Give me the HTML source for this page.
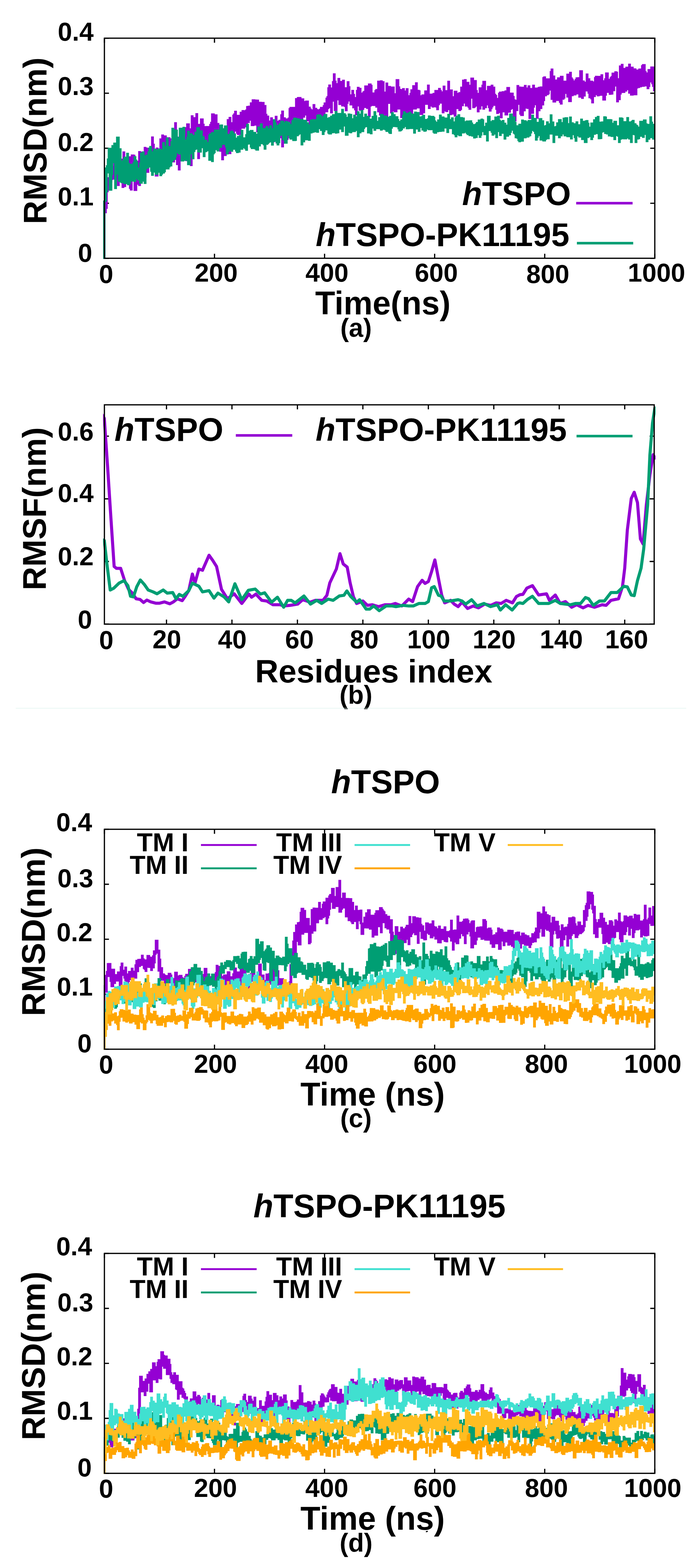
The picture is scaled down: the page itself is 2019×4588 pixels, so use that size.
<!DOCTYPE html><html><head><meta charset="utf-8"><title>RMSD / RMSF plots</title><style>html,body{margin:0;padding:0;background:#fff;}svg{display:block;}text{font-family:"Liberation Sans",Arial,Helvetica,sans-serif;font-weight:bold;fill:#000;}</style></head><body>
<svg width="2019" height="4588" viewBox="0 0 2019 4588">
<rect width="2019" height="4588" fill="#fff"/>
<defs><clipPath id="ca"><rect x="301.5" y="107.7" width="1618.5" height="652.0"/></clipPath>
<clipPath id="cb"><rect x="301.5" y="1180.5" width="1616.7" height="649.8"/></clipPath>
<clipPath id="cc"><rect x="301.5" y="2422.5" width="1618.5" height="651.5"/></clipPath>
<clipPath id="cd"><rect x="301.5" y="3663.5" width="1618.5" height="651.5"/></clipPath></defs>
<path d="M305.5 755.7V742.4M305.5 111.7V125.0M627.6 755.7V742.4M627.6 111.7V125.0M949.7 755.7V742.4M949.7 111.7V125.0M1271.8 755.7V742.4M1271.8 111.7V125.0M1593.9 755.7V742.4M1593.9 111.7V125.0M1916.0 755.7V742.4M1916.0 111.7V125.0M305.5 755.7H318.8M1916.0 755.7H1902.7M305.5 594.7H318.8M1916.0 594.7H1902.7M305.5 433.7H318.8M1916.0 433.7H1902.7M305.5 272.7H318.8M1916.0 272.7H1902.7M305.5 111.7H318.8M1916.0 111.7H1902.7" stroke="#000" stroke-width="3.6" fill="none"/>
<g clip-path="url(#ca)">
<path d="M306.0 757.7V610.8" stroke="#9400d3" stroke-width="5"/>
<path d="M307.1 544.9V544.9H309.8V530.2H312.5V518.4H315.2V518.4H317.9V510.5H320.6V510.5H323.3V501.4H326.0V499.4H328.7V485.4H331.4V476.1H334.1V475.2H336.8V475.2H339.5V475.2H342.2V471.3H344.9V465.4H347.6V465.4H350.3V465.4H353.0V464.3H355.7V464.3H358.4V443.0H361.1V443.0H363.8V443.0H366.5V463.6H369.2V466.9H371.9V457.2H374.6V457.2H377.3V457.2H380.0V457.2H382.7V452.0H385.4V452.0H388.1V452.0H390.8V452.0H393.5V453.0H396.2V470.3H398.9V470.3H401.6V470.3H404.3V442.1H407.0V442.1H409.7V442.1H412.4V443.8H415.1V443.3H417.8V443.3H420.5V429.8H423.2V429.8H425.9V429.8H428.6V432.0H431.3V432.0H434.0V432.0H436.7V429.5H439.4V429.5H442.1V399.3H444.8V399.3H447.5V399.3H450.2V420.5H452.9V436.6H455.6V431.8H458.3V431.8H461.0V431.8H463.7V434.5H466.4V405.1H469.1V405.1H471.8V393.5H474.5V393.5H477.2V393.5H479.9V396.2H482.6V396.2H485.3V396.2H488.0V401.5H490.7V401.5H493.4V401.5H496.1V401.5H498.8V404.8H501.5V419.1H504.2V391.2H506.9V391.2H509.6V357.6H512.3V357.6H515.0V357.6H517.7V398.2H520.4V400.1H523.1V395.9H525.8V388.6H528.5V388.6H531.2V388.6H533.9V389.5H536.6V371.9H539.3V371.9H542.0V371.9H544.7V361.0H547.4V361.0H550.1V361.0H552.8V361.0H555.5V375.4H558.2V337.3H560.9V337.3H563.6V337.3H566.3V342.8H569.0V342.8H571.7V331.0H574.4V331.0H577.1V331.0H579.8V362.4H582.5V362.4H585.2V346.4H587.9V346.4H590.6V346.4H593.3V346.4H596.0V362.0H598.7V368.9H601.4V368.7H604.1V368.7H606.8V368.7H609.5V368.7H612.2V362.7H614.9V356.5H617.6V331.8H620.3V331.8H623.0V331.8H625.7V331.8H628.4V334.6H631.1V334.6H633.8V334.6H636.5V359.8H639.2V359.8H641.9V365.7H644.6V386.8H647.3V387.4H650.0V387.4H652.7V389.1H655.4V371.8H658.1V371.8H660.8V371.8H663.5V348.6H666.2V348.6H668.9V342.1H671.6V342.1H674.3V342.1H677.0V357.5H679.7V335.4H682.4V331.7H685.1V324.1H687.8V324.1H690.5V324.1H693.2V336.1H695.9V336.1H698.6V336.1H701.3V327.1H704.0V327.1H706.7V321.9H709.4V321.9H712.1V321.9H714.8V322.4H717.5V320.2H720.2V310.3H722.9V310.0H725.6V309.3H728.3V309.3H731.0V299.6H733.7V299.6H736.4V290.4H739.1V290.4H741.8V290.4H744.5V290.4H747.2V291.3H749.9V291.3H752.6V291.6H755.3V291.6H758.0V297.7H760.7V297.7H763.4V297.7H766.1V298.3H768.8V298.3H771.5V298.3H774.2V307.3H776.9V307.3H779.6V333.1H782.3V338.3H785.0V338.3H787.7V352.8H790.4V343.3H793.1V343.3H795.8V343.3H798.5V349.0H801.2V361.9H803.9V338.8H806.6V338.8H809.3V338.8H812.0V353.4H814.7V350.6H817.4V350.6H820.1V334.3H822.8V323.4H825.5V323.4H828.2V323.4H830.9V343.3H833.6V343.3H836.3V346.6H839.0V346.6H841.7V344.0H844.4V316.2H847.1V312.7H849.8V312.7H852.5V312.7H855.2V312.7H857.9V312.7H860.6V312.7H863.3V287.1H866.0V287.1H868.7V284.0H871.4V283.8H874.1V283.8H876.8V283.8H879.5V283.8H882.2V287.7H884.9V287.7H887.6V287.7H890.3V295.4H893.0V294.3H895.7V294.3H898.4V294.3H901.1V294.3H903.8V311.9H906.5V311.9H909.2V317.2H911.9V320.0H914.6V304.6H917.3V304.6H920.0V304.6H922.7V315.6H925.4V315.6H928.1V319.1H930.8V319.9H933.5V318.1H936.2V312.8H938.9V312.8H941.6V312.8H944.3V307.5H947.0V299.7H949.7V299.7H952.4V285.7H955.1V281.3H957.8V255.3H960.5V247.2H963.2V247.2H965.9V247.2H968.6V255.9H971.3V237.3H974.0V214.5H976.7V214.5H979.4V214.5H982.1V236.1H984.8V243.2H987.5V228.0H990.2V228.0H992.9V228.0H995.6V236.8H998.3V236.8H1001.0V233.2H1003.7V233.2H1006.4V233.2H1009.1V255.2H1011.8V255.2H1014.5V237.6H1017.2V237.6H1019.9V237.6H1022.6V252.3H1025.3V276.0H1028.0V263.0H1030.7V263.0H1033.4V263.0H1036.1V274.7H1038.8V283.9H1041.5V262.9H1044.2V253.9H1046.9V253.9H1049.6V253.9H1052.3V257.1H1055.0V257.1H1057.7V270.9H1060.4V267.5H1063.1V265.8H1065.8V250.0H1068.5V250.0H1071.2V250.0H1073.9V250.0H1076.6V244.2H1079.3V244.2H1082.0V244.2H1084.7V244.2H1087.4V248.3H1090.1V270.6H1092.8V270.6H1095.5V263.4H1098.2V260.6H1100.9V260.6H1103.6V236.0H1106.3V236.0H1109.0V236.0H1111.7V235.1H1114.4V235.1H1117.1V235.1H1119.8V237.5H1122.5V237.5H1125.2V268.0H1127.9V241.4H1130.6V241.4H1133.3V241.4H1136.0V251.5H1138.7V251.5H1141.4V251.5H1144.1V253.2H1146.8V253.2H1149.5V253.2H1152.2V253.2H1154.9V272.7H1157.6V231.5H1160.3V231.5H1163.0V231.5H1165.7V231.5H1168.4V252.8H1171.1V260.1H1173.8V260.8H1176.5V257.8H1179.2V257.8H1181.9V257.8H1184.6V264.8H1187.3V258.0H1190.0V258.0H1192.7V258.0H1195.4V278.6H1198.1V271.7H1200.8V261.3H1203.5V261.3H1206.2V249.3H1208.9V249.3H1211.6V249.3H1214.3V240.7H1217.0V240.7H1219.7V240.7H1222.4V262.7H1225.1V262.7H1227.8V264.2H1230.5V278.7H1233.2V276.3H1235.9V276.3H1238.6V276.3H1241.3V264.5H1244.0V264.5H1246.7V264.5H1249.4V247.6H1252.1V247.6H1254.8V247.6H1257.5V274.1H1260.2V274.1H1262.9V274.1H1265.6V271.7H1268.3V271.7H1271.0V263.2H1273.7V263.2H1276.4V263.2H1279.1V263.2H1281.8V257.3H1284.5V257.3H1287.2V257.3H1289.9V262.9H1292.6V267.2H1295.3V250.5H1298.0V250.5H1300.7V250.5H1303.4V263.7H1306.1V263.7H1308.8V236.2H1311.5V236.2H1314.2V236.2H1316.9V261.8H1319.6V261.8H1322.3V261.8H1325.0V281.4H1327.7V265.4H1330.4V265.4H1333.1V265.4H1335.8V265.4H1338.5V271.8H1341.2V269.5H1343.9V269.5H1346.6V253.6H1349.3V253.6H1352.0V232.9H1354.7V232.9H1357.4V231.6H1360.1V231.6H1362.8V231.6H1365.5V239.5H1368.2V239.5H1370.9V239.5H1373.6V248.1H1376.3V227.1H1379.0V227.1H1381.7V227.1H1384.4V227.1H1387.1V234.3H1389.8V234.3H1392.5V234.3H1395.2V263.6H1397.9V271.7H1400.6V255.5H1403.3V255.5H1406.0V255.5H1408.7V247.8H1411.4V236.4H1414.1V236.4H1416.8V236.4H1419.5V236.4H1422.2V263.8H1424.9V251.2H1427.6V251.2H1430.3V251.2H1433.0V251.2H1435.7V247.7H1438.4V247.7H1441.1V247.7H1443.8V253.4H1446.5V253.4H1449.2V274.5H1451.9V277.8H1454.6V286.4H1457.3V271.3H1460.0V268.1H1462.7V268.1H1465.4V268.1H1468.1V266.7H1470.8V266.7H1473.5V266.7H1476.2V264.5H1478.9V264.5H1481.6V254.5H1484.3V254.5H1487.0V254.5H1489.7V254.5H1492.4V270.9H1495.1V270.9H1497.8V270.9H1500.5V270.9H1503.2V280.8H1505.9V290.4H1508.6V291.7H1511.3V248.8H1514.0V248.8H1516.7V248.8H1519.4V253.2H1522.1V253.2H1524.8V253.7H1527.5V253.7H1530.2V253.7H1532.9V248.4H1535.6V248.4H1538.3V248.4H1541.0V255.9H1543.7V249.7H1546.4V249.7H1549.1V249.7H1551.8V257.5H1554.5V257.5H1557.2V247.8H1559.9V247.8H1562.6V247.8H1565.3V256.2H1568.0V256.2H1570.7V256.2H1573.4V254.0H1576.1V254.0H1578.8V253.1H1581.5V253.1H1584.2V253.1H1586.9V225.4H1589.6V223.5H1592.3V223.5H1595.0V223.5H1597.7V229.3H1600.4V229.3H1603.1V229.3H1605.8V229.3H1608.5V208.0H1611.2V200.6H1613.9V200.6H1616.6V200.6H1619.3V221.0H1622.0V221.0H1624.7V232.7H1627.4V232.5H1630.1V226.3H1632.8V226.3H1635.5V226.3H1638.2V221.7H1640.9V221.7H1643.6V221.7H1646.3V221.7H1649.0V236.0H1651.7V236.0H1654.4V236.0H1657.1V215.4H1659.8V215.4H1662.5V215.4H1665.2V210.1H1667.9V210.1H1670.6V210.1H1673.3V226.6H1676.0V230.5H1678.7V235.2H1681.4V231.1H1684.1V226.2H1686.8V226.2H1689.5V225.7H1692.2V225.7H1694.9V205.4H1697.6V205.4H1700.3V205.4H1703.0V205.4H1705.7V235.5H1708.4V235.5H1711.1V239.1H1713.8V215.1H1716.5V215.1H1719.2V215.1H1721.9V229.1H1724.6V229.1H1727.3V236.0H1730.0V236.0H1732.7V236.0H1735.4V238.3H1738.1V225.5H1740.8V221.7H1743.5V221.7H1746.2V221.7H1748.9V222.1H1751.6V222.1H1754.3V222.1H1757.0V217.3H1759.7V217.3H1762.4V217.3H1765.1V234.7H1767.8V229.1H1770.5V211.9H1773.2V211.9H1775.9V211.9H1778.6V211.9H1781.3V230.6H1784.0V225.4H1786.7V222.5H1789.4V212.5H1792.1V212.5H1794.8V212.5H1797.5V208.6H1800.2V208.6H1802.9V208.6H1805.6V209.8H1808.3V228.8H1811.0V191.6H1813.7V191.6H1816.4V186.8H1819.1V186.8H1821.8V186.8H1824.5V198.8H1827.2V198.8H1829.9V194.9H1832.6V194.9H1835.3V194.9H1838.0V186.2H1840.7V186.2H1843.4V186.2H1846.1V195.1H1848.8V195.1H1851.5V195.1H1854.2V200.0H1856.9V200.0H1859.6V200.0H1862.3V203.4H1865.0V203.4H1867.7V200.5H1870.4V200.5H1873.1V200.5H1875.8V190.4H1878.5V187.5H1881.2V187.5H1883.9V187.5H1886.6V187.5H1889.3V207.7H1892.0V212.1H1894.7V201.9H1897.4V201.9H1900.1V201.9H1902.8V194.6H1905.5V194.6H1908.2V194.6H1910.9V194.6H1913.6V195.2H1916.3V267.2H1913.6V267.2H1910.9V254.3H1908.2V246.4H1905.5V241.3H1902.8V254.6H1900.1V261.1H1897.4V261.1H1894.7V261.1H1892.0V252.8H1889.3V252.8H1886.6V253.9H1883.9V253.9H1881.2V253.9H1878.5V255.5H1875.8V255.5H1873.1V257.4H1870.4V257.4H1867.7V259.0H1865.0V278.7H1862.3V278.7H1859.6V278.7H1856.9V278.7H1854.2V279.8H1851.5V279.8H1848.8V279.8H1846.1V279.8H1843.4V274.1H1840.7V274.1H1838.0V263.7H1835.3V267.9H1832.6V267.9H1829.9V271.9H1827.2V271.9H1824.5V271.9H1821.8V271.9H1819.1V276.7H1816.4V292.9H1813.7V292.9H1811.0V299.4H1808.3V299.4H1805.6V299.4H1802.9V253.2H1800.2V266.8H1797.5V266.8H1794.8V276.7H1792.1V276.7H1789.4V277.5H1786.7V277.5H1784.0V277.5H1781.3V271.8H1778.6V271.8H1775.9V280.1H1773.2V294.2H1770.5V294.2H1767.8V294.2H1765.1V294.2H1762.4V280.2H1759.7V280.2H1757.0V280.6H1754.3V281.9H1751.6V281.9H1748.9V281.9H1746.2V278.4H1743.5V284.1H1740.8V284.1H1738.1V302.6H1735.4V302.6H1732.7V302.6H1730.0V290.8H1727.3V287.5H1724.6V287.5H1721.9V274.3H1719.2V267.8H1716.5V267.5H1713.8V282.6H1711.1V282.6H1708.4V289.4H1705.7V289.4H1703.0V289.4H1700.3V285.8H1697.6V285.8H1694.9V285.8H1692.2V276.2H1689.5V276.2H1686.8V279.2H1684.1V279.2H1681.4V279.2H1678.7V281.6H1676.0V281.6H1673.3V298.7H1670.6V298.7H1667.9V298.7H1665.2V298.7H1662.5V285.5H1659.8V285.5H1657.1V274.8H1654.4V288.5H1651.7V291.8H1649.0V291.8H1646.3V306.1H1643.6V306.1H1640.9V306.1H1638.2V300.9H1635.5V295.6H1632.8V295.6H1630.1V295.6H1627.4V300.1H1624.7V300.1H1622.0V300.1H1619.3V300.1H1616.6V292.2H1613.9V292.2H1611.2V265.1H1608.5V275.8H1605.8V278.4H1603.1V278.4H1600.4V281.8H1597.7V281.8H1595.0V295.7H1592.3V308.5H1589.6V308.5H1586.9V318.9H1584.2V318.9H1581.5V325.4H1578.8V325.4H1576.1V347.4H1573.4V347.4H1570.7V347.4H1568.0V307.9H1565.3V315.0H1562.6V333.0H1559.9V333.0H1557.2V333.0H1554.5V348.3H1551.8V348.3H1549.1V348.3H1546.4V318.8H1543.7V318.8H1541.0V317.7H1538.3V325.7H1535.6V325.7H1532.9V339.6H1530.2V339.6H1527.5V339.6H1524.8V339.6H1522.1V335.4H1519.4V306.7H1516.7V325.0H1514.0V325.0H1511.3V355.3H1508.6V355.3H1505.9V355.3H1503.2V342.3H1500.5V319.2H1497.8V321.5H1495.1V329.7H1492.4V329.7H1489.7V329.7H1487.0V337.7H1484.3V337.7H1481.6V337.7H1478.9V337.7H1476.2V328.7H1473.5V328.7H1470.8V346.3H1468.1V346.3H1465.4V346.3H1462.7V330.7H1460.0V333.6H1457.3V333.6H1454.6V333.6H1451.9V321.5H1449.2V309.8H1446.5V309.8H1443.8V314.2H1441.1V319.5H1438.4V326.4H1435.7V326.4H1433.0V326.4H1430.3V316.2H1427.6V308.4H1424.9V316.6H1422.2V316.6H1419.5V320.9H1416.8V320.9H1414.1V320.9H1411.4V311.0H1408.7V320.4H1406.0V320.4H1403.3V328.8H1400.6V328.8H1397.9V328.8H1395.2V311.8H1392.5V314.7H1389.8V316.6H1387.1V316.6H1384.4V316.6H1381.7V288.8H1379.0V321.3H1376.3V321.3H1373.6V321.3H1370.9V315.6H1368.2V311.7H1365.5V311.7H1362.8V311.7H1360.1V303.1H1357.4V310.7H1354.7V310.7H1352.0V321.8H1349.3V324.9H1346.6V324.9H1343.9V324.9H1341.2V319.2H1338.5V319.2H1335.8V341.5H1333.1V341.5H1330.4V341.5H1327.7V335.6H1325.0V335.6H1322.3V337.1H1319.6V337.1H1316.9V337.1H1314.2V322.2H1311.5V327.9H1308.8V327.9H1306.1V327.9H1303.4V326.0H1300.7V331.5H1298.0V331.5H1295.3V331.5H1292.6V303.3H1289.9V303.3H1287.2V307.7H1284.5V322.6H1281.8V322.6H1279.1V322.6H1276.4V314.8H1273.7V313.7H1271.0V314.8H1268.3V314.8H1265.6V314.8H1262.9V311.7H1260.2V319.0H1257.5V319.0H1254.8V319.0H1252.1V306.8H1249.4V306.8H1246.7V306.8H1244.0V331.4H1241.3V331.4H1238.6V336.5H1235.9V336.5H1233.2V336.5H1230.5V336.5H1227.8V317.2H1225.1V317.3H1222.4V317.3H1219.7V320.6H1217.0V320.6H1214.3V320.6H1211.6V320.6H1208.9V335.1H1206.2V335.1H1203.5V338.2H1200.8V339.8H1198.1V339.8H1195.4V339.8H1192.7V344.3H1190.0V344.3H1187.3V344.3H1184.6V339.5H1181.9V339.5H1179.2V345.5H1176.5V345.5H1173.8V345.5H1171.1V320.5H1168.4V320.5H1165.7V320.5H1163.0V328.6H1160.3V328.6H1157.6V328.6H1154.9V328.6H1152.2V326.2H1149.5V331.8H1146.8V331.8H1144.1V331.8H1141.4V304.0H1138.7V304.0H1136.0V342.2H1133.3V342.2H1130.6V342.2H1127.9V351.2H1125.2V351.2H1122.5V351.2H1119.8V351.2H1117.1V338.1H1114.4V338.1H1111.7V338.1H1109.0V328.8H1106.3V328.8H1103.6V315.1H1100.9V315.1H1098.2V310.3H1095.5V310.3H1092.8V310.0H1090.1V310.0H1087.4V311.9H1084.7V342.7H1082.0V342.7H1079.3V342.7H1076.6V318.7H1073.9V318.7H1071.2V316.1H1068.5V316.1H1065.8V321.4H1063.1V328.8H1060.4V328.8H1057.7V328.8H1055.0V323.9H1052.3V323.9H1049.6V311.5H1046.9V337.6H1044.2V337.6H1041.5V337.6H1038.8V322.7H1036.1V316.9H1033.4V316.9H1030.7V308.4H1028.0V308.4H1025.3V308.4H1022.6V296.9H1019.9V303.7H1017.2V325.6H1014.5V325.6H1011.8V325.6H1009.1V313.0H1006.4V311.5H1003.7V311.5H1001.0V311.5H998.3V307.3H995.6V307.3H992.9V307.3H990.2V293.7H987.5V324.8H984.8V324.8H982.1V324.8H979.4V324.8H976.7V297.6H974.0V331.8H971.3V331.8H968.6V331.8H965.9V316.7H963.2V319.2H960.5V328.5H957.8V328.5H955.1V328.5H952.4V334.3H949.7V347.5H947.0V347.5H944.3V351.0H941.6V354.1H938.9V354.1H936.2V354.1H933.5V354.1H930.8V343.6H928.1V357.7H925.4V357.7H922.7V357.7H920.0V370.1H917.3V370.1H914.6V370.1H911.9V365.0H909.2V365.0H906.5V365.0H903.8V355.2H901.1V355.2H898.4V355.2H895.7V338.1H893.0V344.2H890.3V344.2H887.6V355.0H884.9V355.0H882.2V355.0H879.5V350.1H876.8V349.2H874.1V358.4H871.4V382.1H868.7V382.1H866.0V382.1H863.3V371.8H860.6V381.4H857.9V381.4H855.2V381.4H852.5V381.1H849.8V399.3H847.1V399.3H844.4V409.4H841.7V409.4H839.0V412.7H836.3V412.7H833.6V412.7H830.9V431.2H828.2V431.2H825.5V431.2H822.8V404.6H820.1V394.8H817.4V408.0H814.7V419.7H812.0V419.7H809.3V419.7H806.6V412.2H803.9V416.6H801.2V416.6H798.5V416.6H795.8V415.8H793.1V415.5H790.4V415.5H787.7V415.5H785.0V415.2H782.3V415.2H779.6V392.3H776.9V376.7H774.2V384.6H771.5V384.6H768.8V384.6H766.1V363.7H763.4V363.7H760.7V387.0H758.0V387.0H755.3V387.0H752.6V387.0H749.9V367.6H747.2V367.6H744.5V368.9H741.8V368.9H739.1V368.9H736.4V368.9H733.7V353.3H731.0V360.1H728.3V360.1H725.6V372.4H722.9V372.4H720.2V372.4H717.5V376.6H714.8V376.6H712.1V376.6H709.4V376.6H706.7V380.5H704.0V395.0H701.3V395.0H698.6V395.0H695.9V395.0H693.2V391.2H690.5V384.9H687.8V392.2H685.1V417.9H682.4V417.9H679.7V437.3H677.0V451.1H674.3V451.1H671.6V451.1H668.9V451.1H666.2V440.2H663.5V456.4H660.8V456.4H658.1V456.4H655.4V468.9H652.7V468.9H650.0V468.9H647.3V444.0H644.6V444.0H641.9V424.7H639.2V420.6H636.5V420.6H633.8V426.9H631.1V426.9H628.4V426.9H625.7V433.4H623.0V433.4H620.3V433.4H617.6V425.4H614.9V437.9H612.2V437.9H609.5V437.9H606.8V430.6H604.1V430.6H601.4V420.2H598.7V429.9H596.0V429.9H593.3V429.9H590.6V416.3H587.9V433.8H585.2V465.6H582.5V465.6H579.8V465.6H577.1V437.4H574.4V427.6H571.7V427.6H569.0V433.6H566.3V433.6H563.6V486.0H560.9V486.0H558.2V486.0H555.5V455.3H552.8V471.5H550.1V471.5H547.4V471.5H544.7V471.5H542.0V451.9H539.3V465.6H536.6V469.7H533.9V469.7H531.2V469.7H528.5V498.8H525.8V498.8H523.1V498.8H520.4V483.0H517.7V483.0H515.0V468.1H512.3V475.2H509.6V475.2H506.9V475.2H504.2V475.2H501.5V468.5H498.8V468.5H496.1V470.6H493.4V470.6H490.7V472.9H488.0V472.9H485.3V490.2H482.6V490.2H479.9V490.2H477.2V490.2H474.5V495.4H471.8V500.3H469.1V500.3H466.4V502.5H463.7V516.4H461.0V516.4H458.3V516.4H455.6V516.4H452.9V502.3H450.2V502.3H447.5V499.2H444.8V499.2H442.1V499.2H439.4V478.8H436.7V505.8H434.0V505.8H431.3V505.8H428.6V519.3H425.9V519.3H423.2V521.8H420.5V521.8H417.8V521.8H415.1V521.8H412.4V544.3H409.7V544.3H407.0V544.3H404.3V540.6H401.6V558.8H398.9V558.8H396.2V558.8H393.5V558.8H390.8V530.6H388.1V557.4H385.4V557.4H382.7V557.4H380.0V552.7H377.3V536.1H374.6V536.1H371.9V526.5H369.2V547.3H366.5V547.3H363.8V549.9H361.1V549.9H358.4V549.9H355.7V526.0H353.0V514.8H350.3V544.3H347.6V544.3H344.9V544.3H342.2V525.6H339.5V525.6H336.8V525.6H334.1V525.6H331.4V526.5H328.7V533.9H326.0V543.8H323.3V543.8H320.6V543.8H317.9V562.5H315.2V611.0H312.5V624.0H309.8V624.0H307.1Z" fill="#9400d3"/>
<path d="M305.0 757.7V586.7" stroke="#009e73" stroke-width="7"/>
<path d="M307.1 490.0V490.0H309.8V483.5H312.5V463.7H315.2V432.5H317.9V432.5H320.6V432.5H323.3V432.5H326.0V424.6H328.7V424.6H331.4V417.3H334.1V417.3H336.8V417.3H339.5V399.7H342.2V399.7H344.9V399.7H347.6V399.7H350.3V433.7H353.0V433.7H355.7V469.7H358.4V464.9H361.1V458.4H363.8V458.4H366.5V458.4H369.2V447.0H371.9V447.0H374.6V447.0H377.3V476.8H380.0V479.3H382.7V479.3H385.4V479.3H388.1V473.9H390.8V456.9H393.5V456.9H396.2V456.9H398.9V466.8H401.6V473.4H404.3V489.7H407.0V475.8H409.7V446.5H412.4V446.5H415.1V442.9H417.8V442.9H420.5V442.9H423.2V454.5H425.9V452.2H428.6V452.2H431.3V443.1H434.0V432.2H436.7V426.9H439.4V426.9H442.1V426.9H444.8V442.7H447.5V434.8H450.2V434.8H452.9V434.8H455.6V436.7H458.3V436.7H461.0V434.7H463.7V434.7H466.4V434.7H469.1V434.7H471.8V437.1H474.5V415.4H477.2V415.4H479.9V415.4H482.6V426.5H485.3V402.3H488.0V402.3H490.7V402.3H493.4V427.2H496.1V427.2H498.8V413.0H501.5V373.8H504.2V373.8H506.9V373.8H509.6V378.1H512.3V379.2H515.0V379.2H517.7V379.2H520.4V400.9H523.1V373.7H525.8V373.7H528.5V373.7H531.2V373.7H533.9V371.1H536.6V371.1H539.3V371.1H542.0V408.0H544.7V399.9H547.4V382.5H550.1V382.5H552.8V382.5H555.5V389.9H558.2V389.9H560.9V389.9H563.6V393.7H566.3V395.2H569.0V385.6H571.7V385.6H574.4V372.1H577.1V372.1H579.8V372.1H582.5V372.1H585.2V381.6H587.9V381.6H590.6V381.6H593.3V398.3H596.0V398.3H598.7V408.8H601.4V408.8H604.1V408.8H606.8V415.3H609.5V393.4H612.2V389.9H614.9V389.9H617.6V386.3H620.3V386.3H623.0V386.3H625.7V379.2H628.4V379.2H631.1V379.2H633.8V379.0H636.5V379.0H639.2V379.0H641.9V364.7H644.6V364.2H647.3V364.2H650.0V364.2H652.7V375.3H655.4V367.0H658.1V367.0H660.8V367.0H663.5V367.0H666.2V392.1H668.9V391.3H671.6V384.9H674.3V382.3H677.0V382.3H679.7V382.3H682.4V385.9H685.1V390.8H687.8V390.8H690.5V402.7H693.2V397.9H695.9V397.9H698.6V395.6H701.3V395.6H704.0V380.1H706.7V380.1H709.4V380.1H712.1V401.7H714.8V401.7H717.5V392.6H720.2V362.2H722.9V362.2H725.6V362.2H728.3V382.6H731.0V380.2H733.7V380.2H736.4V380.2H739.1V380.2H741.8V386.0H744.5V386.0H747.2V386.0H749.9V391.1H752.6V370.3H755.3V370.3H758.0V370.3H760.7V361.1H763.4V361.1H766.1V361.1H768.8V374.5H771.5V374.5H774.2V374.5H776.9V368.8H779.6V368.8H782.3V368.8H785.0V374.8H787.7V366.6H790.4V366.6H793.1V366.6H795.8V374.5H798.5V348.8H801.2V348.8H803.9V348.8H806.6V358.6H809.3V365.6H812.0V365.6H814.7V361.1H817.4V361.1H820.1V352.9H822.8V352.9H825.5V352.9H828.2V352.9H830.9V357.2H833.6V354.0H836.3V354.0H839.0V354.0H841.7V356.1H844.4V356.1H847.1V358.1H849.8V363.0H852.5V351.7H855.2V350.1H857.9V344.2H860.6V344.2H863.3V344.2H866.0V344.2H868.7V346.2H871.4V346.2H874.1V346.2H876.8V348.0H879.5V348.0H882.2V348.0H884.9V348.0H887.6V350.6H890.3V350.6H893.0V350.6H895.7V350.6H898.4V357.4H901.1V357.4H903.8V363.7H906.5V350.2H909.2V350.2H911.9V348.8H914.6V348.8H917.3V348.8H920.0V349.3H922.7V348.4H925.4V336.3H928.1V334.5H930.8V334.5H933.5V334.5H936.2V334.5H938.9V336.8H941.6V340.6H944.3V338.4H947.0V333.5H949.7V333.5H952.4V333.5H955.1V333.5H957.8V344.4H960.5V342.4H963.2V342.4H965.9V338.4H968.6V338.4H971.3V334.0H974.0V334.0H976.7V334.0H979.4V324.4H982.1V324.4H984.8V324.4H987.5V330.4H990.2V330.4H992.9V330.4H995.6V330.6H998.3V318.6H1001.0V318.6H1003.7V318.6H1006.4V331.2H1009.1V331.2H1011.8V335.0H1014.5V342.0H1017.2V331.9H1019.9V331.9H1022.6V331.9H1025.3V333.2H1028.0V333.2H1030.7V346.0H1033.4V335.5H1036.1V335.5H1038.8V335.5H1041.5V340.2H1044.2V325.4H1046.9V325.4H1049.6V325.4H1052.3V332.4H1055.0V322.0H1057.7V322.0H1060.4V322.0H1063.1V341.9H1065.8V332.6H1068.5V332.6H1071.2V332.6H1073.9V339.1H1076.6V339.1H1079.3V339.1H1082.0V347.1H1084.7V347.1H1087.4V338.9H1090.1V338.9H1092.8V325.3H1095.5V325.3H1098.2V325.3H1100.9V337.3H1103.6V353.6H1106.3V342.7H1109.0V342.7H1111.7V333.5H1114.4V333.5H1117.1V333.5H1119.8V333.5H1122.5V338.0H1125.2V338.0H1127.9V338.0H1130.6V338.0H1133.3V341.4H1136.0V341.4H1138.7V339.0H1141.4V339.0H1144.1V328.2H1146.8V328.2H1149.5V328.2H1152.2V334.1H1154.9V334.1H1157.6V339.9H1160.3V339.9H1163.0V339.9H1165.7V348.3H1168.4V353.8H1171.1V349.3H1173.8V349.3H1176.5V335.8H1179.2V325.5H1181.9V325.5H1184.6V325.5H1187.3V329.9H1190.0V329.9H1192.7V329.9H1195.4V327.0H1198.1V327.0H1200.8V327.0H1203.5V332.2H1206.2V332.2H1208.9V332.2H1211.6V326.6H1214.3V326.6H1217.0V326.6H1219.7V327.7H1222.4V327.7H1225.1V327.7H1227.8V340.5H1230.5V340.5H1233.2V338.5H1235.9V335.9H1238.6V335.9H1241.3V335.9H1244.0V347.9H1246.7V347.9H1249.4V346.0H1252.1V337.8H1254.8V337.8H1257.5V337.8H1260.2V339.0H1262.9V339.0H1265.6V339.0H1268.3V339.0H1271.0V341.9H1273.7V352.2H1276.4V355.9H1279.1V349.5H1281.8V349.5H1284.5V335.2H1287.2V335.2H1289.9V335.2H1292.6V340.8H1295.3V340.8H1298.0V340.8H1300.7V343.7H1303.4V343.9H1306.1V343.9H1308.8V332.9H1311.5V332.9H1314.2V332.9H1316.9V348.4H1319.6V343.3H1322.3V343.3H1325.0V343.3H1327.7V355.2H1330.4V343.2H1333.1V338.5H1335.8V338.5H1338.5V334.3H1341.2V334.3H1343.9V334.3H1346.6V342.6H1349.3V342.6H1352.0V342.6H1354.7V343.7H1357.4V343.7H1360.1V354.5H1362.8V352.4H1365.5V352.4H1368.2V352.4H1370.9V352.4H1373.6V351.9H1376.3V351.9H1379.0V351.9H1381.7V358.6H1384.4V363.1H1387.1V363.1H1389.8V361.0H1392.5V357.0H1395.2V357.0H1397.9V349.8H1400.6V349.8H1403.3V349.8H1406.0V347.1H1408.7V347.1H1411.4V347.1H1414.1V349.2H1416.8V368.4H1419.5V358.9H1422.2V358.9H1424.9V338.7H1427.6V338.7H1430.3V338.7H1433.0V338.7H1435.7V354.2H1438.4V351.3H1441.1V351.3H1443.8V351.3H1446.5V341.1H1449.2V341.1H1451.9V341.1H1454.6V338.4H1457.3V338.4H1460.0V338.4H1462.7V350.0H1465.4V353.5H1468.1V351.1H1470.8V351.1H1473.5V351.1H1476.2V359.1H1478.9V359.1H1481.6V364.8H1484.3V345.1H1487.0V345.1H1489.7V332.3H1492.4V332.3H1495.1V332.3H1497.8V332.3H1500.5V340.8H1503.2V340.8H1505.9V340.8H1508.6V356.4H1511.3V366.6H1514.0V366.6H1516.7V362.1H1519.4V362.1H1522.1V362.1H1524.8V349.8H1527.5V349.8H1530.2V349.8H1532.9V351.7H1535.6V351.7H1538.3V351.7H1541.0V354.6H1543.7V351.1H1546.4V351.1H1549.1V351.1H1551.8V351.1H1554.5V335.6H1557.2V335.6H1559.9V335.6H1562.6V345.0H1565.3V345.0H1568.0V345.0H1570.7V356.5H1573.4V356.5H1576.1V345.7H1578.8V345.4H1581.5V345.4H1584.2V345.4H1586.9V352.0H1589.6V352.0H1592.3V367.1H1595.0V365.7H1597.7V354.9H1600.4V354.9H1603.1V354.9H1605.8V360.8H1608.5V334.4H1611.2V334.4H1613.9V334.4H1616.6V355.5H1619.3V355.5H1622.0V369.5H1624.7V368.4H1627.4V358.1H1630.1V358.1H1632.8V348.4H1635.5V348.4H1638.2V348.4H1640.9V348.4H1643.6V357.2H1646.3V344.3H1649.0V344.3H1651.7V342.9H1654.4V342.9H1657.1V342.9H1659.8V342.9H1662.5V360.2H1665.2V340.9H1667.9V340.9H1670.6V340.9H1673.3V357.7H1676.0V357.7H1678.7V360.4H1681.4V360.4H1684.1V355.1H1686.8V355.1H1689.5V355.1H1692.2V363.5H1694.9V363.5H1697.6V347.1H1700.3V347.1H1703.0V347.1H1705.7V353.6H1708.4V353.6H1711.1V352.2H1713.8V351.3H1716.5V351.3H1719.2V351.3H1721.9V359.3H1724.6V370.4H1727.3V358.4H1730.0V358.4H1732.7V358.4H1735.4V348.9H1738.1V348.9H1740.8V342.3H1743.5V342.3H1746.2V338.9H1748.9V338.9H1751.6V338.9H1754.3V356.1H1757.0V355.8H1759.7V355.2H1762.4V355.2H1765.1V340.3H1767.8V340.3H1770.5V340.3H1773.2V341.0H1775.9V348.4H1778.6V348.5H1781.3V348.5H1784.0V348.5H1786.7V348.5H1789.4V349.2H1792.1V359.2H1794.8V353.6H1797.5V353.6H1800.2V353.6H1802.9V353.6H1805.6V366.6H1808.3V366.6H1811.0V343.5H1813.7V343.5H1816.4V343.5H1819.1V343.5H1821.8V345.0H1824.5V354.4H1827.2V354.4H1829.9V354.4H1832.6V342.6H1835.3V342.6H1838.0V342.6H1840.7V355.3H1843.4V355.3H1846.1V353.2H1848.8V350.8H1851.5V350.8H1854.2V350.8H1856.9V360.4H1859.6V360.4H1862.3V364.5H1865.0V366.2H1867.7V370.5H1870.4V353.5H1873.1V353.5H1875.8V353.5H1878.5V353.5H1881.2V349.4H1883.9V349.4H1886.6V349.4H1889.3V349.4H1892.0V360.7H1894.7V362.6H1897.4V362.4H1900.1V340.3H1902.8V340.3H1905.5V340.3H1908.2V356.1H1910.9V362.2H1913.6V362.2H1916.3V408.5H1913.6V408.5H1910.9V408.5H1908.2V404.3H1905.5V404.3H1902.8V408.7H1900.1V408.7H1897.4V415.9H1894.7V415.9H1892.0V415.9H1889.3V394.8H1886.6V403.4H1883.9V403.4H1881.2V403.4H1878.5V400.2H1875.8V400.2H1873.1V407.0H1870.4V408.2H1867.7V408.2H1865.0V418.6H1862.3V418.6H1859.6V418.6H1856.9V395.8H1854.2V394.9H1851.5V418.6H1848.8V418.6H1846.1V418.6H1843.4V408.2H1840.7V408.2H1838.0V405.2H1835.3V407.7H1832.6V407.7H1829.9V407.7H1827.2V407.7H1824.5V407.4H1821.8V407.4H1819.1V409.1H1816.4V418.6H1813.7V418.6H1811.0V418.6H1808.3V399.9H1805.6V398.3H1802.9V410.1H1800.2V410.1H1797.5V410.1H1794.8V400.8H1792.1V400.8H1789.4V400.8H1786.7V399.3H1784.0V399.3H1781.3V399.3H1778.6V393.5H1775.9V393.5H1773.2V392.0H1770.5V392.0H1767.8V386.8H1765.1V387.9H1762.4V406.8H1759.7V407.0H1757.0V407.4H1754.3V407.4H1751.6V407.4H1748.9V392.4H1746.2V392.4H1743.5V394.5H1740.8V394.5H1738.1V402.9H1735.4V410.1H1732.7V410.1H1730.0V410.1H1727.3V401.1H1724.6V403.7H1721.9V403.7H1719.2V418.6H1716.5V418.6H1713.8V418.6H1711.1V418.6H1708.4V409.8H1705.7V409.8H1703.0V409.8H1700.3V402.6H1697.6V402.6H1694.9V402.6H1692.2V398.9H1689.5V414.8H1686.8V414.8H1684.1V414.8H1681.4V403.9H1678.7V395.5H1676.0V407.9H1673.3V407.9H1670.6V407.9H1667.9V401.5H1665.2V401.5H1662.5V401.5H1659.8V401.5H1657.1V398.9H1654.4V398.9H1651.7V398.9H1649.0V393.6H1646.3V398.9H1643.6V398.9H1640.9V404.4H1638.2V404.4H1635.5V404.4H1632.8V397.2H1630.1V397.2H1627.4V397.2H1624.7V418.6H1622.0V418.6H1619.3V418.6H1616.6V393.7H1613.9V393.7H1611.2V393.7H1608.5V407.6H1605.8V407.6H1603.1V407.6H1600.4V409.5H1597.7V414.1H1595.0V414.1H1592.3V414.1H1589.6V414.1H1586.9V411.3H1584.2V411.3H1581.5V411.3H1578.8V398.2H1576.1V403.3H1573.4V411.6H1570.7V411.6H1568.0V411.6H1565.3V392.3H1562.6V385.9H1559.9V383.3H1557.2V390.5H1554.5V398.6H1551.8V399.5H1549.1V402.4H1546.4V402.4H1543.7V402.4H1541.0V404.8H1538.3V404.8H1535.6V404.8H1532.9V414.5H1530.2V414.5H1527.5V414.5H1524.8V416.3H1522.1V416.3H1519.4V416.3H1516.7V412.7H1514.0V406.3H1511.3V404.4H1508.6V404.4H1505.9V393.4H1503.2V390.9H1500.5V382.4H1497.8V388.8H1495.1V395.9H1492.4V395.9H1489.7V400.1H1487.0V400.1H1484.3V400.1H1481.6V408.6H1478.9V408.6H1476.2V408.6H1473.5V391.4H1470.8V391.4H1468.1V398.0H1465.4V398.0H1462.7V398.0H1460.0V386.5H1457.3V404.3H1454.6V404.3H1451.9V404.3H1449.2V393.8H1446.5V397.0H1443.8V397.0H1441.1V397.0H1438.4V388.4H1435.7V383.6H1433.0V383.6H1430.3V413.9H1427.6V413.9H1424.9V413.9H1422.2V395.5H1419.5V395.5H1416.8V395.5H1414.1V386.7H1411.4V396.8H1408.7V403.4H1406.0V403.4H1403.3V403.4H1400.6V395.8H1397.9V403.7H1395.2V403.7H1392.5V405.3H1389.8V405.3H1387.1V405.3H1384.4V399.8H1381.7V399.8H1379.0V398.3H1376.3V398.3H1373.6V398.3H1370.9V395.2H1368.2V395.2H1365.5V392.1H1362.8V388.4H1360.1V390.4H1357.4V390.4H1354.7V390.4H1352.0V398.5H1349.3V398.5H1346.6V398.5H1343.9V398.5H1341.2V395.7H1338.5V401.8H1335.8V401.8H1333.1V401.8H1330.4V395.5H1327.7V392.7H1325.0V392.7H1322.3V377.7H1319.6V377.7H1316.9V377.7H1314.2V389.3H1311.5V389.3H1308.8V389.3H1306.1V376.0H1303.4V376.0H1300.7V385.2H1298.0V385.2H1295.3V385.2H1292.6V386.0H1289.9V386.0H1287.2V386.0H1284.5V387.1H1281.8V387.1H1279.1V391.2H1276.4V391.2H1273.7V391.2H1271.0V391.2H1268.3V388.6H1265.6V380.7H1262.9V381.1H1260.2V381.1H1257.5V381.1H1254.8V381.1H1252.1V379.2H1249.4V384.3H1246.7V385.6H1244.0V385.6H1241.3V385.6H1238.6V382.0H1235.9V382.0H1233.2V374.5H1230.5V385.8H1227.8V385.8H1225.1V385.8H1222.4V379.0H1219.7V379.0H1217.0V391.1H1214.3V391.1H1211.6V391.1H1208.9V377.5H1206.2V377.5H1203.5V377.5H1200.8V377.5H1198.1V378.2H1195.4V378.2H1192.7V378.2H1190.0V378.2H1187.3V371.7H1184.6V376.0H1181.9V376.0H1179.2V380.9H1176.5V383.4H1173.8V384.7H1171.1V384.7H1168.4V384.7H1165.7V378.5H1163.0V372.5H1160.3V372.5H1157.6V371.7H1154.9V371.7H1152.2V371.7H1149.5V376.4H1146.8V391.9H1144.1V391.9H1141.4V391.9H1138.7V390.2H1136.0V385.9H1133.3V385.9H1130.6V385.9H1127.9V381.4H1125.2V379.7H1122.5V379.7H1119.8V382.3H1117.1V382.3H1114.4V382.3H1111.7V378.0H1109.0V378.0H1106.3V378.0H1103.6V378.0H1100.9V382.8H1098.2V382.8H1095.5V382.8H1092.8V376.2H1090.1V393.0H1087.4V393.0H1084.7V393.0H1082.0V390.4H1079.3V390.4H1076.6V390.4H1073.9V371.9H1071.2V373.1H1068.5V377.3H1065.8V386.5H1063.1V386.5H1060.4V386.5H1057.7V390.3H1055.0V390.3H1052.3V401.6H1049.6V401.6H1046.9V401.6H1044.2V383.3H1041.5V386.5H1038.8V386.5H1036.1V386.5H1033.4V386.5H1030.7V390.0H1028.0V390.0H1025.3V390.0H1022.6V388.5H1019.9V397.3H1017.2V397.3H1014.5V397.3H1011.8V397.3H1009.1V370.3H1006.4V386.4H1003.7V386.4H1001.0V386.4H998.3V379.2H995.6V379.2H992.9V389.9H990.2V389.9H987.5V391.0H984.8V391.0H982.1V391.0H979.4V389.1H976.7V389.9H974.0V389.9H971.3V393.4H968.6V393.4H965.9V393.4H963.2V393.4H960.5V391.1H957.8V381.5H955.1V381.5H952.4V386.6H949.7V395.1H947.0V395.1H944.3V395.1H941.6V383.3H938.9V383.3H936.2V378.0H933.5V388.5H930.8V388.5H928.1V388.5H925.4V387.3H922.7V387.3H920.0V388.4H917.3V388.4H914.6V390.5H911.9V390.5H909.2V412.0H906.5V412.0H903.8V412.0H901.1V410.4H898.4V410.4H895.7V410.4H893.0V416.4H890.3V416.4H887.6V425.4H884.9V425.4H882.2V425.4H879.5V393.2H876.8V395.7H874.1V398.8H871.4V398.8H868.7V412.2H866.0V412.7H863.3V412.7H860.6V412.7H857.9V412.7H855.2V408.4H852.5V408.4H849.8V408.4H847.1V404.7H844.4V397.3H841.7V420.4H839.0V420.4H836.3V420.4H833.6V420.4H830.9V410.6H828.2V410.6H825.5V397.0H822.8V397.4H820.1V418.7H817.4V425.4H814.7V425.4H812.0V425.4H809.3V419.3H806.6V415.0H803.9V415.0H801.2V425.9H798.5V425.9H795.8V425.9H793.1V416.4H790.4V418.1H787.7V421.1H785.0V423.8H782.3V423.8H779.6V438.0H776.9V438.0H774.2V438.0H771.5V425.3H768.8V421.9H766.1V421.9H763.4V428.6H760.7V428.6H758.0V440.7H755.3V440.7H752.6V440.7H749.9V440.7H747.2V437.5H744.5V436.2H741.8V436.2H739.1V436.2H736.4V436.2H733.7V432.0H731.0V422.8H728.3V423.2H725.6V441.2H722.9V441.2H720.2V441.2H717.5V436.9H714.8V433.9H712.1V438.2H709.4V438.2H706.7V438.2H704.0V446.6H701.3V446.6H698.6V447.9H695.9V447.9H693.2V447.9H690.5V443.6H687.8V438.2H685.1V438.2H682.4V444.1H679.7V444.1H677.0V444.1H674.3V441.0H671.6V444.9H668.9V451.9H666.2V451.9H663.5V451.9H660.8V431.2H658.1V423.8H655.4V423.8H652.7V423.9H650.0V432.1H647.3V433.1H644.6V433.6H641.9V443.3H639.2V443.3H636.5V443.3H633.8V439.2H631.1V447.9H628.4V451.6H625.7V474.2H623.0V474.2H620.3V474.2H617.6V470.4H614.9V470.4H612.2V470.4H609.5V442.4H606.8V444.8H604.1V445.5H601.4V459.8H598.7V459.8H596.0V459.8H593.3V433.7H590.6V446.4H587.9V446.4H585.2V446.4H582.5V446.1H579.8V446.1H577.1V437.2H574.4V439.0H571.7V444.8H569.0V466.1H566.3V466.1H563.6V466.1H560.9V451.4H558.2V483.2H555.5V483.2H552.8V483.2H550.1V483.2H547.4V470.4H544.7V470.4H542.0V470.4H539.3V472.5H536.6V472.5H533.9V472.5H531.2V472.4H528.5V451.9H525.8V451.9H523.1V451.9H520.4V448.4H517.7V459.4H515.0V467.8H512.3V467.8H509.6V471.0H506.9V474.3H504.2V486.9H501.5V486.9H498.8V490.0H496.1V495.8H493.4V495.8H490.7V495.8H488.0V495.8H485.3V504.1H482.6V507.8H479.9V507.8H477.2V511.1H474.5V515.6H471.8V515.6H469.1V515.6H466.4V505.4H463.7V511.3H461.0V511.3H458.3V511.3H455.6V511.3H452.9V505.1H450.2V514.6H447.5V514.6H444.8V514.6H442.1V502.8H439.4V490.1H436.7V493.1H434.0V493.1H431.3V495.0H428.6V538.2H425.9V538.2H423.2V538.2H420.5V531.6H417.8V537.6H415.1V537.6H412.4V537.6H409.7V537.6H407.0V528.3H404.3V528.3H401.6V524.5H398.9V532.3H396.2V532.3H393.5V532.3H390.8V531.2H388.1V531.2H385.4V531.2H382.7V539.3H380.0V541.9H377.3V541.9H374.6V541.9H371.9V538.8H369.2V538.8H366.5V538.8H363.8V538.8H361.1V536.0H358.4V536.0H355.7V536.0H353.0V534.1H350.3V531.4H347.6V531.4H344.9V510.8H342.2V553.2H339.5V553.2H336.8V553.2H334.1V477.5H331.4V511.7H328.7V558.1H326.0V558.1H323.3V558.1H320.6V558.1H317.9V507.5H315.2V563.5H312.5V590.2H309.8V590.2H307.1Z" fill="#009e73"/>
</g>
<rect x="305.5" y="111.7" width="1610.5" height="644.0" fill="none" stroke="#000" stroke-width="3.6"/>
<text x="270.0" y="766.2" font-size="75.5" text-anchor="end">0</text>
<text x="274.0" y="600.7" font-size="75.5" text-anchor="end">0.1</text>
<text x="274.0" y="441.7" font-size="75.5" text-anchor="end">0.2</text>
<text x="274.0" y="278.0" font-size="75.5" text-anchor="end">0.3</text>
<text x="274.0" y="118.7" font-size="75.5" text-anchor="end">0.4</text>
<text x="310.5" y="828.0" font-size="75.5" text-anchor="middle">0</text>
<text x="632.6" y="824.0" font-size="75.5" text-anchor="middle">200</text>
<text x="956.7" y="824.0" font-size="75.5" text-anchor="middle">400</text>
<text x="1276.8" y="824.0" font-size="75.5" text-anchor="middle">600</text>
<text x="1602.9" y="828.0" font-size="75.5" text-anchor="middle">800</text>
<text x="1921.0" y="824.0" font-size="75.5" text-anchor="middle">1000</text>
<text x="0" y="0" font-size="95.5" text-anchor="middle" transform="translate(135.7 412) rotate(-90)">RMSD(nm)</text>
<text x="922.2" y="920.4" font-size="95.5" text-anchor="start">Time(ns)</text>
<text x="995.7" y="985.4" font-size="75.5" text-anchor="start">(a)</text>
<text x="1352.2" y="600.4" font-size="95.5" text-anchor="start"><tspan font-style="italic">h</tspan>TSPO</text>
<text x="923.8" y="720.4" font-size="96.1" text-anchor="start"><tspan font-style="italic">h</tspan>TSPO-PK11195</text>
<path d="M1686.0 594.5H1851.0" stroke="#9400d3" stroke-width="7.5"/>
<path d="M1688.0 711.5H1852.8" stroke="#009e73" stroke-width="7.6"/>
<path d="M487.2 1826.3V1813.0M487.2 1184.5V1197.8M678.7 1826.3V1813.0M678.7 1184.5V1197.8M870.3 1826.3V1813.0M870.3 1184.5V1197.8M1061.8 1826.3V1813.0M1061.8 1184.5V1197.8M1253.4 1826.3V1813.0M1253.4 1184.5V1197.8M1444.9 1826.3V1813.0M1444.9 1184.5V1197.8M1636.4 1826.3V1813.0M1636.4 1184.5V1197.8M1828.0 1826.3V1813.0M1828.0 1184.5V1197.8M305.5 1826.3H318.8M1914.2 1826.3H1900.9M305.5 1642.9H318.8M1914.2 1642.9H1900.9M305.5 1459.6H318.8M1914.2 1459.6H1900.9M305.5 1276.2H318.8M1914.2 1276.2H1900.9" stroke="#000" stroke-width="3.6" fill="none"/>
<g clip-path="url(#cb)">
<polyline points="297.6,1212.0 305.2,1223.9 314.8,1365.1 324.4,1513.7 334.0,1657.6 340.7,1663.1 353.1,1663.1 364.6,1698.9 376.1,1724.5 387.6,1735.5 398.1,1752.0 409.6,1753.9 420.2,1763.0 429.7,1755.7 441.2,1761.2 455.6,1764.9 467.1,1764.9 481.5,1761.2 496.8,1766.7 507.3,1761.2 518.8,1752.0 533.2,1757.5 540.8,1746.5 552.3,1728.2 562.9,1679.6 570.5,1706.2 582.0,1664.9 592.5,1668.6 611.7,1624.6 622.2,1639.3 633.7,1657.6 648.1,1724.5 665.3,1752.0 685.4,1737.4 707.5,1765.8 728.5,1738.3 736.2,1747.5 748.7,1738.3 765.9,1756.6 780.3,1758.5 798.5,1769.5 819.5,1769.5 830.1,1773.1 849.2,1771.3 871.2,1767.6 885.6,1754.8 907.6,1762.1 923.0,1756.6 945.0,1756.6 956.5,1741.9 965.1,1705.3 984.2,1664.9 994.8,1620.0 1004.4,1650.3 1015.9,1659.4 1024.5,1705.3 1034.0,1745.6 1043.6,1765.8 1061.8,1758.5 1075.2,1771.3 1089.6,1769.5 1107.8,1775.0 1126.0,1769.5 1144.2,1769.5 1156.6,1765.8 1175.8,1773.1 1195.9,1753.0 1207.4,1760.3 1221.8,1716.3 1235.2,1697.9 1243.8,1707.1 1253.4,1701.6 1262.9,1672.3 1272.5,1638.3 1281.1,1683.3 1292.6,1741.9 1301.2,1764.0 1318.5,1756.6 1329.0,1767.6 1340.5,1775.0 1352.0,1762.1 1368.3,1780.5 1384.6,1773.1 1399.9,1778.6 1418.1,1767.6 1436.3,1771.3 1451.6,1764.0 1466.0,1765.8 1481.3,1756.6 1499.5,1764.0 1511.0,1745.6 1521.5,1740.1 1530.1,1739.2 1541.6,1720.9 1557.9,1713.5 1576.1,1741.0 1599.1,1737.4 1607.7,1756.6 1624.9,1741.0 1639.3,1765.8 1654.6,1760.3 1672.8,1776.8 1687.2,1769.5 1706.4,1778.6 1720.7,1771.3 1739.9,1776.8 1761.9,1769.5 1773.4,1771.3 1787.8,1756.6 1809.8,1752.0 1821.3,1717.2 1828.0,1662.2 1835.6,1551.2 1847.1,1458.6 1855.8,1440.3 1865.3,1470.6 1873.9,1576.9 1881.6,1591.6 1891.2,1477.9 1901.7,1389.0 1911.3,1330.3 1916.1,1340.4" fill="none" stroke="#9400d3" stroke-width="9" stroke-linejoin="round" stroke-linecap="round"/>
<polyline points="297.6,1578.7 305.2,1581.5 312.9,1650.3 322.5,1726.4 333.0,1720.9 348.3,1706.2 362.7,1698.9 374.2,1713.5 381.9,1744.7 390.5,1746.5 400.0,1717.2 410.6,1697.0 422.1,1709.9 433.6,1726.4 447.9,1731.9 459.4,1737.4 477.6,1726.4 489.1,1735.5 505.4,1733.7 515.0,1752.0 524.6,1739.2 535.1,1744.7 552.3,1728.2 562.9,1706.2 582.0,1715.4 592.5,1731.9 611.7,1728.2 626.1,1750.2 637.6,1735.5 655.8,1746.5 669.2,1761.2 687.4,1708.0 707.5,1754.8 726.6,1727.3 746.7,1723.6 762.1,1738.3 774.5,1734.6 794.6,1762.1 811.9,1747.5 830.1,1776.8 841.5,1756.6 852.1,1756.6 863.6,1764.0 889.4,1743.8 908.6,1767.6 926.8,1756.6 941.1,1765.8 960.3,1753.0 974.7,1756.6 992.9,1743.8 1006.3,1741.9 1014.9,1729.1 1026.4,1745.6 1043.6,1762.1 1052.2,1754.8 1071.4,1782.3 1081.9,1782.3 1093.4,1773.1 1109.7,1786.9 1129.8,1773.1 1148.0,1773.1 1158.5,1775.0 1179.6,1771.3 1195.9,1773.1 1209.3,1773.1 1225.6,1765.8 1243.8,1765.8 1253.4,1760.3 1262.9,1719.9 1270.6,1716.3 1283.0,1741.9 1290.7,1743.8 1299.3,1758.5 1318.5,1758.5 1340.5,1754.8 1352.0,1758.5 1362.5,1767.6 1379.8,1754.8 1396.1,1773.1 1416.2,1765.8 1435.3,1775.0 1455.4,1769.5 1464.1,1785.0 1479.4,1769.5 1498.5,1785.0 1514.8,1765.8 1520.6,1764.0 1530.1,1765.8 1543.5,1753.9 1557.9,1744.7 1576.1,1765.8 1605.8,1765.8 1624.9,1756.6 1639.3,1765.8 1669.0,1769.5 1683.4,1765.8 1698.7,1765.8 1713.1,1748.4 1722.6,1752.0 1736.0,1771.3 1754.2,1758.5 1768.6,1758.5 1787.8,1733.7 1806.0,1733.7 1825.1,1715.4 1835.6,1717.2 1847.1,1741.0 1855.8,1742.9 1865.3,1698.9 1875.9,1662.2 1883.5,1606.3 1895.0,1477.9 1901.7,1330.3 1909.4,1237.7 1916.1,1193.7" fill="none" stroke="#009e73" stroke-width="9" stroke-linejoin="round" stroke-linecap="round"/>
</g>
<rect x="305.5" y="1184.5" width="1608.7" height="641.8" fill="none" stroke="#000" stroke-width="3.6"/>
<text x="269.5" y="1839.0" font-size="75.5" text-anchor="end">0</text>
<text x="274.0" y="1654.0" font-size="75.5" text-anchor="end">0.2</text>
<text x="274.0" y="1468.5" font-size="75.5" text-anchor="end">0.4</text>
<text x="274.0" y="1288.5" font-size="75.5" text-anchor="end">0.6</text>
<text x="311.0" y="1899.0" font-size="75.5" text-anchor="middle">0</text>
<text x="488.2" y="1897.0" font-size="75.5" text-anchor="middle">20</text>
<text x="679.7" y="1897.0" font-size="75.5" text-anchor="middle">40</text>
<text x="876.3" y="1897.0" font-size="75.5" text-anchor="middle">60</text>
<text x="1065.8" y="1897.0" font-size="75.5" text-anchor="middle">80</text>
<text x="1254.4" y="1897.0" font-size="75.5" text-anchor="middle">100</text>
<text x="1445.9" y="1897.0" font-size="75.5" text-anchor="middle">120</text>
<text x="1642.4" y="1897.0" font-size="75.5" text-anchor="middle">140</text>
<text x="1833.5" y="1897.0" font-size="75.5" text-anchor="middle">160</text>
<text x="0" y="0" font-size="95.5" text-anchor="middle" transform="translate(134 1488.6) rotate(-90)">RMSF(nm)</text>
<text x="746.6" y="1996.6" font-size="94.6" text-anchor="start">Residues index</text>
<text x="993.2" y="2059.1" font-size="75.5" text-anchor="start">(b)</text>
<text x="335.1" y="1290.3" font-size="95.5" text-anchor="start"><tspan font-style="italic">h</tspan>TSPO</text>
<text x="923.6" y="1290.3" font-size="95.1" text-anchor="start"><tspan font-style="italic">h</tspan>TSPO-PK11195</text>
<path d="M690.0 1274.0H855.2" stroke="#9400d3" stroke-width="7.7"/>
<path d="M1687.0 1276.0H1850.8" stroke="#009e73" stroke-width="7.7"/>
<path d="M46 2072.4H2008" stroke="#d9f1eb" stroke-width="1.3"/>
<path d="M305.5 3070.0V3056.7M305.5 2426.5V2439.8M627.6 3070.0V3056.7M627.6 2426.5V2439.8M949.7 3070.0V3056.7M949.7 2426.5V2439.8M1271.8 3070.0V3056.7M1271.8 2426.5V2439.8M1593.9 3070.0V3056.7M1593.9 2426.5V2439.8M1916.0 3070.0V3056.7M1916.0 2426.5V2439.8M305.5 3070.0H318.8M1916.0 3070.0H1902.7M305.5 2909.1H318.8M1916.0 2909.1H1902.7M305.5 2748.2H318.8M1916.0 2748.2H1902.7M305.5 2587.4H318.8M1916.0 2587.4H1902.7M305.5 2426.5H318.8M1916.0 2426.5H1902.7" stroke="#000" stroke-width="3.6" fill="none"/>
<g clip-path="url(#cc)">
<path d="M306.0 3072.0V2882.3" stroke="#9400d3" stroke-width="5"/>
<path d="M307.1 2852.6V2852.6H309.8V2840.9H312.5V2817.9H315.2V2817.7H317.9V2817.7H320.6V2817.7H323.3V2817.7H326.0V2834.4H328.7V2834.4H331.4V2834.4H334.1V2834.4H336.8V2850.3H339.5V2850.3H342.2V2842.6H344.9V2842.6H347.6V2842.6H350.3V2826.9H353.0V2816.4H355.7V2816.4H358.4V2816.4H361.1V2837.4H363.8V2828.3H366.5V2828.3H369.2V2828.3H371.9V2848.2H374.6V2841.0H377.3V2841.0H380.0V2841.0H382.7V2831.6H385.4V2831.6H388.1V2831.6H390.8V2840.2H393.5V2821.6H396.2V2808.6H398.9V2808.6H401.6V2805.8H404.3V2805.8H407.0V2805.4H409.7V2805.4H412.4V2793.5H415.1V2793.5H417.8V2793.5H420.5V2804.3H423.2V2807.2H425.9V2807.2H428.6V2794.2H431.3V2794.2H434.0V2794.2H436.7V2794.2H439.4V2799.0H442.1V2799.4H444.8V2795.2H447.5V2780.8H450.2V2780.8H452.9V2749.8H455.6V2749.8H458.3V2749.8H461.0V2749.8H463.7V2778.8H466.4V2778.8H469.1V2805.0H471.8V2830.0H474.5V2830.0H477.2V2848.3H479.9V2848.3H482.6V2851.6H485.3V2853.0H488.0V2853.0H490.7V2846.6H493.4V2846.6H496.1V2846.6H498.8V2846.6H501.5V2851.4H504.2V2861.7H506.9V2861.7H509.6V2843.3H512.3V2843.3H515.0V2843.3H517.7V2843.3H520.4V2854.3H523.1V2852.6H525.8V2852.6H528.5V2852.6H531.2V2852.6H533.9V2859.1H536.6V2861.2H539.3V2855.2H542.0V2849.5H544.7V2849.5H547.4V2849.5H550.1V2835.0H552.8V2835.0H555.5V2835.0H558.2V2835.5H560.9V2835.5H563.6V2833.4H566.3V2833.4H569.0V2833.4H571.7V2836.7H574.4V2836.7H577.1V2836.7H579.8V2849.0H582.5V2849.0H585.2V2866.8H587.9V2856.3H590.6V2856.3H593.3V2850.1H596.0V2832.0H598.7V2832.0H601.4V2832.0H604.1V2832.0H606.8V2863.5H609.5V2862.6H612.2V2862.6H614.9V2856.2H617.6V2856.2H620.3V2854.2H623.0V2850.3H625.7V2850.3H628.4V2844.4H631.1V2823.0H633.8V2823.0H636.5V2823.0H639.2V2826.3H641.9V2826.3H644.6V2826.3H647.3V2826.3H650.0V2855.8H652.7V2851.2H655.4V2851.2H658.1V2851.2H660.8V2851.2H663.5V2842.1H666.2V2842.1H668.9V2842.1H671.6V2842.1H674.3V2856.4H677.0V2856.4H679.7V2847.7H682.4V2831.1H685.1V2831.1H687.8V2831.1H690.5V2831.1H693.2V2842.5H695.9V2842.5H698.6V2842.5H701.3V2826.6H704.0V2826.6H706.7V2826.6H709.4V2814.9H712.1V2814.9H714.8V2814.9H717.5V2814.9H720.2V2847.9H722.9V2858.0H725.6V2849.7H728.3V2849.7H731.0V2847.4H733.7V2847.4H736.4V2847.4H739.1V2836.9H741.8V2836.9H744.5V2836.9H747.2V2861.0H749.9V2861.0H752.6V2851.1H755.3V2819.5H758.0V2819.5H760.7V2819.5H763.4V2819.5H766.1V2851.5H768.8V2851.5H771.5V2851.5H774.2V2867.3H776.9V2848.4H779.6V2848.4H782.3V2848.4H785.0V2847.3H787.7V2831.9H790.4V2831.9H793.1V2822.6H795.8V2822.6H798.5V2822.6H801.2V2822.6H803.9V2855.7H806.6V2839.1H809.3V2839.1H812.0V2839.1H814.7V2839.1H817.4V2861.9H820.1V2862.2H822.8V2862.2H825.5V2862.2H828.2V2862.2H830.9V2875.8H833.6V2875.8H836.3V2879.5H839.0V2879.5H841.7V2879.5H844.4V2871.6H847.1V2821.4H849.8V2815.5H852.5V2784.9H855.2V2751.9H857.9V2727.0H860.6V2727.0H863.3V2704.9H866.0V2704.9H868.7V2698.3H871.4V2698.3H874.1V2697.1H876.8V2668.1H879.5V2656.2H882.2V2656.2H884.9V2656.2H887.6V2656.2H890.3V2662.5H893.0V2662.5H895.7V2685.9H898.4V2685.9H901.1V2685.9H903.8V2685.9H906.5V2707.2H909.2V2660.0H911.9V2660.0H914.6V2655.5H917.3V2655.5H920.0V2655.5H922.7V2655.9H925.4V2655.9H928.1V2655.9H930.8V2639.1H933.5V2639.1H936.2V2639.1H938.9V2657.3H941.6V2644.5H944.3V2637.8H947.0V2637.8H949.7V2637.8H952.4V2626.7H955.1V2626.7H957.8V2626.7H960.5V2620.2H963.2V2615.9H965.9V2615.7H968.6V2598.1H971.3V2598.1H974.0V2598.1H976.7V2598.1H979.4V2621.8H982.1V2595.6H984.8V2595.6H987.5V2595.6H990.2V2574.6H992.9V2574.6H995.6V2574.6H998.3V2627.0H1001.0V2611.8H1003.7V2611.8H1006.4V2611.8H1009.1V2611.8H1011.8V2627.6H1014.5V2627.6H1017.2V2627.6H1019.9V2627.6H1022.6V2628.1H1025.3V2628.1H1028.0V2628.1H1030.7V2638.9H1033.4V2638.9H1036.1V2662.8H1038.8V2649.8H1041.5V2649.8H1044.2V2649.8H1046.9V2662.6H1049.6V2662.6H1052.3V2661.5H1055.0V2661.5H1057.7V2661.5H1060.4V2699.6H1063.1V2682.2H1065.8V2682.2H1068.5V2669.6H1071.2V2669.6H1073.9V2660.5H1076.6V2660.5H1079.3V2660.5H1082.0V2660.5H1084.7V2676.4H1087.4V2676.4H1090.1V2676.4H1092.8V2676.4H1095.5V2670.9H1098.2V2663.2H1100.9V2663.2H1103.6V2663.2H1106.3V2663.2H1109.0V2654.2H1111.7V2654.2H1114.4V2654.2H1117.1V2654.2H1119.8V2659.5H1122.5V2663.7H1125.2V2666.5H1127.9V2674.7H1130.6V2674.7H1133.3V2679.5H1136.0V2679.5H1138.7V2679.5H1141.4V2689.7H1144.1V2689.7H1146.8V2689.7H1149.5V2726.0H1152.2V2737.2H1154.9V2709.9H1157.6V2709.9H1160.3V2709.9H1163.0V2709.9H1165.7V2726.4H1168.4V2726.3H1171.1V2711.5H1173.8V2711.5H1176.5V2711.5H1179.2V2716.2H1181.9V2716.2H1184.6V2711.7H1187.3V2705.9H1190.0V2705.9H1192.7V2705.9H1195.4V2680.2H1198.1V2680.2H1200.8V2680.2H1203.5V2701.2H1206.2V2681.1H1208.9V2681.1H1211.6V2681.1H1214.3V2681.1H1217.0V2684.1H1219.7V2684.1H1222.4V2684.1H1225.1V2685.3H1227.8V2685.3H1230.5V2685.3H1233.2V2703.3H1235.9V2707.4H1238.6V2707.4H1241.3V2723.0H1244.0V2698.9H1246.7V2698.9H1249.4V2698.9H1252.1V2698.9H1254.8V2702.1H1257.5V2701.8H1260.2V2701.8H1262.9V2693.1H1265.6V2693.1H1268.3V2693.1H1271.0V2709.5H1273.7V2711.1H1276.4V2711.1H1279.1V2715.9H1281.8V2708.2H1284.5V2708.2H1287.2V2708.2H1289.9V2717.8H1292.6V2717.8H1295.3V2717.8H1298.0V2710.5H1300.7V2710.5H1303.4V2710.5H1306.1V2724.2H1308.8V2724.2H1311.5V2724.2H1314.2V2722.0H1316.9V2691.1H1319.6V2691.1H1322.3V2691.1H1325.0V2720.7H1327.7V2719.7H1330.4V2719.7H1333.1V2719.7H1335.8V2678.8H1338.5V2678.8H1341.2V2678.8H1343.9V2697.0H1346.6V2697.0H1349.3V2697.0H1352.0V2694.5H1354.7V2688.2H1357.4V2688.2H1360.1V2687.5H1362.8V2687.5H1365.5V2687.5H1368.2V2687.5H1370.9V2691.8H1373.6V2701.3H1376.3V2695.7H1379.0V2693.1H1381.7V2693.1H1384.4V2693.1H1387.1V2693.1H1389.8V2726.4H1392.5V2713.0H1395.2V2711.6H1397.9V2711.6H1400.6V2711.6H1403.3V2710.6H1406.0V2710.6H1408.7V2710.6H1411.4V2689.3H1414.1V2689.3H1416.8V2689.3H1419.5V2689.3H1422.2V2693.9H1424.9V2716.2H1427.6V2714.1H1430.3V2714.1H1433.0V2714.1H1435.7V2714.1H1438.4V2720.2H1441.1V2735.5H1443.8V2733.5H1446.5V2733.5H1449.2V2728.0H1451.9V2728.0H1454.6V2713.7H1457.3V2713.7H1460.0V2713.7H1462.7V2717.0H1465.4V2717.0H1468.1V2717.0H1470.8V2720.3H1473.5V2726.2H1476.2V2726.2H1478.9V2726.2H1481.6V2726.2H1484.3V2720.5H1487.0V2720.5H1489.7V2720.5H1492.4V2720.5H1495.1V2720.9H1497.8V2720.9H1500.5V2720.9H1503.2V2733.1H1505.9V2727.6H1508.6V2727.6H1511.3V2725.7H1514.0V2725.7H1516.7V2725.7H1519.4V2725.7H1522.1V2737.5H1524.8V2728.8H1527.5V2728.8H1530.2V2728.8H1532.9V2728.8H1535.6V2734.1H1538.3V2734.1H1541.0V2736.4H1543.7V2736.4H1546.4V2736.8H1549.1V2742.6H1551.8V2742.6H1554.5V2730.5H1557.2V2730.5H1559.9V2730.5H1562.6V2726.1H1565.3V2714.0H1568.0V2714.0H1570.7V2667.7H1573.4V2667.7H1576.1V2667.7H1578.8V2667.7H1581.5V2672.3H1584.2V2672.3H1586.9V2652.2H1589.6V2652.2H1592.3V2652.2H1595.0V2667.1H1597.7V2667.1H1600.4V2674.8H1603.1V2674.8H1605.8V2677.4H1608.5V2677.4H1611.2V2699.2H1613.9V2682.5H1616.6V2682.5H1619.3V2682.5H1622.0V2682.5H1624.7V2694.2H1627.4V2694.2H1630.1V2694.2H1632.8V2694.2H1635.5V2707.6H1638.2V2721.9H1640.9V2704.6H1643.6V2704.6H1646.3V2704.6H1649.0V2713.2H1651.7V2711.7H1654.4V2711.3H1657.1V2711.3H1659.8V2703.4H1662.5V2683.9H1665.2V2683.9H1667.9V2683.9H1670.6V2683.9H1673.3V2681.7H1676.0V2681.7H1678.7V2681.7H1681.4V2684.0H1684.1V2701.4H1686.8V2708.2H1689.5V2696.3H1692.2V2696.3H1694.9V2696.3H1697.6V2696.3H1700.3V2706.6H1703.0V2706.6H1705.7V2662.7H1708.4V2662.7H1711.1V2648.5H1713.8V2641.8H1716.5V2608.3H1719.2V2608.3H1721.9V2608.3H1724.6V2608.3H1727.3V2609.8H1730.0V2609.8H1732.7V2609.8H1735.4V2617.5H1738.1V2650.4H1740.8V2650.4H1743.5V2689.3H1746.2V2698.1H1748.9V2689.2H1751.6V2689.2H1754.3V2670.7H1757.0V2670.7H1759.7V2670.7H1762.4V2670.7H1765.1V2685.3H1767.8V2685.3H1770.5V2697.6H1773.2V2697.6H1775.9V2705.4H1778.6V2705.4H1781.3V2692.5H1784.0V2692.5H1786.7V2692.5H1789.4V2692.5H1792.1V2696.1H1794.8V2708.6H1797.5V2690.0H1800.2V2690.0H1802.9V2690.0H1805.6V2694.1H1808.3V2670.2H1811.0V2670.2H1813.7V2670.2H1816.4V2695.0H1819.1V2697.8H1821.8V2695.1H1824.5V2678.4H1827.2V2678.4H1829.9V2678.4H1832.6V2678.4H1835.3V2682.0H1838.0V2682.0H1840.7V2679.2H1843.4V2679.2H1846.1V2679.2H1848.8V2679.2H1851.5V2687.1H1854.2V2673.9H1856.9V2673.9H1859.6V2673.9H1862.3V2676.8H1865.0V2676.1H1867.7V2676.1H1870.4V2676.1H1873.1V2693.5H1875.8V2693.5H1878.5V2693.5H1881.2V2689.6H1883.9V2647.3H1886.6V2647.3H1889.3V2647.3H1892.0V2690.2H1894.7V2685.4H1897.4V2655.5H1900.1V2655.5H1902.8V2655.5H1905.5V2678.9H1908.2V2651.1H1910.9V2651.1H1913.6V2651.1H1916.3V2707.6H1913.6V2709.2H1910.9V2709.2H1908.2V2709.2H1905.5V2709.2H1902.8V2703.4H1900.1V2738.5H1897.4V2738.5H1894.7V2739.9H1892.0V2739.9H1889.3V2739.9H1886.6V2739.9H1883.9V2737.5H1881.2V2743.1H1878.5V2743.1H1875.8V2743.1H1873.1V2720.0H1870.4V2722.2H1867.7V2722.2H1865.0V2722.2H1862.3V2722.2H1859.6V2730.2H1856.9V2744.7H1854.2V2744.7H1851.5V2744.7H1848.8V2717.7H1846.1V2737.6H1843.4V2737.6H1840.7V2737.6H1838.0V2712.9H1835.3V2727.3H1832.6V2736.1H1829.9V2736.1H1827.2V2736.1H1824.5V2757.0H1821.8V2757.0H1819.1V2757.0H1816.4V2757.0H1813.7V2749.1H1811.0V2727.2H1808.3V2727.2H1805.6V2727.2H1802.9V2744.0H1800.2V2745.7H1797.5V2745.7H1794.8V2745.7H1792.1V2745.7H1789.4V2762.6H1786.7V2762.6H1784.0V2762.6H1781.3V2762.6H1778.6V2758.3H1775.9V2758.3H1773.2V2761.9H1770.5V2761.9H1767.8V2761.9H1765.1V2761.9H1762.4V2733.1H1759.7V2714.4H1757.0V2714.4H1754.3V2714.4H1751.6V2744.6H1748.9V2744.6H1746.2V2744.6H1743.5V2744.6H1740.8V2733.7H1738.1V2733.7H1735.4V2672.4H1732.7V2661.8H1730.0V2645.9H1727.3V2659.6H1724.6V2660.4H1721.9V2682.4H1719.2V2694.4H1716.5V2694.4H1713.8V2713.3H1711.1V2724.6H1708.4V2728.1H1705.7V2730.3H1703.0V2733.2H1700.3V2733.2H1697.6V2733.2H1694.9V2737.6H1692.2V2744.7H1689.5V2744.7H1686.8V2744.7H1684.1V2744.7H1681.4V2733.4H1678.7V2733.4H1676.0V2738.5H1673.3V2748.6H1670.6V2748.6H1667.9V2748.6H1665.2V2769.8H1662.5V2769.8H1659.8V2769.8H1657.1V2736.8H1654.4V2751.0H1651.7V2751.0H1649.0V2772.3H1646.3V2772.3H1643.6V2772.3H1640.9V2772.3H1638.2V2744.9H1635.5V2746.5H1632.8V2746.5H1630.1V2746.5H1627.4V2733.6H1624.7V2724.1H1622.0V2734.6H1619.3V2772.0H1616.6V2772.0H1613.9V2772.0H1611.2V2772.0H1608.5V2726.9H1605.8V2723.5H1603.1V2723.5H1600.4V2723.5H1597.7V2719.7H1595.0V2740.7H1592.3V2740.7H1589.6V2740.7H1586.9V2740.7H1584.2V2718.5H1581.5V2728.9H1578.8V2746.0H1576.1V2746.0H1573.4V2746.0H1570.7V2757.3H1568.0V2757.3H1565.3V2757.3H1562.6V2758.9H1559.9V2758.9H1557.2V2766.1H1554.5V2774.0H1551.8V2774.0H1549.1V2774.0H1546.4V2767.6H1543.7V2767.6H1541.0V2767.6H1538.3V2766.8H1535.6V2766.8H1532.9V2763.1H1530.2V2763.1H1527.5V2775.5H1524.8V2775.5H1522.1V2775.5H1519.4V2762.2H1516.7V2767.4H1514.0V2772.1H1511.3V2780.4H1508.6V2780.4H1505.9V2780.4H1503.2V2780.4H1500.5V2770.2H1497.8V2770.2H1495.1V2765.5H1492.4V2767.1H1489.7V2767.1H1487.0V2767.1H1484.3V2757.8H1481.6V2757.8H1478.9V2768.6H1476.2V2768.6H1473.5V2768.6H1470.8V2755.0H1468.1V2779.2H1465.4V2779.2H1462.7V2779.2H1460.0V2779.2H1457.3V2763.1H1454.6V2763.1H1451.9V2763.1H1449.2V2773.4H1446.5V2773.4H1443.8V2773.4H1441.1V2773.4H1438.4V2763.4H1435.7V2763.4H1433.0V2752.6H1430.3V2752.6H1427.6V2752.4H1424.9V2752.4H1422.2V2752.2H1419.5V2752.2H1416.8V2749.0H1414.1V2750.1H1411.4V2750.1H1408.7V2750.1H1406.0V2743.5H1403.3V2743.5H1400.6V2743.5H1397.9V2752.0H1395.2V2764.7H1392.5V2764.7H1389.8V2764.7H1387.1V2774.9H1384.4V2774.9H1381.7V2774.9H1379.0V2774.9H1376.3V2740.0H1373.6V2727.0H1370.9V2734.3H1368.2V2734.3H1365.5V2762.4H1362.8V2762.4H1360.1V2762.4H1357.4V2739.5H1354.7V2739.5H1352.0V2733.2H1349.3V2746.4H1346.6V2746.4H1343.9V2762.7H1341.2V2762.7H1338.5V2762.7H1335.8V2762.7H1333.1V2757.9H1330.4V2781.6H1327.7V2781.6H1325.0V2781.6H1322.3V2755.0H1319.6V2755.0H1316.9V2744.4H1314.2V2741.9H1311.5V2757.2H1308.8V2757.2H1306.1V2757.2H1303.4V2755.9H1300.7V2755.9H1298.0V2751.0H1295.3V2750.8H1292.6V2760.3H1289.9V2760.3H1287.2V2760.3H1284.5V2760.1H1281.8V2760.1H1279.1V2749.2H1276.4V2749.2H1273.7V2749.2H1271.0V2740.5H1268.3V2745.5H1265.6V2745.5H1262.9V2745.5H1260.2V2745.5H1257.5V2735.5H1254.8V2735.5H1252.1V2731.9H1249.4V2751.0H1246.7V2751.4H1244.0V2751.4H1241.3V2751.4H1238.6V2747.7H1235.9V2746.9H1233.2V2746.9H1230.5V2726.7H1227.8V2761.8H1225.1V2761.8H1222.4V2761.8H1219.7V2736.4H1217.0V2736.4H1214.3V2736.4H1211.6V2730.5H1208.9V2734.7H1206.2V2742.0H1203.5V2742.0H1200.8V2765.5H1198.1V2765.5H1195.4V2765.5H1192.7V2749.7H1190.0V2759.4H1187.3V2759.4H1184.6V2759.4H1181.9V2776.8H1179.2V2776.8H1176.5V2779.5H1173.8V2779.5H1171.1V2796.3H1168.4V2796.3H1165.7V2796.3H1163.0V2774.2H1160.3V2791.6H1157.6V2791.6H1154.9V2791.6H1152.2V2781.7H1149.5V2781.7H1146.8V2766.8H1144.1V2766.8H1141.4V2731.3H1138.7V2719.7H1136.0V2719.7H1133.3V2719.7H1130.6V2715.9H1127.9V2715.9H1125.2V2701.2H1122.5V2701.2H1119.8V2730.7H1117.1V2730.7H1114.4V2730.7H1111.7V2713.1H1109.0V2713.1H1106.3V2737.7H1103.6V2737.7H1100.9V2737.7H1098.2V2737.7H1095.5V2743.3H1092.8V2743.3H1090.1V2743.3H1087.4V2720.2H1084.7V2720.2H1082.0V2720.2H1079.3V2716.8H1076.6V2716.8H1073.9V2716.8H1071.2V2716.6H1068.5V2716.6H1065.8V2735.4H1063.1V2735.4H1060.4V2735.4H1057.7V2735.4H1055.0V2704.3H1052.3V2695.7H1049.6V2718.7H1046.9V2718.7H1044.2V2718.7H1041.5V2697.8H1038.8V2697.8H1036.1V2704.1H1033.4V2704.1H1030.7V2704.1H1028.0V2699.0H1025.3V2695.2H1022.6V2695.2H1019.9V2695.2H1017.2V2684.2H1014.5V2684.2H1011.8V2684.2H1009.1V2658.3H1006.4V2658.3H1003.7V2661.9H1001.0V2670.5H998.3V2670.5H995.6V2670.5H992.9V2670.5H990.2V2654.0H987.5V2654.0H984.8V2654.0H982.1V2659.2H979.4V2659.2H976.7V2659.2H974.0V2659.2H971.3V2641.6H968.6V2662.1H965.9V2679.6H963.2V2687.5H960.5V2704.2H957.8V2704.2H955.1V2704.2H952.4V2683.4H949.7V2686.8H947.0V2686.8H944.3V2691.6H941.6V2691.6H938.9V2691.6H936.2V2691.6H933.5V2701.5H930.8V2701.5H928.1V2701.5H925.4V2725.6H922.7V2725.6H920.0V2725.6H917.3V2732.0H914.6V2732.0H911.9V2759.2H909.2V2762.9H906.5V2762.9H903.8V2762.9H901.1V2729.8H898.4V2729.8H895.7V2729.8H893.0V2729.8H890.3V2734.8H887.6V2734.8H884.9V2734.8H882.2V2766.2H879.5V2766.2H876.8V2766.2H874.1V2766.2H871.4V2756.1H868.7V2804.9H866.0V2804.9H863.3V2804.9H860.6V2819.3H857.9V2833.8H855.2V2878.9H852.5V2913.4H849.8V2913.4H847.1V2914.2H844.4V2915.3H841.7V2915.3H839.0V2915.3H836.3V2915.3H833.6V2904.1H830.9V2904.1H828.2V2894.3H825.5V2894.5H822.8V2894.5H820.1V2894.5H817.4V2887.8H814.7V2884.0H812.0V2884.0H809.3V2881.5H806.6V2881.5H803.9V2881.5H801.2V2875.8H798.5V2875.8H795.8V2881.2H793.1V2881.2H790.4V2881.2H787.7V2883.1H785.0V2883.1H782.3V2883.1H779.6V2883.1H776.9V2888.6H774.2V2888.6H771.5V2888.6H768.8V2887.5H766.1V2887.5H763.4V2887.5H760.7V2887.5H758.0V2884.4H755.3V2884.4H752.6V2884.4H749.9V2882.1H747.2V2882.1H744.5V2876.0H741.8V2870.1H739.1V2872.8H736.4V2892.9H733.7V2892.9H731.0V2892.9H728.3V2892.9H725.6V2886.1H722.9V2885.8H720.2V2880.9H717.5V2880.9H714.8V2880.9H712.1V2874.6H709.4V2874.6H706.7V2883.8H704.0V2892.8H701.3V2892.8H698.6V2892.8H695.9V2892.8H693.2V2871.3H690.5V2871.3H687.8V2892.2H685.1V2892.2H682.4V2908.4H679.7V2908.4H677.0V2908.4H674.3V2882.1H671.6V2882.1H668.9V2899.8H666.2V2899.8H663.5V2899.8H660.8V2899.8H658.1V2891.9H655.4V2891.9H652.7V2880.7H650.0V2878.9H647.3V2878.9H644.6V2864.5H641.9V2873.2H639.2V2873.2H636.5V2873.2H633.8V2873.2H631.1V2870.7H628.4V2870.7H625.7V2870.7H623.0V2877.6H620.3V2881.2H617.6V2883.4H614.9V2883.4H612.2V2887.2H609.5V2889.4H606.8V2889.4H604.1V2889.4H601.4V2874.0H598.7V2882.1H596.0V2882.1H593.3V2884.0H590.6V2891.8H587.9V2891.8H585.2V2891.8H582.5V2886.5H579.8V2878.9H577.1V2877.9H574.4V2874.1H571.7V2874.1H569.0V2870.1H566.3V2863.9H563.6V2878.6H560.9V2878.6H558.2V2880.9H555.5V2880.9H552.8V2880.9H550.1V2881.8H547.4V2881.8H544.7V2881.8H542.0V2881.8H539.3V2895.8H536.6V2895.8H533.9V2895.8H531.2V2895.8H528.5V2881.9H525.8V2880.7H523.1V2880.7H520.4V2883.3H517.7V2886.8H515.0V2886.8H512.3V2886.8H509.6V2886.8H506.9V2882.7H504.2V2882.7H501.5V2882.7H498.8V2877.3H496.1V2877.3H493.4V2867.6H490.7V2869.3H488.0V2879.1H485.3V2879.1H482.6V2879.1H479.9V2869.7H477.2V2869.7H474.5V2869.3H471.8V2869.3H469.1V2865.1H466.4V2843.1H463.7V2843.1H461.0V2790.2H458.3V2794.1H455.6V2818.9H452.9V2833.4H450.2V2833.4H447.5V2841.2H444.8V2841.2H442.1V2841.2H439.4V2832.2H436.7V2832.2H434.0V2831.7H431.3V2843.9H428.6V2843.9H425.9V2843.9H423.2V2837.7H420.5V2835.1H417.8V2826.3H415.1V2826.4H412.4V2829.5H409.7V2829.5H407.0V2844.6H404.3V2844.6H401.6V2863.5H398.9V2863.5H396.2V2863.5H393.5V2885.2H390.8V2885.2H388.1V2885.2H385.4V2868.1H382.7V2868.1H380.0V2873.8H377.3V2883.2H374.6V2883.2H371.9V2883.2H369.2V2883.2H366.5V2870.7H363.8V2863.4H361.1V2855.6H358.4V2885.3H355.7V2885.3H353.0V2885.3H350.3V2885.3H347.6V2871.9H344.9V2871.9H342.2V2871.9H339.5V2878.9H336.8V2878.9H334.1V2888.5H331.4V2888.5H328.7V2888.5H326.0V2888.5H323.3V2872.9H320.6V2858.8H317.9V2858.8H315.2V2904.4H312.5V2904.4H309.8V2904.4H307.1Z" fill="#9400d3"/>
<path d="M306.0 3072.0V2963.8" stroke="#009e73" stroke-width="5"/>
<path d="M307.1 2935.5V2935.5H309.8V2925.0H312.5V2913.1H315.2V2904.4H317.9V2904.4H320.6V2904.4H323.3V2922.1H326.0V2926.0H328.7V2912.0H331.4V2912.0H334.1V2912.0H336.8V2923.1H339.5V2907.3H342.2V2907.3H344.9V2907.3H347.6V2890.8H350.3V2890.8H353.0V2890.8H355.7V2895.9H358.4V2898.4H361.1V2900.3H363.8V2900.3H366.5V2906.7H369.2V2906.7H371.9V2896.7H374.6V2896.7H377.3V2890.7H380.0V2890.7H382.7V2883.7H385.4V2883.7H388.1V2883.7H390.8V2889.0H393.5V2889.0H396.2V2894.9H398.9V2886.0H401.6V2886.0H404.3V2877.5H407.0V2877.5H409.7V2877.5H412.4V2877.5H415.1V2895.5H417.8V2885.7H420.5V2885.7H423.2V2862.4H425.9V2862.4H428.6V2862.4H431.3V2872.1H434.0V2872.1H436.7V2892.7H439.4V2892.4H442.1V2892.4H444.8V2892.4H447.5V2887.4H450.2V2887.4H452.9V2887.4H455.6V2887.4H458.3V2890.7H461.0V2862.1H463.7V2862.1H466.4V2862.1H469.1V2862.1H471.8V2889.3H474.5V2889.3H477.2V2891.5H479.9V2891.5H482.6V2877.6H485.3V2864.9H488.0V2864.9H490.7V2864.9H493.4V2864.9H496.1V2888.2H498.8V2887.8H501.5V2887.8H504.2V2887.8H506.9V2902.7H509.6V2905.8H512.3V2868.8H515.0V2868.8H517.7V2868.8H520.4V2869.4H523.1V2869.4H525.8V2865.8H528.5V2862.6H531.2V2862.6H533.9V2862.6H536.6V2862.6H539.3V2863.9H542.0V2863.9H544.7V2862.4H547.4V2853.0H550.1V2853.0H552.8V2841.7H555.5V2841.7H558.2V2830.1H560.9V2830.1H563.6V2830.1H566.3V2820.6H569.0V2820.6H571.7V2820.6H574.4V2820.6H577.1V2830.9H579.8V2830.9H582.5V2830.9H585.2V2830.9H587.9V2841.1H590.6V2841.1H593.3V2858.1H596.0V2870.6H598.7V2860.7H601.4V2857.6H604.1V2857.6H606.8V2848.3H609.5V2848.3H612.2V2848.3H614.9V2861.4H617.6V2848.8H620.3V2848.8H623.0V2848.8H625.7V2848.8H628.4V2868.6H631.1V2868.6H633.8V2859.1H636.5V2855.2H639.2V2841.5H641.9V2828.1H644.6V2816.3H647.3V2816.3H650.0V2816.3H652.7V2823.4H655.4V2814.0H658.1V2814.0H660.8V2809.2H663.5V2809.2H666.2V2809.2H668.9V2809.6H671.6V2809.6H674.3V2810.4H677.0V2813.1H679.7V2809.0H682.4V2797.4H685.1V2797.4H687.8V2797.4H690.5V2797.4H693.2V2796.8H695.9V2796.8H698.6V2796.8H701.3V2804.0H704.0V2790.3H706.7V2785.4H709.4V2785.4H712.1V2784.8H714.8V2784.8H717.5V2784.8H720.2V2784.8H722.9V2816.8H725.6V2806.1H728.3V2804.4H731.0V2797.3H733.7V2797.3H736.4V2797.3H739.1V2805.3H741.8V2798.0H744.5V2798.0H747.2V2746.7H749.9V2746.7H752.6V2746.7H755.3V2746.7H758.0V2762.3H760.7V2754.2H763.4V2754.2H766.1V2754.2H768.8V2754.2H771.5V2782.9H774.2V2779.0H776.9V2775.6H779.6V2765.7H782.3V2765.7H785.0V2765.7H787.7V2765.7H790.4V2772.6H793.1V2772.6H795.8V2782.0H798.5V2782.0H801.2V2782.0H803.9V2803.6H806.6V2795.9H809.3V2795.9H812.0V2795.9H814.7V2795.9H817.4V2800.1H820.1V2801.6H822.8V2803.0H825.5V2799.3H828.2V2799.3H830.9V2799.3H833.6V2741.1H836.3V2741.1H839.0V2741.1H841.7V2761.2H844.4V2774.4H847.1V2774.4H849.8V2774.4H852.5V2774.4H855.2V2795.6H857.9V2795.6H860.6V2788.2H863.3V2788.2H866.0V2788.2H868.7V2788.2H871.4V2801.1H874.1V2801.1H876.8V2801.1H879.5V2813.0H882.2V2813.0H884.9V2815.6H887.6V2822.7H890.3V2822.7H893.0V2822.7H895.7V2837.3H898.4V2817.4H901.1V2817.4H903.8V2817.4H906.5V2817.4H909.2V2817.0H911.9V2817.0H914.6V2817.0H917.3V2820.1H920.0V2832.1H922.7V2820.5H925.4V2815.3H928.1V2815.3H930.8V2815.3H933.5V2821.6H936.2V2821.6H938.9V2829.2H941.6V2843.1H944.3V2815.8H947.0V2815.8H949.7V2815.8H952.4V2815.8H955.1V2812.7H957.8V2812.7H960.5V2812.7H963.2V2812.7H965.9V2816.8H968.6V2816.8H971.3V2816.8H974.0V2824.1H976.7V2824.1H979.4V2824.1H982.1V2841.9H984.8V2840.6H987.5V2835.4H990.2V2835.4H992.9V2835.4H995.6V2838.5H998.3V2816.6H1001.0V2816.6H1003.7V2816.6H1006.4V2841.2H1009.1V2844.9H1011.8V2850.0H1014.5V2856.7H1017.2V2856.7H1019.9V2832.6H1022.6V2832.4H1025.3V2832.4H1028.0V2832.4H1030.7V2832.4H1033.4V2854.1H1036.1V2854.1H1038.8V2844.0H1041.5V2842.9H1044.2V2842.9H1046.9V2842.9H1049.6V2855.8H1052.3V2856.9H1055.0V2856.9H1057.7V2867.9H1060.4V2851.5H1063.1V2851.5H1065.8V2851.1H1068.5V2827.2H1071.2V2811.7H1073.9V2811.7H1076.6V2775.4H1079.3V2774.0H1082.0V2762.4H1084.7V2762.4H1087.4V2762.4H1090.1V2762.4H1092.8V2758.8H1095.5V2758.8H1098.2V2758.8H1100.9V2768.8H1103.6V2769.3H1106.3V2769.3H1109.0V2770.0H1111.7V2770.0H1114.4V2767.6H1117.1V2767.6H1119.8V2764.0H1122.5V2764.0H1125.2V2759.6H1127.9V2759.6H1130.6V2759.6H1133.3V2796.0H1136.0V2754.1H1138.7V2754.1H1141.4V2752.8H1144.1V2752.8H1146.8V2752.8H1149.5V2747.0H1152.2V2736.0H1154.9V2736.0H1157.6V2736.0H1160.3V2736.3H1163.0V2749.2H1165.7V2749.2H1168.4V2749.6H1171.1V2749.6H1173.8V2749.6H1176.5V2752.2H1179.2V2752.2H1181.9V2779.8H1184.6V2783.3H1187.3V2780.5H1190.0V2780.5H1192.7V2780.5H1195.4V2790.2H1198.1V2785.1H1200.8V2785.1H1203.5V2777.4H1206.2V2777.4H1208.9V2777.4H1211.6V2777.4H1214.3V2792.6H1217.0V2792.6H1219.7V2799.8H1222.4V2801.2H1225.1V2797.8H1227.8V2797.8H1230.5V2797.8H1233.2V2809.7H1235.9V2757.8H1238.6V2757.8H1241.3V2757.8H1244.0V2791.1H1246.7V2791.1H1249.4V2791.1H1252.1V2796.9H1254.8V2804.7H1257.5V2781.7H1260.2V2781.7H1262.9V2781.7H1265.6V2790.5H1268.3V2790.5H1271.0V2791.0H1273.7V2784.0H1276.4V2784.0H1279.1V2784.0H1281.8V2785.8H1284.5V2785.8H1287.2V2777.6H1289.9V2777.6H1292.6V2777.6H1295.3V2795.3H1298.0V2795.3H1300.7V2769.1H1303.4V2769.1H1306.1V2769.1H1308.8V2803.9H1311.5V2809.8H1314.2V2809.8H1316.9V2823.8H1319.6V2829.6H1322.3V2837.6H1325.0V2838.2H1327.7V2838.2H1330.4V2827.7H1333.1V2827.7H1335.8V2816.1H1338.5V2816.1H1341.2V2816.1H1343.9V2830.5H1346.6V2840.0H1349.3V2802.0H1352.0V2802.0H1354.7V2802.0H1357.4V2795.3H1360.1V2795.3H1362.8V2795.3H1365.5V2795.3H1368.2V2796.3H1370.9V2820.1H1373.6V2820.1H1376.3V2812.9H1379.0V2812.9H1381.7V2812.9H1384.4V2817.7H1387.1V2817.7H1389.8V2817.9H1392.5V2817.9H1395.2V2797.2H1397.9V2797.2H1400.6V2797.2H1403.3V2797.2H1406.0V2821.9H1408.7V2821.9H1411.4V2811.9H1414.1V2811.9H1416.8V2811.9H1419.5V2811.9H1422.2V2798.7H1424.9V2798.7H1427.6V2798.7H1430.3V2812.7H1433.0V2797.3H1435.7V2797.3H1438.4V2797.3H1441.1V2804.8H1443.8V2806.7H1446.5V2806.7H1449.2V2806.7H1451.9V2806.7H1454.6V2825.8H1457.3V2832.3H1460.0V2838.3H1462.7V2838.3H1465.4V2838.3H1468.1V2838.3H1470.8V2839.5H1473.5V2837.9H1476.2V2837.9H1478.9V2837.9H1481.6V2836.2H1484.3V2827.8H1487.0V2827.8H1489.7V2827.8H1492.4V2827.3H1495.1V2827.3H1497.8V2818.6H1500.5V2818.6H1503.2V2818.6H1505.9V2813.3H1508.6V2813.3H1511.3V2803.3H1514.0V2797.0H1516.7V2795.3H1519.4V2795.3H1522.1V2795.3H1524.8V2795.3H1527.5V2814.5H1530.2V2814.5H1532.9V2823.7H1535.6V2812.2H1538.3V2796.6H1541.0V2796.6H1543.7V2796.6H1546.4V2796.6H1549.1V2810.1H1551.8V2814.0H1554.5V2817.7H1557.2V2795.0H1559.9V2795.0H1562.6V2795.0H1565.3V2795.0H1568.0V2809.9H1570.7V2809.9H1573.4V2820.2H1576.1V2822.6H1578.8V2810.2H1581.5V2810.2H1584.2V2810.2H1586.9V2844.5H1589.6V2830.0H1592.3V2830.0H1595.0V2830.0H1597.7V2808.2H1600.4V2808.2H1603.1V2808.2H1605.8V2835.8H1608.5V2831.7H1611.2V2825.2H1613.9V2823.7H1616.6V2823.7H1619.3V2808.1H1622.0V2808.1H1624.7V2808.1H1627.4V2808.1H1630.1V2822.3H1632.8V2800.9H1635.5V2800.9H1638.2V2800.9H1640.9V2800.9H1643.6V2832.5H1646.3V2807.5H1649.0V2807.5H1651.7V2807.5H1654.4V2795.9H1657.1V2795.4H1659.8V2795.4H1662.5V2795.4H1665.2V2809.3H1667.9V2809.3H1670.6V2842.7H1673.3V2824.7H1676.0V2824.7H1678.7V2824.7H1681.4V2827.9H1684.1V2810.2H1686.8V2810.2H1689.5V2810.2H1692.2V2815.1H1694.9V2814.1H1697.6V2805.5H1700.3V2805.5H1703.0V2805.5H1705.7V2823.1H1708.4V2823.1H1711.1V2822.2H1713.8V2816.4H1716.5V2816.4H1719.2V2816.4H1721.9V2816.4H1724.6V2845.2H1727.3V2821.6H1730.0V2821.6H1732.7V2820.9H1735.4V2820.9H1738.1V2820.9H1740.8V2827.9H1743.5V2831.3H1746.2V2818.7H1748.9V2816.8H1751.6V2816.8H1754.3V2816.8H1757.0V2808.2H1759.7V2803.9H1762.4V2803.9H1765.1V2803.9H1767.8V2789.4H1770.5V2789.4H1773.2V2789.4H1775.9V2789.4H1778.6V2808.0H1781.3V2797.4H1784.0V2791.2H1786.7V2791.2H1789.4V2791.2H1792.1V2808.7H1794.8V2809.4H1797.5V2809.4H1800.2V2833.1H1802.9V2833.1H1805.6V2833.1H1808.3V2833.1H1811.0V2827.7H1813.7V2818.3H1816.4V2796.6H1819.1V2796.6H1821.8V2796.6H1824.5V2803.8H1827.2V2803.8H1829.9V2777.3H1832.6V2777.3H1835.3V2777.3H1838.0V2777.3H1840.7V2801.7H1843.4V2801.7H1846.1V2802.7H1848.8V2811.9H1851.5V2807.3H1854.2V2807.3H1856.9V2807.3H1859.6V2807.3H1862.3V2827.5H1865.0V2789.1H1867.7V2789.1H1870.4V2789.1H1873.1V2820.7H1875.8V2820.7H1878.5V2820.7H1881.2V2821.4H1883.9V2821.4H1886.6V2819.3H1889.3V2819.3H1892.0V2815.4H1894.7V2815.4H1897.4V2815.4H1900.1V2819.0H1902.8V2819.0H1905.5V2809.1H1908.2V2803.7H1910.9V2803.7H1913.6V2803.7H1916.3V2841.2H1913.6V2841.2H1910.9V2856.4H1908.2V2858.5H1905.5V2858.5H1902.8V2859.9H1900.1V2859.9H1897.4V2861.9H1894.7V2861.9H1892.0V2861.9H1889.3V2857.9H1886.6V2857.9H1883.9V2867.0H1881.2V2867.0H1878.5V2867.0H1875.8V2867.0H1873.1V2859.7H1870.4V2859.7H1867.7V2854.9H1865.0V2854.9H1862.3V2854.9H1859.6V2854.9H1856.9V2839.1H1854.2V2830.5H1851.5V2827.2H1848.8V2827.2H1846.1V2827.2H1843.4V2824.7H1840.7V2824.7H1838.0V2855.2H1835.3V2855.2H1832.6V2855.2H1829.9V2834.8H1827.2V2863.4H1824.5V2863.4H1821.8V2863.4H1819.1V2863.4H1816.4V2868.3H1813.7V2868.3H1811.0V2868.3H1808.3V2875.6H1805.6V2875.6H1802.9V2875.6H1800.2V2875.6H1797.5V2861.5H1794.8V2861.5H1792.1V2861.2H1789.4V2840.6H1786.7V2838.9H1784.0V2838.9H1781.3V2838.9H1778.6V2829.2H1775.9V2832.3H1773.2V2835.9H1770.5V2837.2H1767.8V2860.0H1765.1V2860.0H1762.4V2863.8H1759.7V2863.8H1757.0V2863.8H1754.3V2868.6H1751.6V2868.6H1748.9V2875.3H1746.2V2882.7H1743.5V2882.7H1740.8V2882.7H1738.1V2868.3H1735.4V2868.3H1732.7V2891.4H1730.0V2891.4H1727.3V2891.4H1724.6V2880.9H1721.9V2860.0H1719.2V2860.0H1716.5V2858.1H1713.8V2851.0H1711.1V2851.0H1708.4V2848.2H1705.7V2855.9H1703.0V2855.9H1700.3V2868.8H1697.6V2868.8H1694.9V2868.8H1692.2V2868.8H1689.5V2867.6H1686.8V2867.6H1684.1V2867.6H1681.4V2867.6H1678.7V2857.8H1676.0V2888.2H1673.3V2888.2H1670.6V2888.2H1667.9V2888.2H1665.2V2867.4H1662.5V2827.4H1659.8V2840.5H1657.1V2859.8H1654.4V2859.8H1651.7V2864.5H1649.0V2878.3H1646.3V2878.3H1643.6V2878.3H1640.9V2856.3H1638.2V2851.7H1635.5V2859.7H1632.8V2859.7H1630.1V2859.7H1627.4V2889.4H1624.7V2889.4H1622.0V2889.4H1619.3V2889.4H1616.6V2860.7H1613.9V2865.5H1611.2V2872.2H1608.5V2872.2H1605.8V2872.2H1603.1V2850.8H1600.4V2863.3H1597.7V2877.3H1595.0V2878.7H1592.3V2878.7H1589.6V2878.7H1586.9V2869.9H1584.2V2866.3H1581.5V2858.9H1578.8V2858.9H1576.1V2865.6H1573.4V2865.6H1570.7V2865.6H1568.0V2865.6H1565.3V2856.5H1562.6V2856.5H1559.9V2870.0H1557.2V2870.0H1554.5V2870.0H1551.8V2846.2H1549.1V2840.9H1546.4V2840.9H1543.7V2871.4H1541.0V2887.8H1538.3V2887.8H1535.6V2887.8H1532.9V2859.5H1530.2V2859.5H1527.5V2859.5H1524.8V2854.9H1522.1V2854.9H1519.4V2840.2H1516.7V2834.8H1514.0V2846.4H1511.3V2851.6H1508.6V2851.6H1505.9V2851.6H1503.2V2856.1H1500.5V2886.6H1497.8V2886.6H1495.1V2886.6H1492.4V2868.4H1489.7V2859.1H1487.0V2871.7H1484.3V2871.7H1481.6V2871.7H1478.9V2871.0H1476.2V2871.0H1473.5V2871.0H1470.8V2863.1H1468.1V2863.1H1465.4V2852.2H1462.7V2852.4H1460.0V2865.3H1457.3V2865.3H1454.6V2865.3H1451.9V2865.3H1449.2V2854.6H1446.5V2854.6H1443.8V2854.6H1441.1V2855.9H1438.4V2855.9H1435.7V2855.9H1433.0V2855.9H1430.3V2838.5H1427.6V2852.6H1424.9V2853.0H1422.2V2853.0H1419.5V2853.0H1416.8V2849.9H1414.1V2863.5H1411.4V2863.5H1408.7V2863.5H1406.0V2863.5H1403.3V2851.2H1400.6V2845.2H1397.9V2847.2H1395.2V2847.2H1392.5V2854.4H1389.8V2857.7H1387.1V2860.1H1384.4V2860.1H1381.7V2860.1H1379.0V2860.1H1376.3V2854.1H1373.6V2861.3H1370.9V2861.3H1368.2V2861.3H1365.5V2861.3H1362.8V2855.0H1360.1V2855.0H1357.4V2855.0H1354.7V2855.0H1352.0V2857.2H1349.3V2873.1H1346.6V2873.1H1343.9V2873.1H1341.2V2872.1H1338.5V2888.8H1335.8V2888.8H1333.1V2888.8H1330.4V2888.8H1327.7V2888.4H1325.0V2877.7H1322.3V2859.8H1319.6V2859.8H1316.9V2871.7H1314.2V2871.7H1311.5V2871.7H1308.8V2847.9H1306.1V2847.9H1303.4V2838.2H1300.7V2838.2H1298.0V2859.5H1295.3V2859.5H1292.6V2859.5H1289.9V2847.7H1287.2V2847.7H1284.5V2828.5H1281.8V2840.6H1279.1V2843.8H1276.4V2843.8H1273.7V2843.8H1271.0V2852.1H1268.3V2852.1H1265.6V2852.1H1262.9V2862.5H1260.2V2862.5H1257.5V2862.5H1254.8V2862.5H1252.1V2847.5H1249.4V2861.5H1246.7V2881.0H1244.0V2881.0H1241.3V2881.0H1238.6V2842.3H1235.9V2852.2H1233.2V2852.2H1230.5V2852.2H1227.8V2854.9H1225.1V2854.9H1222.4V2854.9H1219.7V2854.9H1217.0V2834.5H1214.3V2822.0H1211.6V2821.5H1208.9V2821.5H1206.2V2817.8H1203.5V2825.3H1200.8V2825.3H1198.1V2828.0H1195.4V2828.0H1192.7V2828.0H1190.0V2828.0H1187.3V2816.5H1184.6V2813.4H1181.9V2813.4H1179.2V2800.8H1176.5V2800.8H1173.8V2854.7H1171.1V2854.7H1168.4V2854.7H1165.7V2854.7H1163.0V2833.9H1160.3V2780.8H1157.6V2794.8H1154.9V2794.8H1152.2V2794.8H1149.5V2808.9H1146.8V2808.9H1144.1V2808.9H1141.4V2829.1H1138.7V2829.1H1136.0V2829.1H1133.3V2829.1H1130.6V2814.3H1127.9V2810.8H1125.2V2810.8H1122.5V2826.2H1119.8V2839.5H1117.1V2839.5H1114.4V2843.0H1111.7V2843.0H1109.0V2843.0H1106.3V2859.2H1103.6V2859.2H1100.9V2859.2H1098.2V2859.2H1095.5V2842.9H1092.8V2842.9H1090.1V2842.9H1087.4V2842.9H1084.7V2849.6H1082.0V2849.6H1079.3V2849.6H1076.6V2854.9H1073.9V2869.9H1071.2V2869.9H1068.5V2873.4H1065.8V2886.6H1063.1V2886.6H1060.4V2886.6H1057.7V2886.5H1055.0V2886.5H1052.3V2880.7H1049.6V2880.7H1046.9V2880.7H1044.2V2891.3H1041.5V2891.3H1038.8V2891.3H1036.1V2879.0H1033.4V2881.2H1030.7V2885.8H1028.0V2885.8H1025.3V2906.3H1022.6V2906.3H1019.9V2906.3H1017.2V2890.7H1014.5V2883.2H1011.8V2888.6H1009.1V2888.6H1006.4V2888.6H1003.7V2888.6H1001.0V2862.3H998.3V2862.3H995.6V2855.5H992.9V2883.8H990.2V2883.8H987.5V2883.8H984.8V2883.8H982.1V2881.7H979.4V2881.7H976.7V2879.1H974.0V2872.7H971.3V2872.7H968.6V2879.9H965.9V2879.9H963.2V2879.9H960.5V2879.9H957.8V2862.2H955.1V2862.2H952.4V2861.3H949.7V2863.5H947.0V2870.6H944.3V2870.6H941.6V2876.0H938.9V2876.0H936.2V2876.0H933.5V2854.9H930.8V2871.3H928.1V2882.4H925.4V2882.4H922.7V2882.4H920.0V2869.6H917.3V2869.6H914.6V2861.5H911.9V2861.5H909.2V2859.2H906.5V2859.2H903.8V2867.0H901.1V2867.0H898.4V2867.0H895.7V2864.4H893.0V2852.4H890.3V2852.4H887.6V2852.4H884.9V2852.4H882.2V2846.5H879.5V2846.5H876.8V2846.5H874.1V2846.5H871.4V2849.4H868.7V2861.7H866.0V2861.7H863.3V2861.7H860.6V2861.7H857.9V2855.0H855.2V2855.0H852.5V2855.0H849.8V2816.8H847.1V2821.0H844.4V2821.0H841.7V2828.2H839.0V2841.8H836.3V2841.8H833.6V2841.8H830.9V2824.6H828.2V2824.6H825.5V2824.6H822.8V2824.0H820.1V2824.0H817.4V2824.0H814.7V2878.5H812.0V2878.5H809.3V2878.5H806.6V2878.5H803.9V2843.0H801.2V2836.3H798.5V2871.7H795.8V2871.7H793.1V2871.7H790.4V2871.7H787.7V2817.8H785.0V2817.8H782.3V2815.5H779.6V2840.5H776.9V2840.5H774.2V2840.5H771.5V2838.9H768.8V2819.2H766.1V2803.1H763.4V2808.7H760.7V2818.0H758.0V2818.0H755.3V2822.9H752.6V2822.9H749.9V2822.9H747.2V2847.4H744.5V2847.4H741.8V2847.4H739.1V2847.4H736.4V2847.2H733.7V2840.7H731.0V2846.6H728.3V2846.6H725.6V2846.6H722.9V2846.6H720.2V2839.3H717.5V2839.3H714.8V2839.3H712.1V2833.2H709.4V2835.4H706.7V2835.4H704.0V2835.4H701.3V2835.4H698.6V2833.0H695.9V2820.4H693.2V2820.4H690.5V2814.7H687.8V2835.9H685.1V2835.9H682.4V2839.6H679.7V2839.6H677.0V2839.6H674.3V2839.6H671.6V2829.7H668.9V2829.7H666.2V2829.7H663.5V2835.6H660.8V2835.6H658.1V2849.0H655.4V2849.0H652.7V2849.0H650.0V2849.0H647.3V2878.0H644.6V2878.0H641.9V2885.3H639.2V2899.6H636.5V2905.9H633.8V2905.9H631.1V2905.9H628.4V2887.3H625.7V2887.3H623.0V2887.3H620.3V2882.4H617.6V2883.7H614.9V2883.7H612.2V2902.1H609.5V2902.1H606.8V2902.1H604.1V2899.9H601.4V2901.4H598.7V2901.4H596.0V2901.4H593.3V2901.4H590.6V2885.6H587.9V2866.7H585.2V2880.2H582.5V2880.2H579.8V2880.2H577.1V2870.0H574.4V2866.5H571.7V2876.8H569.0V2883.2H566.3V2883.2H563.6V2883.2H560.9V2878.8H558.2V2878.8H555.5V2921.2H552.8V2921.2H550.1V2921.2H547.4V2927.1H544.7V2927.1H542.0V2927.1H539.3V2927.1H536.6V2926.4H533.9V2926.4H531.2V2920.4H528.5V2920.4H525.8V2905.0H523.1V2905.0H520.4V2928.4H517.7V2931.0H515.0V2933.0H512.3V2933.0H509.6V2933.0H506.9V2930.0H504.2V2930.0H501.5V2921.2H498.8V2921.2H496.1V2921.2H493.4V2927.3H490.7V2928.9H488.0V2928.9H485.3V2938.6H482.6V2938.6H479.9V2938.6H477.2V2914.5H474.5V2914.5H471.8V2928.0H469.1V2928.0H466.4V2928.0H463.7V2922.4H461.0V2929.9H458.3V2929.9H455.6V2949.3H452.9V2949.3H450.2V2949.3H447.5V2946.2H444.8V2925.1H442.1V2928.6H439.4V2928.6H436.7V2928.6H434.0V2925.8H431.3V2912.3H428.6V2912.3H425.9V2914.7H423.2V2927.2H420.5V2927.4H417.8V2942.7H415.1V2942.7H412.4V2942.7H409.7V2932.2H407.0V2932.2H404.3V2932.2H401.6V2918.3H398.9V2934.4H396.2V2934.4H393.5V2934.4H390.8V2932.4H388.1V2932.4H385.4V2916.2H382.7V2917.7H380.0V2918.6H377.3V2929.8H374.6V2929.8H371.9V2929.8H369.2V2936.4H366.5V2936.4H363.8V2936.4H361.1V2927.0H358.4V2927.0H355.7V2927.0H353.0V2925.9H350.3V2925.9H347.6V2931.9H344.9V2947.3H342.2V2951.6H339.5V2951.6H336.8V2951.6H334.1V2946.3H331.4V2946.3H328.7V2946.3H326.0V2956.5H323.3V2956.5H320.6V2956.5H317.9V2956.5H315.2V2960.8H312.5V2969.8H309.8V2969.8H307.1Z" fill="#009e73"/>
<path d="M306.0 3072.0V2941.3" stroke="#40e0d0" stroke-width="5"/>
<path d="M307.1 2928.7V2928.7H309.8V2906.5H312.5V2906.5H315.2V2899.6H317.9V2899.6H320.6V2899.6H323.3V2901.4H326.0V2916.7H328.7V2918.6H331.4V2915.0H334.1V2886.4H336.8V2886.4H339.5V2886.4H342.2V2884.9H344.9V2884.9H347.6V2884.9H350.3V2884.9H353.0V2892.3H355.7V2892.3H358.4V2892.3H361.1V2872.1H363.8V2872.1H366.5V2872.1H369.2V2872.9H371.9V2872.9H374.6V2877.3H377.3V2877.3H380.0V2877.3H382.7V2882.4H385.4V2882.4H388.1V2882.4H390.8V2882.4H393.5V2908.8H396.2V2906.8H398.9V2906.8H401.6V2903.4H404.3V2899.7H407.0V2899.7H409.7V2899.7H412.4V2898.2H415.1V2898.2H417.8V2892.9H420.5V2885.5H423.2V2885.5H425.9V2885.5H428.6V2885.5H431.3V2899.6H434.0V2899.8H436.7V2899.8H439.4V2895.3H442.1V2895.3H444.8V2895.3H447.5V2882.3H450.2V2877.2H452.9V2877.2H455.6V2877.2H458.3V2877.2H461.0V2888.9H463.7V2887.8H466.4V2885.9H469.1V2885.9H471.8V2885.9H474.5V2885.9H477.2V2893.8H479.9V2893.8H482.6V2893.8H485.3V2896.9H488.0V2893.3H490.7V2884.5H493.4V2884.5H496.1V2884.5H498.8V2858.7H501.5V2858.7H504.2V2858.7H506.9V2876.7H509.6V2890.7H512.3V2890.7H515.0V2890.7H517.7V2887.9H520.4V2874.1H523.1V2874.1H525.8V2874.1H528.5V2880.8H531.2V2880.8H533.9V2880.8H536.6V2896.6H539.3V2896.6H542.0V2857.8H544.7V2857.8H547.4V2857.8H550.1V2857.8H552.8V2882.4H555.5V2892.0H558.2V2893.0H560.9V2893.0H563.6V2891.9H566.3V2891.9H569.0V2891.9H571.7V2891.9H574.4V2852.6H577.1V2852.6H579.8V2852.3H582.5V2852.3H585.2V2852.3H587.9V2892.7H590.6V2892.7H593.3V2880.5H596.0V2880.5H598.7V2880.5H601.4V2880.5H604.1V2885.5H606.8V2885.5H609.5V2885.5H612.2V2899.0H614.9V2899.0H617.6V2909.3H620.3V2890.8H623.0V2890.8H625.7V2890.8H628.4V2892.1H631.1V2895.4H633.8V2888.3H636.5V2869.2H639.2V2869.2H641.9V2863.6H644.6V2863.6H647.3V2863.6H650.0V2863.6H652.7V2866.6H655.4V2866.6H658.1V2882.9H660.8V2887.8H663.5V2887.8H666.2V2900.1H668.9V2900.1H671.6V2907.3H674.3V2866.1H677.0V2866.1H679.7V2866.1H682.4V2869.3H685.1V2864.6H687.8V2864.6H690.5V2862.6H693.2V2862.6H695.9V2862.6H698.6V2862.6H701.3V2871.3H704.0V2882.5H706.7V2860.8H709.4V2856.8H712.1V2848.3H714.8V2848.3H717.5V2848.3H720.2V2848.3H722.9V2852.2H725.6V2849.8H728.3V2849.8H731.0V2849.8H733.7V2849.8H736.4V2875.4H739.1V2858.1H741.8V2852.1H744.5V2852.1H747.2V2852.1H749.9V2842.5H752.6V2842.5H755.3V2842.5H758.0V2858.3H760.7V2858.3H763.4V2858.3H766.1V2860.3H768.8V2890.4H771.5V2901.1H774.2V2874.2H776.9V2870.0H779.6V2870.0H782.3V2870.0H785.0V2870.0H787.7V2901.7H790.4V2901.7H793.1V2871.1H795.8V2871.1H798.5V2870.0H801.2V2870.0H803.9V2857.8H806.6V2857.8H809.3V2857.8H812.0V2888.6H814.7V2882.0H817.4V2882.0H820.1V2882.0H822.8V2882.0H825.5V2879.2H828.2V2879.2H830.9V2879.2H833.6V2879.2H836.3V2877.4H839.0V2877.4H841.7V2877.4H844.4V2877.4H847.1V2882.5H849.8V2882.5H852.5V2889.1H855.2V2907.3H857.9V2903.8H860.6V2903.8H863.3V2903.8H866.0V2922.8H868.7V2917.4H871.4V2916.3H874.1V2916.3H876.8V2916.3H879.5V2895.0H882.2V2895.0H884.9V2895.0H887.6V2915.9H890.3V2913.4H893.0V2909.9H895.7V2909.9H898.4V2909.9H901.1V2911.5H903.8V2912.6H906.5V2912.6H909.2V2912.6H911.9V2909.5H914.6V2898.9H917.3V2898.5H920.0V2898.5H922.7V2898.5H925.4V2911.7H928.1V2911.7H930.8V2911.7H933.5V2911.7H936.2V2917.2H938.9V2902.2H941.6V2894.2H944.3V2894.2H947.0V2894.2H949.7V2903.7H952.4V2903.7H955.1V2903.7H957.8V2904.9H960.5V2904.9H963.2V2898.8H965.9V2898.8H968.6V2898.8H971.3V2898.8H974.0V2892.4H976.7V2892.4H979.4V2892.4H982.1V2897.7H984.8V2899.9H987.5V2907.9H990.2V2916.1H992.9V2916.1H995.6V2916.1H998.3V2924.7H1001.0V2910.4H1003.7V2910.4H1006.4V2909.2H1009.1V2909.2H1011.8V2892.1H1014.5V2892.1H1017.2V2892.1H1019.9V2892.1H1022.6V2873.6H1025.3V2873.6H1028.0V2873.6H1030.7V2890.3H1033.4V2890.3H1036.1V2890.3H1038.8V2887.4H1041.5V2884.5H1044.2V2884.5H1046.9V2884.5H1049.6V2868.0H1052.3V2868.0H1055.0V2868.0H1057.7V2871.8H1060.4V2871.8H1063.1V2864.2H1065.8V2864.2H1068.5V2864.2H1071.2V2864.2H1073.9V2867.0H1076.6V2873.7H1079.3V2868.7H1082.0V2850.5H1084.7V2850.5H1087.4V2850.5H1090.1V2850.5H1092.8V2865.1H1095.5V2874.1H1098.2V2869.4H1100.9V2855.0H1103.6V2854.4H1106.3V2854.4H1109.0V2844.2H1111.7V2844.2H1114.4V2844.2H1117.1V2852.1H1119.8V2835.0H1122.5V2835.0H1125.2V2835.0H1127.9V2835.0H1130.6V2843.7H1133.3V2843.7H1136.0V2843.7H1138.7V2834.4H1141.4V2834.4H1144.1V2834.4H1146.8V2834.4H1149.5V2845.9H1152.2V2843.1H1154.9V2835.0H1157.6V2835.0H1160.3V2815.9H1163.0V2815.8H1165.7V2815.8H1168.4V2815.8H1171.1V2823.9H1173.8V2836.0H1176.5V2836.0H1179.2V2837.7H1181.9V2841.5H1184.6V2841.5H1187.3V2850.1H1190.0V2850.1H1192.7V2834.7H1195.4V2834.7H1198.1V2834.7H1200.8V2836.4H1203.5V2836.4H1206.2V2836.4H1208.9V2835.3H1211.6V2831.9H1214.3V2831.9H1217.0V2831.9H1219.7V2828.5H1222.4V2828.5H1225.1V2808.2H1227.8V2808.2H1230.5V2808.2H1233.2V2834.0H1235.9V2835.6H1238.6V2835.6H1241.3V2830.1H1244.0V2807.1H1246.7V2807.1H1249.4V2807.1H1252.1V2807.1H1254.8V2826.5H1257.5V2827.6H1260.2V2837.9H1262.9V2841.5H1265.6V2839.1H1268.3V2836.9H1271.0V2824.8H1273.7V2824.8H1276.4V2824.8H1279.1V2838.2H1281.8V2836.2H1284.5V2836.2H1287.2V2830.2H1289.9V2830.2H1292.6V2830.2H1295.3V2841.3H1298.0V2841.3H1300.7V2841.3H1303.4V2843.0H1306.1V2843.0H1308.8V2843.0H1311.5V2843.0H1314.2V2851.6H1316.9V2851.6H1319.6V2849.7H1322.3V2849.7H1325.0V2844.8H1327.7V2828.6H1330.4V2817.9H1333.1V2817.9H1335.8V2817.9H1338.5V2839.8H1341.2V2838.8H1343.9V2830.4H1346.6V2830.4H1349.3V2830.4H1352.0V2830.4H1354.7V2828.2H1357.4V2828.2H1360.1V2818.2H1362.8V2818.2H1365.5V2813.9H1368.2V2813.9H1370.9V2813.9H1373.6V2813.9H1376.3V2822.3H1379.0V2822.3H1381.7V2833.2H1384.4V2833.2H1387.1V2833.2H1389.8V2833.2H1392.5V2842.4H1395.2V2842.4H1397.9V2832.9H1400.6V2832.9H1403.3V2832.9H1406.0V2838.2H1408.7V2838.2H1411.4V2838.2H1414.1V2842.1H1416.8V2838.7H1419.5V2838.7H1422.2V2838.7H1424.9V2838.3H1427.6V2838.3H1430.3V2818.0H1433.0V2814.6H1435.7V2814.6H1438.4V2814.6H1441.1V2814.6H1443.8V2827.8H1446.5V2827.8H1449.2V2830.2H1451.9V2830.2H1454.6V2830.2H1457.3V2838.2H1460.0V2838.2H1462.7V2848.4H1465.4V2848.4H1468.1V2848.4H1470.8V2842.2H1473.5V2826.9H1476.2V2826.9H1478.9V2826.9H1481.6V2826.9H1484.3V2828.0H1487.0V2823.7H1489.7V2823.7H1492.4V2822.7H1495.1V2808.7H1497.8V2782.0H1500.5V2774.1H1503.2V2774.1H1505.9V2751.8H1508.6V2751.8H1511.3V2751.8H1514.0V2751.8H1516.7V2755.5H1519.4V2761.4H1522.1V2782.1H1524.8V2786.7H1527.5V2786.7H1530.2V2767.5H1532.9V2767.5H1535.6V2767.5H1538.3V2767.5H1541.0V2774.1H1543.7V2776.4H1546.4V2782.1H1549.1V2782.1H1551.8V2782.1H1554.5V2788.1H1557.2V2786.8H1559.9V2786.8H1562.6V2786.8H1565.3V2774.6H1568.0V2774.6H1570.7V2774.6H1573.4V2774.6H1576.1V2804.1H1578.8V2771.8H1581.5V2771.8H1584.2V2771.8H1586.9V2787.2H1589.6V2800.1H1592.3V2805.3H1595.0V2813.7H1597.7V2826.6H1600.4V2826.6H1603.1V2809.5H1605.8V2768.6H1608.5V2768.6H1611.2V2768.6H1613.9V2768.6H1616.6V2779.1H1619.3V2791.9H1622.0V2797.7H1624.7V2797.7H1627.4V2814.7H1630.1V2803.5H1632.8V2800.1H1635.5V2771.3H1638.2V2771.3H1640.9V2769.1H1643.6V2769.1H1646.3V2769.1H1649.0V2769.1H1651.7V2783.7H1654.4V2785.8H1657.1V2791.2H1659.8V2791.2H1662.5V2791.2H1665.2V2787.6H1667.9V2748.1H1670.6V2748.1H1673.3V2748.1H1676.0V2777.2H1678.7V2792.8H1681.4V2789.4H1684.1V2789.4H1686.8V2789.4H1689.5V2789.4H1692.2V2790.5H1694.9V2790.5H1697.6V2811.5H1700.3V2811.5H1703.0V2802.6H1705.7V2790.9H1708.4V2776.1H1711.1V2776.1H1713.8V2776.1H1716.5V2781.1H1719.2V2781.1H1721.9V2787.9H1724.6V2780.6H1727.3V2780.6H1730.0V2780.6H1732.7V2780.6H1735.4V2821.7H1738.1V2804.7H1740.8V2804.7H1743.5V2804.7H1746.2V2804.7H1748.9V2806.6H1751.6V2799.3H1754.3V2785.2H1757.0V2785.2H1759.7V2785.2H1762.4V2791.6H1765.1V2780.5H1767.8V2765.9H1770.5V2765.9H1773.2V2765.9H1775.9V2770.2H1778.6V2771.3H1781.3V2771.3H1784.0V2773.7H1786.7V2752.9H1789.4V2744.0H1792.1V2744.0H1794.8V2744.0H1797.5V2762.0H1800.2V2765.9H1802.9V2763.4H1805.6V2763.4H1808.3V2763.4H1811.0V2763.4H1813.7V2766.3H1816.4V2757.7H1819.1V2757.7H1821.8V2757.7H1824.5V2757.7H1827.2V2758.6H1829.9V2749.7H1832.6V2749.7H1835.3V2749.7H1838.0V2756.7H1840.7V2756.7H1843.4V2756.7H1846.1V2757.9H1848.8V2757.8H1851.5V2757.8H1854.2V2757.8H1856.9V2760.8H1859.6V2760.8H1862.3V2763.1H1865.0V2763.1H1867.7V2763.1H1870.4V2763.1H1873.1V2765.8H1875.8V2751.5H1878.5V2751.5H1881.2V2742.4H1883.9V2742.4H1886.6V2742.4H1889.3V2747.1H1892.0V2747.1H1894.7V2761.4H1897.4V2764.3H1900.1V2760.8H1902.8V2760.8H1905.5V2752.2H1908.2V2752.2H1910.9V2752.2H1913.6V2752.2H1916.3V2791.8H1913.6V2791.8H1910.9V2796.9H1908.2V2796.9H1905.5V2796.9H1902.8V2798.0H1900.1V2798.0H1897.4V2798.0H1894.7V2798.0H1892.0V2783.5H1889.3V2785.9H1886.6V2785.9H1883.9V2785.9H1881.2V2785.9H1878.5V2784.6H1875.8V2800.4H1873.1V2800.4H1870.4V2800.4H1867.7V2793.7H1865.0V2799.8H1862.3V2799.8H1859.6V2799.8H1856.9V2807.3H1854.2V2807.3H1851.5V2807.3H1848.8V2807.3H1846.1V2775.2H1843.4V2783.8H1840.7V2783.8H1838.0V2783.8H1835.3V2788.4H1832.6V2788.4H1829.9V2788.4H1827.2V2788.4H1824.5V2790.4H1821.8V2790.4H1819.1V2790.4H1816.4V2790.4H1813.7V2787.9H1811.0V2801.3H1808.3V2801.3H1805.6V2801.3H1802.9V2801.3H1800.2V2790.8H1797.5V2786.5H1794.8V2781.3H1792.1V2793.2H1789.4V2795.3H1786.7V2818.7H1784.0V2818.7H1781.3V2818.7H1778.6V2818.7H1775.9V2813.8H1773.2V2813.8H1770.5V2832.3H1767.8V2832.3H1765.1V2832.3H1762.4V2817.3H1759.7V2866.3H1757.0V2866.3H1754.3V2866.3H1751.6V2866.3H1748.9V2845.6H1746.2V2845.6H1743.5V2852.2H1740.8V2852.2H1738.1V2852.2H1735.4V2842.2H1732.7V2842.2H1730.0V2842.2H1727.3V2837.9H1724.6V2837.9H1721.9V2837.9H1719.2V2839.4H1716.5V2839.4H1713.8V2850.3H1711.1V2850.3H1708.4V2850.3H1705.7V2845.6H1703.0V2845.6H1700.3V2847.2H1697.6V2847.2H1694.9V2858.6H1692.2V2858.6H1689.5V2858.6H1686.8V2858.0H1684.1V2858.0H1681.4V2832.1H1678.7V2832.1H1676.0V2832.1H1673.3V2822.3H1670.6V2823.8H1667.9V2823.8H1665.2V2823.8H1662.5V2837.4H1659.8V2839.1H1657.1V2839.1H1654.4V2839.1H1651.7V2839.1H1649.0V2821.2H1646.3V2813.1H1643.6V2803.9H1640.9V2864.3H1638.2V2864.3H1635.5V2864.3H1632.8V2864.3H1630.1V2862.1H1627.4V2862.1H1624.7V2854.0H1622.0V2832.9H1619.3V2847.7H1616.6V2847.7H1613.9V2847.7H1611.2V2850.4H1608.5V2866.2H1605.8V2866.2H1603.1V2866.2H1600.4V2866.2H1597.7V2861.2H1595.0V2856.3H1592.3V2854.7H1589.6V2848.4H1586.9V2848.4H1584.2V2848.4H1581.5V2829.8H1578.8V2829.8H1576.1V2830.9H1573.4V2847.8H1570.7V2847.8H1568.0V2847.8H1565.3V2847.8H1562.6V2827.2H1559.9V2827.2H1557.2V2833.4H1554.5V2833.4H1551.8V2833.4H1549.1V2833.4H1546.4V2831.9H1543.7V2831.9H1541.0V2831.9H1538.3V2831.3H1535.6V2831.3H1532.9V2849.1H1530.2V2849.1H1527.5V2849.1H1524.8V2823.0H1522.1V2823.0H1519.4V2801.5H1516.7V2801.5H1514.0V2782.2H1511.3V2797.5H1508.6V2797.5H1505.9V2812.5H1503.2V2834.0H1500.5V2838.1H1497.8V2863.4H1495.1V2863.4H1492.4V2863.4H1489.7V2863.4H1487.0V2875.1H1484.3V2875.1H1481.6V2875.1H1478.9V2877.5H1476.2V2877.5H1473.5V2877.5H1470.8V2877.5H1468.1V2875.4H1465.4V2882.1H1462.7V2882.1H1460.0V2882.1H1457.3V2882.1H1454.6V2875.5H1451.9V2861.3H1449.2V2861.3H1446.5V2868.2H1443.8V2868.2H1441.1V2868.2H1438.4V2861.0H1435.7V2861.0H1433.0V2861.0H1430.3V2866.7H1427.6V2893.5H1424.9V2893.5H1422.2V2893.5H1419.5V2878.6H1416.8V2878.6H1414.1V2882.4H1411.4V2882.4H1408.7V2882.4H1406.0V2882.4H1403.3V2861.2H1400.6V2863.7H1397.9V2864.6H1395.2V2864.6H1392.5V2864.6H1389.8V2863.5H1387.1V2863.5H1384.4V2862.9H1381.7V2856.7H1379.0V2856.7H1376.3V2858.0H1373.6V2864.5H1370.9V2864.5H1368.2V2864.5H1365.5V2861.9H1362.8V2861.9H1360.1V2861.9H1357.4V2863.5H1354.7V2863.5H1352.0V2863.5H1349.3V2853.2H1346.6V2861.3H1343.9V2880.1H1341.2V2880.1H1338.5V2880.1H1335.8V2880.1H1333.1V2873.4H1330.4V2884.0H1327.7V2884.8H1325.0V2884.8H1322.3V2884.8H1319.6V2878.4H1316.9V2875.4H1314.2V2875.4H1311.5V2880.3H1308.8V2882.6H1306.1V2882.6H1303.4V2882.6H1300.7V2871.5H1298.0V2889.7H1295.3V2889.7H1292.6V2891.2H1289.9V2891.2H1287.2V2891.2H1284.5V2866.8H1281.8V2866.8H1279.1V2866.8H1276.4V2866.8H1273.7V2861.5H1271.0V2873.9H1268.3V2873.9H1265.6V2874.2H1262.9V2878.4H1260.2V2878.4H1257.5V2878.4H1254.8V2878.4H1252.1V2867.7H1249.4V2866.0H1246.7V2866.0H1244.0V2866.0H1241.3V2887.5H1238.6V2887.5H1235.9V2887.5H1233.2V2887.5H1230.5V2860.3H1227.8V2860.3H1225.1V2860.3H1222.4V2864.9H1219.7V2864.9H1217.0V2864.9H1214.3V2903.9H1211.6V2903.9H1208.9V2903.9H1206.2V2903.9H1203.5V2886.3H1200.8V2891.9H1198.1V2891.9H1195.4V2891.9H1192.7V2891.9H1190.0V2890.7H1187.3V2890.7H1184.6V2890.7H1181.9V2879.3H1179.2V2884.3H1176.5V2884.3H1173.8V2884.3H1171.1V2859.4H1168.4V2861.7H1165.7V2861.7H1163.0V2861.7H1160.3V2861.7H1157.6V2878.0H1154.9V2882.1H1152.2V2882.1H1149.5V2882.1H1146.8V2882.1H1144.1V2878.9H1141.4V2878.9H1138.7V2878.9H1136.0V2878.9H1133.3V2894.6H1130.6V2894.6H1127.9V2894.6H1125.2V2868.2H1122.5V2898.3H1119.8V2898.3H1117.1V2898.3H1114.4V2893.8H1111.7V2882.7H1109.0V2886.0H1106.3V2894.6H1103.6V2894.6H1100.9V2894.6H1098.2V2894.6H1095.5V2883.1H1092.8V2883.1H1090.1V2902.7H1087.4V2902.7H1084.7V2902.9H1082.0V2906.2H1079.3V2906.2H1076.6V2906.2H1073.9V2891.2H1071.2V2891.1H1068.5V2902.8H1065.8V2902.8H1063.1V2902.8H1060.4V2914.0H1057.7V2914.0H1055.0V2914.0H1052.3V2914.0H1049.6V2918.4H1046.9V2918.4H1044.2V2918.4H1041.5V2918.4H1038.8V2916.7H1036.1V2919.0H1033.4V2919.0H1030.7V2919.0H1028.0V2919.0H1025.3V2945.5H1022.6V2945.5H1019.9V2958.2H1017.2V2958.2H1014.5V2958.2H1011.8V2958.2H1009.1V2947.9H1006.4V2946.9H1003.7V2946.9H1001.0V2955.8H998.3V2955.8H995.6V2955.8H992.9V2951.6H990.2V2939.5H987.5V2939.5H984.8V2932.9H982.1V2932.9H979.4V2918.5H976.7V2928.2H974.0V2928.2H971.3V2937.6H968.6V2937.6H965.9V2952.0H963.2V2952.0H960.5V2952.0H957.8V2952.0H955.1V2945.1H952.4V2945.1H949.7V2937.4H947.0V2937.4H944.3V2935.2H941.6V2948.4H938.9V2948.4H936.2V2948.4H933.5V2948.4H930.8V2938.5H928.1V2931.5H925.4V2938.4H922.7V2938.4H920.0V2941.1H917.3V2941.1H914.6V2943.5H911.9V2943.5H909.2V2943.5H906.5V2943.5H903.8V2941.1H901.1V2941.1H898.4V2936.0H895.7V2948.4H893.0V2948.4H890.3V2948.4H887.6V2939.1H884.9V2939.1H882.2V2948.8H879.5V2948.8H876.8V2948.8H874.1V2953.3H871.4V2953.3H868.7V2953.3H866.0V2953.3H863.3V2944.0H860.6V2935.5H857.9V2935.5H855.2V2952.1H852.5V2952.1H849.8V2952.1H847.1V2952.1H844.4V2916.6H841.7V2927.8H839.0V2927.8H836.3V2927.8H833.6V2927.8H830.9V2948.1H828.2V2948.1H825.5V2948.1H822.8V2934.4H820.1V2947.6H817.4V2947.6H814.7V2947.6H812.0V2922.1H809.3V2915.6H806.6V2907.0H803.9V2907.0H801.2V2915.1H798.5V2921.8H795.8V2931.9H793.1V2931.9H790.4V2931.9H787.7V2928.8H785.0V2928.8H782.3V2928.8H779.6V2910.8H776.9V2936.4H774.2V2936.4H771.5V2936.4H768.8V2936.4H766.1V2919.2H763.4V2894.2H760.7V2905.2H758.0V2905.2H755.3V2913.2H752.6V2913.2H749.9V2913.2H747.2V2904.9H744.5V2907.8H741.8V2908.3H739.1V2908.3H736.4V2908.3H733.7V2885.1H731.0V2885.1H728.3V2887.6H725.6V2887.6H722.9V2887.6H720.2V2886.1H717.5V2907.9H714.8V2907.9H712.1V2917.4H709.4V2917.4H706.7V2917.4H704.0V2922.6H701.3V2922.6H698.6V2922.6H695.9V2922.6H693.2V2890.4H690.5V2898.6H687.8V2923.1H685.1V2923.1H682.4V2923.1H679.7V2923.1H677.0V2943.8H674.3V2945.7H671.6V2945.7H668.9V2945.7H666.2V2940.8H663.5V2951.8H660.8V2951.8H658.1V2951.8H655.4V2951.8H652.7V2886.7H650.0V2903.0H647.3V2918.2H644.6V2918.2H641.9V2931.6H639.2V2931.6H636.5V2931.6H633.8V2931.6H631.1V2933.9H628.4V2933.9H625.7V2936.2H623.0V2936.2H620.3V2936.2H617.6V2930.9H614.9V2928.0H612.2V2929.8H609.5V2929.8H606.8V2930.2H604.1V2930.2H601.4V2930.2H598.7V2930.2H596.0V2928.1H593.3V2916.1H590.6V2914.4H587.9V2914.4H585.2V2914.4H582.5V2905.1H579.8V2919.2H577.1V2924.3H574.4V2924.3H571.7V2945.3H569.0V2952.0H566.3V2952.0H563.6V2952.0H560.9V2943.9H558.2V2924.5H555.5V2922.3H552.8V2917.0H550.1V2901.1H547.4V2928.2H544.7V2941.8H542.0V2941.8H539.3V2941.8H536.6V2941.8H533.9V2936.9H531.2V2927.2H528.5V2927.2H525.8V2927.4H523.1V2927.4H520.4V2927.4H517.7V2927.4H515.0V2922.2H512.3V2922.2H509.6V2922.2H506.9V2918.7H504.2V2920.2H501.5V2921.4H498.8V2921.4H496.1V2921.4H493.4V2910.2H490.7V2922.6H488.0V2935.7H485.3V2935.7H482.6V2935.7H479.9V2937.8H477.2V2937.8H474.5V2937.8H471.8V2917.4H469.1V2922.8H466.4V2922.8H463.7V2922.8H461.0V2917.3H458.3V2917.3H455.6V2941.0H452.9V2941.0H450.2V2941.0H447.5V2932.2H444.8V2932.2H442.1V2932.9H439.4V2932.9H436.7V2932.9H434.0V2932.9H431.3V2932.4H428.6V2932.4H425.9V2931.6H423.2V2934.0H420.5V2934.0H417.8V2947.7H415.1V2947.7H412.4V2947.7H409.7V2947.7H407.0V2945.2H404.3V2945.2H401.6V2945.2H398.9V2952.5H396.2V2952.5H393.5V2952.5H390.8V2952.5H388.1V2926.3H385.4V2941.7H382.7V2941.7H380.0V2941.7H377.3V2941.7H374.6V2910.7H371.9V2923.5H369.2V2931.3H366.5V2931.3H363.8V2938.0H361.1V2938.0H358.4V2938.0H355.7V2927.1H353.0V2927.1H350.3V2927.1H347.6V2916.3H344.9V2913.8H342.2V2918.8H339.5V2935.1H336.8V2949.1H334.1V2949.1H331.4V2949.1H328.7V2949.1H326.0V2932.2H323.3V2932.2H320.6V2933.2H317.9V2935.7H315.2V2951.5H312.5V2951.5H309.8V2951.5H307.1Z" fill="#40e0d0"/>
<path d="M306.0 3072.0V3004.3" stroke="#ffa500" stroke-width="5"/>
<path d="M307.1 2989.1V2989.1H309.8V2971.7H312.5V2960.3H315.2V2960.3H317.9V2960.3H320.6V2949.9H323.3V2949.9H326.0V2949.9H328.7V2965.2H331.4V2965.2H334.1V2962.0H336.8V2962.0H339.5V2962.0H342.2V2973.2H344.9V2971.4H347.6V2958.7H350.3V2952.9H353.0V2952.9H355.7V2952.9H358.4V2952.9H361.1V2955.1H363.8V2955.1H366.5V2956.5H369.2V2956.5H371.9V2956.5H374.6V2954.0H377.3V2954.0H380.0V2954.0H382.7V2965.8H385.4V2965.8H388.1V2965.8H390.8V2968.7H393.5V2968.7H396.2V2968.7H398.9V2969.8H401.6V2969.8H404.3V2969.8H407.0V2953.6H409.7V2947.8H412.4V2947.8H415.1V2947.8H417.8V2967.5H420.5V2977.7H423.2V2984.6H425.9V2970.7H428.6V2938.2H431.3V2938.2H434.0V2938.2H436.7V2938.2H439.4V2962.6H442.1V2964.4H444.8V2965.6H447.5V2957.6H450.2V2957.6H452.9V2957.6H455.6V2957.6H458.3V2969.4H461.0V2969.4H463.7V2976.7H466.4V2976.5H469.1V2974.9H471.8V2971.2H474.5V2971.2H477.2V2971.2H479.9V2979.1H482.6V2973.1H485.3V2973.1H488.0V2970.2H490.7V2970.2H493.4V2970.2H496.1V2970.8H498.8V2952.0H501.5V2952.0H504.2V2951.8H506.9V2951.8H509.6V2951.8H512.3V2963.6H515.0V2972.7H517.7V2971.3H520.4V2971.3H523.1V2969.0H525.8V2969.0H528.5V2969.0H531.2V2972.8H533.9V2956.6H536.6V2956.6H539.3V2956.6H542.0V2956.6H544.7V2968.0H547.4V2960.3H550.1V2960.3H552.8V2948.8H555.5V2948.8H558.2V2948.8H560.9V2948.8H563.6V2949.3H566.3V2965.7H569.0V2961.6H571.7V2950.4H574.4V2950.4H577.1V2948.8H579.8V2948.8H582.5V2946.5H585.2V2946.5H587.9V2946.5H590.6V2946.5H593.3V2952.0H596.0V2956.3H598.7V2956.6H601.4V2956.6H604.1V2956.6H606.8V2957.5H609.5V2977.0H612.2V2965.3H614.9V2965.3H617.6V2960.9H620.3V2942.4H623.0V2942.4H625.7V2942.4H628.4V2942.4H631.1V2950.0H633.8V2950.0H636.5V2958.4H639.2V2938.2H641.9V2938.2H644.6V2938.2H647.3V2962.1H650.0V2964.0H652.7V2962.6H655.4V2962.5H658.1V2962.5H660.8V2962.5H663.5V2972.8H666.2V2972.8H668.9V2972.8H671.6V2972.8H674.3V2959.7H677.0V2959.7H679.7V2959.7H682.4V2959.7H685.1V2971.7H687.8V2971.7H690.5V2972.9H693.2V2970.3H695.9V2970.3H698.6V2966.4H701.3V2966.4H704.0V2966.4H706.7V2967.6H709.4V2967.6H712.1V2974.4H714.8V2974.4H717.5V2974.4H720.2V2974.4H722.9V2971.6H725.6V2959.7H728.3V2959.7H731.0V2959.7H733.7V2966.2H736.4V2946.9H739.1V2946.9H741.8V2946.9H744.5V2950.8H747.2V2950.8H749.9V2950.8H752.6V2947.9H755.3V2947.9H758.0V2947.9H760.7V2947.9H763.4V2961.6H766.1V2961.6H768.8V2961.6H771.5V2961.6H774.2V2967.7H776.9V2967.7H779.6V2974.4H782.3V2974.4H785.0V2974.4H787.7V2974.4H790.4V2968.1H793.1V2968.1H795.8V2968.1H798.5V2965.0H801.2V2965.0H803.9V2960.7H806.6V2960.7H809.3V2960.7H812.0V2976.3H814.7V2976.3H817.4V2960.1H820.1V2960.1H822.8V2960.1H825.5V2960.1H828.2V2964.7H830.9V2968.0H833.6V2970.6H836.3V2961.8H839.0V2948.3H841.7V2948.3H844.4V2948.3H847.1V2948.8H849.8V2963.1H852.5V2959.6H855.2V2953.4H857.9V2953.4H860.6V2953.4H863.3V2954.3H866.0V2961.1H868.7V2973.3H871.4V2963.0H874.1V2963.0H876.8V2963.0H879.5V2973.6H882.2V2958.8H884.9V2958.8H887.6V2958.8H890.3V2967.3H893.0V2967.3H895.7V2967.3H898.4V2957.9H901.1V2957.9H903.8V2957.9H906.5V2957.9H909.2V2958.8H911.9V2958.8H914.6V2958.8H917.3V2962.7H920.0V2957.2H922.7V2957.2H925.4V2935.7H928.1V2935.7H930.8V2935.7H933.5V2943.8H936.2V2943.8H938.9V2972.8H941.6V2965.3H944.3V2939.1H947.0V2935.8H949.7V2935.8H952.4V2935.8H955.1V2935.0H957.8V2935.0H960.5V2935.0H963.2V2949.5H965.9V2949.5H968.6V2950.3H971.3V2950.3H974.0V2954.8H976.7V2954.8H979.4V2956.9H982.1V2956.9H984.8V2956.9H987.5V2952.0H990.2V2952.0H992.9V2939.5H995.6V2939.5H998.3V2939.5H1001.0V2939.5H1003.7V2958.0H1006.4V2958.0H1009.1V2955.9H1011.8V2940.4H1014.5V2940.4H1017.2V2940.4H1019.9V2940.4H1022.6V2960.9H1025.3V2959.9H1028.0V2955.5H1030.7V2955.5H1033.4V2955.5H1036.1V2955.5H1038.8V2963.5H1041.5V2963.5H1044.2V2963.5H1046.9V2963.2H1049.6V2963.2H1052.3V2963.2H1055.0V2963.2H1057.7V2963.2H1060.4V2963.4H1063.1V2951.5H1065.8V2951.5H1068.5V2951.5H1071.2V2961.6H1073.9V2975.3H1076.6V2971.6H1079.3V2965.3H1082.0V2949.5H1084.7V2949.5H1087.4V2949.5H1090.1V2949.8H1092.8V2949.8H1095.5V2949.8H1098.2V2953.7H1100.9V2953.7H1103.6V2953.7H1106.3V2953.7H1109.0V2956.5H1111.7V2941.8H1114.4V2941.8H1117.1V2941.8H1119.8V2941.8H1122.5V2956.3H1125.2V2956.3H1127.9V2956.3H1130.6V2961.0H1133.3V2942.0H1136.0V2942.0H1138.7V2942.0H1141.4V2942.0H1144.1V2955.3H1146.8V2958.5H1149.5V2955.7H1152.2V2955.7H1154.9V2955.7H1157.6V2953.8H1160.3V2953.8H1163.0V2953.8H1165.7V2955.8H1168.4V2955.8H1171.1V2955.8H1173.8V2954.6H1176.5V2954.6H1179.2V2954.6H1181.9V2961.5H1184.6V2955.7H1187.3V2949.2H1190.0V2940.6H1192.7V2940.6H1195.4V2940.6H1198.1V2940.5H1200.8V2940.5H1203.5V2940.5H1206.2V2940.5H1208.9V2954.8H1211.6V2953.1H1214.3V2951.0H1217.0V2951.0H1219.7V2951.0H1222.4V2951.0H1225.1V2960.7H1227.8V2960.7H1230.5V2962.1H1233.2V2966.9H1235.9V2965.5H1238.6V2965.5H1241.3V2952.2H1244.0V2952.2H1246.7V2952.2H1249.4V2952.2H1252.1V2960.6H1254.8V2964.3H1257.5V2949.7H1260.2V2937.2H1262.9V2937.2H1265.6V2937.2H1268.3V2942.4H1271.0V2940.1H1273.7V2940.1H1276.4V2940.1H1279.1V2942.9H1281.8V2942.9H1284.5V2942.9H1287.2V2954.5H1289.9V2955.8H1292.6V2948.4H1295.3V2948.4H1298.0V2948.4H1300.7V2961.0H1303.4V2946.8H1306.1V2946.8H1308.8V2946.8H1311.5V2946.8H1314.2V2958.5H1316.9V2935.7H1319.6V2935.7H1322.3V2935.7H1325.0V2945.6H1327.7V2945.6H1330.4V2945.6H1333.1V2967.7H1335.8V2956.1H1338.5V2956.1H1341.2V2956.1H1343.9V2956.1H1346.6V2959.2H1349.3V2957.3H1352.0V2941.7H1354.7V2941.7H1357.4V2941.7H1360.1V2954.1H1362.8V2961.6H1365.5V2963.3H1368.2V2956.1H1370.9V2956.1H1373.6V2956.1H1376.3V2959.0H1379.0V2945.1H1381.7V2945.1H1384.4V2936.8H1387.1V2936.8H1389.8V2936.8H1392.5V2961.1H1395.2V2957.7H1397.9V2957.7H1400.6V2949.4H1403.3V2949.4H1406.0V2940.0H1408.7V2940.0H1411.4V2937.3H1414.1V2937.3H1416.8V2937.3H1419.5V2937.3H1422.2V2949.2H1424.9V2949.2H1427.6V2961.9H1430.3V2961.2H1433.0V2961.2H1435.7V2961.2H1438.4V2960.8H1441.1V2943.5H1443.8V2943.5H1446.5V2943.5H1449.2V2943.5H1451.9V2943.9H1454.6V2949.5H1457.3V2941.1H1460.0V2941.1H1462.7V2940.2H1465.4V2940.2H1468.1V2940.2H1470.8V2940.2H1473.5V2954.8H1476.2V2945.8H1478.9V2945.8H1481.6V2945.8H1484.3V2945.8H1487.0V2933.8H1489.7V2933.8H1492.4V2933.8H1495.1V2940.6H1497.8V2940.6H1500.5V2945.3H1503.2V2945.3H1505.9V2947.7H1508.6V2942.8H1511.3V2942.8H1514.0V2942.8H1516.7V2947.6H1519.4V2947.6H1522.1V2947.6H1524.8V2956.9H1527.5V2958.7H1530.2V2958.7H1532.9V2943.8H1535.6V2943.8H1538.3V2943.8H1541.0V2949.3H1543.7V2945.7H1546.4V2945.7H1549.1V2943.0H1551.8V2943.0H1554.5V2943.0H1557.2V2943.0H1559.9V2933.3H1562.6V2933.3H1565.3V2933.3H1568.0V2933.3H1570.7V2947.8H1573.4V2947.8H1576.1V2928.1H1578.8V2928.1H1581.5V2928.1H1584.2V2934.5H1586.9V2934.5H1589.6V2934.5H1592.3V2934.5H1595.0V2942.9H1597.7V2942.9H1600.4V2942.9H1603.1V2956.2H1605.8V2938.1H1608.5V2938.1H1611.2V2938.1H1613.9V2964.6H1616.6V2946.0H1619.3V2946.0H1622.0V2946.0H1624.7V2957.7H1627.4V2963.9H1630.1V2961.7H1632.8V2940.6H1635.5V2940.6H1638.2V2940.6H1640.9V2949.1H1643.6V2950.4H1646.3V2952.9H1649.0V2953.0H1651.7V2953.0H1654.4V2953.0H1657.1V2955.4H1659.8V2955.4H1662.5V2956.6H1665.2V2931.8H1667.9V2931.8H1670.6V2931.8H1673.3V2930.1H1676.0V2924.8H1678.7V2924.8H1681.4V2924.8H1684.1V2924.1H1686.8V2924.1H1689.5V2924.1H1692.2V2924.1H1694.9V2934.9H1697.6V2934.9H1700.3V2949.6H1703.0V2949.6H1705.7V2960.3H1708.4V2948.9H1711.1V2948.9H1713.8V2948.9H1716.5V2948.9H1719.2V2960.6H1721.9V2955.7H1724.6V2955.7H1727.3V2955.7H1730.0V2947.5H1732.7V2944.2H1735.4V2937.9H1738.1V2937.9H1740.8V2936.1H1743.5V2936.1H1746.2V2936.1H1748.9V2936.1H1751.6V2950.4H1754.3V2950.4H1757.0V2950.4H1759.7V2963.3H1762.4V2966.5H1765.1V2966.5H1767.8V2956.1H1770.5V2945.3H1773.2V2945.3H1775.9V2939.4H1778.6V2939.4H1781.3V2939.4H1784.0V2939.4H1786.7V2939.5H1789.4V2936.0H1792.1V2936.0H1794.8V2936.0H1797.5V2936.0H1800.2V2954.9H1802.9V2961.4H1805.6V2958.2H1808.3V2958.2H1811.0V2941.2H1813.7V2941.2H1816.4V2941.2H1819.1V2931.1H1821.8V2931.1H1824.5V2931.1H1827.2V2956.4H1829.9V2956.2H1832.6V2956.2H1835.3V2944.6H1838.0V2944.6H1840.7V2944.1H1843.4V2941.0H1846.1V2941.0H1848.8V2941.0H1851.5V2957.7H1854.2V2944.2H1856.9V2944.2H1859.6V2944.2H1862.3V2945.8H1865.0V2951.1H1867.7V2951.1H1870.4V2958.2H1873.1V2958.2H1875.8V2958.2H1878.5V2943.8H1881.2V2943.8H1883.9V2943.8H1886.6V2954.1H1889.3V2962.7H1892.0V2962.8H1894.7V2962.8H1897.4V2949.7H1900.1V2949.7H1902.8V2949.7H1905.5V2954.0H1908.2V2953.1H1910.9V2953.1H1913.6V2953.1H1916.3V2979.9H1913.6V2979.9H1910.9V2979.9H1908.2V2979.9H1905.5V2979.9H1902.8V2992.5H1900.1V2992.5H1897.4V3007.0H1894.7V3007.0H1892.0V3007.0H1889.3V2984.9H1886.6V2984.9H1883.9V2994.2H1881.2V2994.2H1878.5V2994.2H1875.8V2988.4H1873.1V2996.5H1870.4V2996.5H1867.7V2996.5H1865.0V2996.5H1862.3V2969.2H1859.6V2965.4H1856.9V2991.4H1854.2V2991.4H1851.5V2991.4H1848.8V2991.4H1846.1V2974.3H1843.4V2984.1H1840.7V2984.1H1838.0V2986.5H1835.3V2986.5H1832.6V2986.5H1829.9V2972.4H1827.2V2972.4H1824.5V2984.6H1821.8V2984.6H1819.1V2984.6H1816.4V2978.4H1813.7V2982.9H1811.0V2998.1H1808.3V2998.1H1805.6V2998.1H1802.9V2998.1H1800.2V2979.1H1797.5V2980.5H1794.8V2980.5H1792.1V2980.5H1789.4V2974.5H1786.7V2974.5H1784.0V2966.2H1781.3V2966.5H1778.6V2972.2H1775.9V2990.0H1773.2V2990.0H1770.5V2996.5H1767.8V2996.5H1765.1V2996.5H1762.4V2981.4H1759.7V2979.4H1757.0V2976.9H1754.3V2976.9H1751.6V2973.6H1748.9V2973.6H1746.2V2970.8H1743.5V2970.8H1740.8V2970.8H1738.1V2970.6H1735.4V2976.6H1732.7V2992.8H1730.0V2992.8H1727.3V2992.8H1724.6V2983.9H1721.9V2987.5H1719.2V2987.5H1716.5V2987.5H1713.8V2987.5H1711.1V2987.2H1708.4V2987.2H1705.7V2977.4H1703.0V2977.4H1700.3V2975.1H1697.6V2975.1H1694.9V2962.8H1692.2V2962.8H1689.5V2960.7H1686.8V2949.2H1684.1V2957.6H1681.4V2957.6H1678.7V2961.8H1676.0V2968.2H1673.3V2975.9H1670.6V2981.4H1667.9V2981.4H1665.2V2981.4H1662.5V2996.7H1659.8V2996.7H1657.1V2996.7H1654.4V2996.0H1651.7V2996.0H1649.0V2988.4H1646.3V2988.4H1643.6V2988.4H1640.9V2988.4H1638.2V2979.3H1635.5V2989.9H1632.8V2989.9H1630.1V2989.9H1627.4V2988.1H1624.7V2987.7H1622.0V2987.7H1619.3V2997.8H1616.6V2997.8H1613.9V2997.8H1611.2V2997.8H1608.5V2989.0H1605.8V3001.6H1603.1V3001.6H1600.4V3001.6H1597.7V3001.6H1595.0V2994.1H1592.3V2983.5H1589.6V2983.5H1586.9V2983.5H1584.2V2981.0H1581.5V2974.8H1578.8V2974.8H1576.1V2980.0H1573.4V2985.3H1570.7V2985.3H1568.0V3006.6H1565.3V3006.6H1562.6V3006.6H1559.9V2976.8H1557.2V2976.8H1554.5V2976.8H1551.8V2967.2H1549.1V2975.8H1546.4V2979.0H1543.7V2979.0H1541.0V2979.0H1538.3V2976.5H1535.6V2995.5H1532.9V2995.5H1530.2V2998.4H1527.5V2998.4H1524.8V2998.4H1522.1V2974.1H1519.4V2968.4H1516.7V2987.6H1514.0V2987.6H1511.3V2987.6H1508.6V2987.6H1505.9V2982.5H1503.2V2970.5H1500.5V2970.5H1497.8V2981.4H1495.1V2981.4H1492.4V2981.4H1489.7V2981.4H1487.0V2980.8H1484.3V2969.0H1481.6V2971.8H1478.9V2992.7H1476.2V2992.7H1473.5V2992.7H1470.8V2993.0H1468.1V2993.0H1465.4V2993.0H1462.7V2993.0H1460.0V2986.3H1457.3V2986.3H1454.6V2986.3H1451.9V2970.7H1449.2V2981.3H1446.5V2981.3H1443.8V2981.3H1441.1V2981.3H1438.4V2980.3H1435.7V2980.3H1433.0V2991.3H1430.3V2991.3H1427.6V2991.3H1424.9V2991.3H1422.2V2988.2H1419.5V2988.2H1416.8V2988.2H1414.1V2976.5H1411.4V2976.5H1408.7V2986.2H1406.0V2986.2H1403.3V2986.2H1400.6V2997.5H1397.9V2997.5H1395.2V2997.5H1392.5V2978.8H1389.8V2978.8H1387.1V2978.8H1384.4V2985.2H1381.7V2986.2H1379.0V2986.2H1376.3V2986.2H1373.6V2992.3H1370.9V2992.3H1368.2V2993.0H1365.5V2993.0H1362.8V2993.0H1360.1V2983.7H1357.4V2983.7H1354.7V2983.7H1352.0V2978.8H1349.3V2981.5H1346.6V2981.5H1343.9V2987.8H1341.2V2989.2H1338.5V2989.2H1335.8V2989.2H1333.1V2988.5H1330.4V3006.7H1327.7V3008.2H1325.0V3008.2H1322.3V3008.2H1319.6V3008.2H1316.9V2984.8H1314.2V2984.8H1311.5V2984.8H1308.8V2984.8H1306.1V2979.9H1303.4V2987.5H1300.7V2987.5H1298.0V2987.5H1295.3V2980.9H1292.6V2980.9H1289.9V2986.7H1287.2V2986.7H1284.5V2986.7H1281.8V2968.3H1279.1V2968.3H1276.4V2967.1H1273.7V2967.4H1271.0V2987.8H1268.3V2987.8H1265.6V2987.8H1262.9V2972.3H1260.2V2976.8H1257.5V2976.8H1254.8V2983.6H1252.1V2983.6H1249.4V2983.6H1246.7V2984.9H1244.0V2984.9H1241.3V2985.5H1238.6V2995.2H1235.9V3008.6H1233.2V3008.6H1230.5V3008.6H1227.8V3008.6H1225.1V2985.5H1222.4V2990.6H1219.7V2990.6H1217.0V2990.6H1214.3V2984.7H1211.6V2984.7H1208.9V2984.7H1206.2V2979.7H1203.5V2990.4H1200.8V2990.4H1198.1V2990.4H1195.4V2987.7H1192.7V2988.5H1190.0V2988.5H1187.3V2988.5H1184.6V2987.1H1181.9V2987.1H1179.2V2986.4H1176.5V2985.2H1173.8V2984.6H1171.1V2984.1H1168.4V2984.9H1165.7V2984.9H1163.0V2984.9H1160.3V2979.6H1157.6V2979.6H1154.9V2984.9H1152.2V2984.9H1149.5V2984.9H1146.8V2984.9H1144.1V2975.7H1141.4V2975.7H1138.7V2981.3H1136.0V2983.2H1133.3V2983.2H1130.6V2983.2H1127.9V2983.2H1125.2V2981.9H1122.5V2981.9H1119.8V2981.9H1117.1V2974.4H1114.4V2978.5H1111.7V2978.5H1109.0V2978.5H1106.3V2981.8H1103.6V2981.9H1100.9V2985.9H1098.2V2985.9H1095.5V2985.9H1092.8V2988.8H1090.1V2988.8H1087.4V2988.8H1084.7V2989.1H1082.0V2989.1H1079.3V2989.1H1076.6V3003.5H1073.9V3003.5H1071.2V3003.5H1068.5V3003.5H1065.8V3000.4H1063.1V3000.4H1060.4V3000.4H1057.7V2995.2H1055.0V2996.8H1052.3V3009.7H1049.6V3009.7H1046.9V3009.7H1044.2V3009.7H1041.5V3000.4H1038.8V2992.1H1036.1V2979.8H1033.4V2989.4H1030.7V2989.4H1028.0V2989.4H1025.3V2979.5H1022.6V2979.5H1019.9V2984.9H1017.2V2984.9H1014.5V2984.9H1011.8V2987.2H1009.1V2987.2H1006.4V2987.2H1003.7V2974.1H1001.0V2974.1H998.3V2974.1H995.6V2995.1H992.9V2995.1H990.2V2995.1H987.5V2995.1H984.8V2986.5H982.1V2980.5H979.4V2980.5H976.7V2983.7H974.0V2983.7H971.3V2983.7H968.6V2983.7H965.9V2974.1H963.2V2974.1H960.5V2975.6H957.8V2975.6H955.1V2975.6H952.4V2975.6H949.7V2979.8H947.0V2979.8H944.3V3001.8H941.6V3001.8H938.9V3001.8H936.2V2981.3H933.5V2981.3H930.8V2981.3H928.1V2997.3H925.4V2997.3H922.7V2997.3H920.0V2997.3H917.3V2991.1H914.6V2991.1H911.9V2976.4H909.2V2976.4H906.5V2979.8H903.8V3009.3H901.1V3009.3H898.4V3009.3H895.7V3009.3H893.0V2993.5H890.3V3001.2H887.6V3001.2H884.9V3001.2H882.2V3001.3H879.5V3001.3H876.8V3001.3H874.1V2990.3H871.4V2990.3H868.7V2984.5H866.0V2982.1H863.3V2979.8H860.6V2989.2H857.9V2989.2H855.2V2989.2H852.5V2988.1H849.8V2988.1H847.1V2988.1H844.4V2994.6H841.7V2994.6H839.0V2994.6H836.3V2994.6H833.6V2990.6H830.9V3010.9H828.2V3010.9H825.5V3010.9H822.8V3012.3H820.1V3012.3H817.4V3012.3H814.7V3012.3H812.0V3000.3H809.3V3002.7H806.6V3002.7H803.9V3002.9H801.2V3002.9H798.5V3002.9H795.8V2998.3H793.1V3008.5H790.4V3008.5H787.7V3012.5H785.0V3012.5H782.3V3012.5H779.6V3010.3H776.9V2999.9H774.2V2999.9H771.5V2999.9H768.8V2992.4H766.1V2992.4H763.4V2992.4H760.7V2992.4H758.0V2982.9H755.3V2980.8H752.6V2980.8H749.9V2985.8H747.2V2986.5H744.5V2986.5H741.8V2998.1H739.1V2998.1H736.4V2998.1H733.7V2989.6H731.0V2989.6H728.3V2996.0H725.6V2998.9H722.9V2998.9H720.2V2999.9H717.5V3007.9H714.8V3007.9H712.1V3007.9H709.4V3007.9H706.7V2997.7H704.0V2997.7H701.3V2997.7H698.6V2997.7H695.9V3002.8H693.2V3002.8H690.5V3002.8H687.8V2997.8H685.1V2993.8H682.4V2993.8H679.7V2993.8H677.0V2997.4H674.3V2997.4H671.6V2997.4H668.9V2995.3H666.2V2995.0H663.5V2990.7H660.8V2992.5H658.1V3013.4H655.4V3013.4H652.7V3013.4H650.0V3013.4H647.3V2975.6H644.6V2985.9H641.9V2985.9H639.2V2988.2H636.5V2988.2H633.8V2988.4H631.1V2988.4H628.4V2988.4H625.7V2987.7H623.0V2989.4H620.3V3006.0H617.6V3006.0H614.9V3006.0H612.2V2998.4H609.5V2992.3H606.8V2991.6H604.1V2991.6H601.4V2991.6H598.7V2980.0H596.0V2979.5H593.3V2968.7H590.6V2968.7H587.9V2984.6H585.2V2987.0H582.5V2987.0H579.8V2987.0H577.1V2987.0H574.4V2986.0H571.7V2986.0H569.0V2985.9H566.3V2985.9H563.6V2985.9H560.9V2976.3H558.2V2980.8H555.5V2980.8H552.8V2996.3H550.1V3009.9H547.4V3009.9H544.7V3009.9H542.0V3009.9H539.3V2989.9H536.6V2986.8H533.9V2986.8H531.2V2986.8H528.5V2988.6H525.8V2990.7H523.1V2990.7H520.4V2998.3H517.7V2998.3H515.0V2998.3H512.3V2996.1H509.6V2987.2H506.9V2991.6H504.2V2991.6H501.5V2991.6H498.8V2991.6H496.1V2989.5H493.4V2990.7H490.7V2990.7H488.0V3005.8H485.3V3005.8H482.6V3005.8H479.9V2993.5H477.2V3001.6H474.5V3001.6H471.8V3001.6H469.1V3001.6H466.4V3001.6H463.7V3001.6H461.0V3001.6H458.3V2996.2H455.6V2985.7H452.9V2985.7H450.2V2986.8H447.5V2994.2H444.8V2994.2H442.1V2994.2H439.4V2987.0H436.7V2984.5H434.0V2990.1H431.3V2994.5H428.6V3014.3H425.9V3014.3H423.2V3014.3H420.5V3014.3H417.8V2994.7H415.1V2994.7H412.4V2991.4H409.7V3011.3H407.0V3011.3H404.3V3011.3H401.6V3011.3H398.9V2998.2H396.2V2998.2H393.5V2990.9H390.8V2990.9H388.1V2994.8H385.4V2994.8H382.7V2994.8H380.0V2994.8H377.3V2989.6H374.6V2992.2H371.9V2992.2H369.2V2992.2H366.5V2989.1H363.8V2989.1H361.1V2989.1H358.4V2977.8H355.7V2977.9H353.0V2989.8H350.3V3014.6H347.6V3014.6H344.9V3014.6H342.2V2999.3H339.5V2995.1H336.8V2995.1H334.1V2986.1H331.4V2988.6H328.7V2988.7H326.0V3001.4H323.3V3001.4H320.6V3001.4H317.9V2995.2H315.2V3013.8H312.5V3032.6H309.8V3032.6H307.1Z" fill="#ffa500"/>
<path d="M306.0 3072.0V2992.8" stroke="#ffbd21" stroke-width="5"/>
<path d="M307.1 2961.2V2961.2H309.8V2917.4H312.5V2917.4H315.2V2917.4H317.9V2905.7H320.6V2905.7H323.3V2905.7H326.0V2893.9H328.7V2893.9H331.4V2891.9H334.1V2891.9H336.8V2891.9H339.5V2891.9H342.2V2894.0H344.9V2894.0H347.6V2897.4H350.3V2897.4H353.0V2881.4H355.7V2881.4H358.4V2881.4H361.1V2883.1H363.8V2882.2H366.5V2882.2H369.2V2882.2H371.9V2882.2H374.6V2902.1H377.3V2876.9H380.0V2871.8H382.7V2860.4H385.4V2860.4H388.1V2860.4H390.8V2860.4H393.5V2871.0H396.2V2871.0H398.9V2871.0H401.6V2871.0H404.3V2871.0H407.0V2871.0H409.7V2871.0H412.4V2882.1H415.1V2890.6H417.8V2879.2H420.5V2873.7H423.2V2873.7H425.9V2873.7H428.6V2852.1H431.3V2852.1H434.0V2852.1H436.7V2873.9H439.4V2891.0H442.1V2890.0H444.8V2878.6H447.5V2878.5H450.2V2878.5H452.9V2878.5H455.6V2878.5H458.3V2884.3H461.0V2884.3H463.7V2884.3H466.4V2884.3H469.1V2870.9H471.8V2870.9H474.5V2870.9H477.2V2870.9H479.9V2876.8H482.6V2885.3H485.3V2876.9H488.0V2876.9H490.7V2876.9H493.4V2876.9H496.1V2905.4H498.8V2896.7H501.5V2896.7H504.2V2884.8H506.9V2884.8H509.6V2884.8H512.3V2910.3H515.0V2904.6H517.7V2904.6H520.4V2894.8H523.1V2894.8H525.8V2892.0H528.5V2880.4H531.2V2880.4H533.9V2880.4H536.6V2880.4H539.3V2901.7H542.0V2901.7H544.7V2895.3H547.4V2884.2H550.1V2884.2H552.8V2884.2H555.5V2872.8H558.2V2872.8H560.9V2872.8H563.6V2872.8H566.3V2894.2H569.0V2894.2H571.7V2877.4H574.4V2877.4H577.1V2877.4H579.8V2877.4H582.5V2888.8H585.2V2882.9H587.9V2882.9H590.6V2882.9H593.3V2882.9H596.0V2896.6H598.7V2896.6H601.4V2896.6H604.1V2896.6H606.8V2901.4H609.5V2905.9H612.2V2905.9H614.9V2904.4H617.6V2904.4H620.3V2904.4H623.0V2908.0H625.7V2902.9H628.4V2902.9H631.1V2902.9H633.8V2915.3H636.5V2898.7H639.2V2896.7H641.9V2896.7H644.6V2867.3H647.3V2867.3H650.0V2867.3H652.7V2867.3H655.4V2882.5H658.1V2882.5H660.8V2881.5H663.5V2870.7H666.2V2870.7H668.9V2870.7H671.6V2879.9H674.3V2879.9H677.0V2879.9H679.7V2888.4H682.4V2896.2H685.1V2896.2H687.8V2893.2H690.5V2893.2H693.2V2893.2H695.9V2893.2H698.6V2903.6H701.3V2885.4H704.0V2885.4H706.7V2876.4H709.4V2876.4H712.1V2876.4H714.8V2876.4H717.5V2886.5H720.2V2887.0H722.9V2887.7H725.6V2892.4H728.3V2889.6H731.0V2876.7H733.7V2876.7H736.4V2876.7H739.1V2871.2H741.8V2871.2H744.5V2871.2H747.2V2871.2H749.9V2877.1H752.6V2878.1H755.3V2855.0H758.0V2855.0H760.7V2855.0H763.4V2867.5H766.1V2867.5H768.8V2867.5H771.5V2867.5H774.2V2885.4H776.9V2883.2H779.6V2875.9H782.3V2875.9H785.0V2875.9H787.7V2875.9H790.4V2890.7H793.1V2895.9H795.8V2895.9H798.5V2893.8H801.2V2890.8H803.9V2890.8H806.6V2890.8H809.3V2893.1H812.0V2893.1H814.7V2893.0H817.4V2893.0H820.1V2893.0H822.8V2893.0H825.5V2879.4H828.2V2865.0H830.9V2865.0H833.6V2865.0H836.3V2865.0H839.0V2873.9H841.7V2873.9H844.4V2873.9H847.1V2881.8H849.8V2876.7H852.5V2876.7H855.2V2876.7H857.9V2877.1H860.6V2877.1H863.3V2877.1H866.0V2877.2H868.7V2877.2H871.4V2905.3H874.1V2905.3H876.8V2896.0H879.5V2893.8H882.2V2893.8H884.9V2893.8H887.6V2917.1H890.3V2903.8H893.0V2898.7H895.7V2893.2H898.4V2893.2H901.1V2893.2H903.8V2890.9H906.5V2883.7H909.2V2883.7H911.9V2876.1H914.6V2870.4H917.3V2855.5H920.0V2855.5H922.7V2855.5H925.4V2878.5H928.1V2881.8H930.8V2881.8H933.5V2881.8H936.2V2885.3H938.9V2885.3H941.6V2885.3H944.3V2894.2H947.0V2898.6H949.7V2901.1H952.4V2890.7H955.1V2890.7H957.8V2890.7H960.5V2890.7H963.2V2896.1H965.9V2882.1H968.6V2882.1H971.3V2864.2H974.0V2864.2H976.7V2864.2H979.4V2874.9H982.1V2877.7H984.8V2886.5H987.5V2886.5H990.2V2886.5H992.9V2886.5H995.6V2888.9H998.3V2889.3H1001.0V2897.2H1003.7V2897.2H1006.4V2871.1H1009.1V2871.1H1011.8V2871.1H1014.5V2882.2H1017.2V2882.2H1019.9V2882.2H1022.6V2882.2H1025.3V2888.9H1028.0V2906.9H1030.7V2906.9H1033.4V2893.2H1036.1V2893.2H1038.8V2893.2H1041.5V2898.5H1044.2V2898.9H1046.9V2898.9H1049.6V2898.9H1052.3V2894.2H1055.0V2894.2H1057.7V2894.2H1060.4V2886.1H1063.1V2886.1H1065.8V2886.1H1068.5V2886.1H1071.2V2879.0H1073.9V2879.0H1076.6V2879.0H1079.3V2893.3H1082.0V2883.8H1084.7V2883.8H1087.4V2883.8H1090.1V2881.7H1092.8V2881.7H1095.5V2881.7H1098.2V2881.7H1100.9V2891.7H1103.6V2876.1H1106.3V2876.1H1109.0V2876.1H1111.7V2873.5H1114.4V2868.8H1117.1V2862.4H1119.8V2862.4H1122.5V2862.4H1125.2V2886.2H1127.9V2895.6H1130.6V2895.6H1133.3V2884.3H1136.0V2879.9H1138.7V2879.9H1141.4V2879.9H1144.1V2879.9H1146.8V2880.6H1149.5V2890.6H1152.2V2890.6H1154.9V2890.6H1157.6V2872.8H1160.3V2872.8H1163.0V2865.9H1165.7V2865.9H1168.4V2865.9H1171.1V2857.5H1173.8V2857.5H1176.5V2857.5H1179.2V2857.5H1181.9V2878.7H1184.6V2878.7H1187.3V2878.7H1190.0V2878.7H1192.7V2884.5H1195.4V2886.6H1198.1V2886.6H1200.8V2882.9H1203.5V2882.9H1206.2V2882.9H1208.9V2857.1H1211.6V2857.1H1214.3V2857.1H1217.0V2857.1H1219.7V2884.0H1222.4V2884.0H1225.1V2871.7H1227.8V2871.7H1230.5V2871.7H1233.2V2870.6H1235.9V2870.6H1238.6V2870.6H1241.3V2870.6H1244.0V2885.6H1246.7V2885.6H1249.4V2885.6H1252.1V2886.4H1254.8V2886.4H1257.5V2883.5H1260.2V2883.5H1262.9V2883.5H1265.6V2880.4H1268.3V2870.6H1271.0V2870.6H1273.7V2870.6H1276.4V2885.9H1279.1V2890.8H1281.8V2869.5H1284.5V2869.5H1287.2V2869.5H1289.9V2869.5H1292.6V2877.7H1295.3V2884.5H1298.0V2884.5H1300.7V2884.5H1303.4V2884.5H1306.1V2898.8H1308.8V2885.1H1311.5V2885.1H1314.2V2885.1H1316.9V2885.1H1319.6V2890.4H1322.3V2896.4H1325.0V2885.0H1327.7V2859.9H1330.4V2859.9H1333.1V2859.9H1335.8V2874.0H1338.5V2874.7H1341.2V2866.9H1343.9V2866.9H1346.6V2866.9H1349.3V2866.9H1352.0V2870.8H1354.7V2873.2H1357.4V2873.9H1360.1V2884.5H1362.8V2884.5H1365.5V2865.6H1368.2V2865.6H1370.9V2865.6H1373.6V2865.6H1376.3V2886.2H1379.0V2886.2H1381.7V2894.9H1384.4V2886.0H1387.1V2858.7H1389.8V2858.7H1392.5V2858.7H1395.2V2873.5H1397.9V2881.0H1400.6V2881.0H1403.3V2881.0H1406.0V2886.8H1408.7V2886.8H1411.4V2886.8H1414.1V2889.3H1416.8V2884.7H1419.5V2878.9H1422.2V2878.9H1424.9V2878.9H1427.6V2869.8H1430.3V2869.8H1433.0V2869.8H1435.7V2870.3H1438.4V2883.4H1441.1V2882.4H1443.8V2882.4H1446.5V2871.8H1449.2V2854.9H1451.9V2854.9H1454.6V2854.9H1457.3V2870.0H1460.0V2871.0H1462.7V2889.3H1465.4V2893.3H1468.1V2896.2H1470.8V2896.2H1473.5V2878.6H1476.2V2878.6H1478.9V2878.6H1481.6V2854.6H1484.3V2854.6H1487.0V2854.6H1489.7V2854.6H1492.4V2870.5H1495.1V2875.4H1497.8V2875.4H1500.5V2861.4H1503.2V2861.4H1505.9V2861.4H1508.6V2872.2H1511.3V2865.6H1514.0V2859.9H1516.7V2859.9H1519.4V2859.9H1522.1V2873.5H1524.8V2862.1H1527.5V2862.1H1530.2V2862.1H1532.9V2879.2H1535.6V2882.9H1538.3V2893.5H1541.0V2894.3H1543.7V2894.3H1546.4V2877.0H1549.1V2877.0H1551.8V2873.8H1554.5V2873.8H1557.2V2872.2H1559.9V2872.2H1562.6V2872.2H1565.3V2889.6H1568.0V2889.6H1570.7V2890.4H1573.4V2890.4H1576.1V2878.1H1578.8V2878.1H1581.5V2878.1H1584.2V2869.9H1586.9V2869.9H1589.6V2869.9H1592.3V2869.9H1595.0V2870.9H1597.7V2870.9H1600.4V2870.9H1603.1V2886.4H1605.8V2886.4H1608.5V2886.4H1611.2V2891.0H1613.9V2897.4H1616.6V2866.1H1619.3V2866.1H1622.0V2866.1H1624.7V2866.1H1627.4V2877.4H1630.1V2877.4H1632.8V2874.2H1635.5V2874.2H1638.2V2874.2H1640.9V2874.2H1643.6V2872.6H1646.3V2872.6H1649.0V2872.6H1651.7V2874.5H1654.4V2874.5H1657.1V2871.1H1659.8V2871.1H1662.5V2871.1H1665.2V2871.1H1667.9V2875.9H1670.6V2885.5H1673.3V2885.5H1676.0V2883.5H1678.7V2883.5H1681.4V2883.5H1684.1V2873.9H1686.8V2873.9H1689.5V2873.9H1692.2V2872.4H1694.9V2865.3H1697.6V2865.3H1700.3V2865.3H1703.0V2869.1H1705.7V2869.1H1708.4V2869.1H1711.1V2883.1H1713.8V2872.7H1716.5V2869.2H1719.2V2869.2H1721.9V2869.2H1724.6V2874.1H1727.3V2901.3H1730.0V2874.9H1732.7V2874.9H1735.4V2874.9H1738.1V2896.2H1740.8V2888.3H1743.5V2888.3H1746.2V2885.4H1748.9V2885.4H1751.6V2885.4H1754.3V2873.7H1757.0V2873.7H1759.7V2873.7H1762.4V2873.7H1765.1V2898.0H1767.8V2896.9H1770.5V2886.7H1773.2V2886.7H1775.9V2886.7H1778.6V2900.1H1781.3V2897.3H1784.0V2897.3H1786.7V2894.8H1789.4V2894.8H1792.1V2894.8H1794.8V2896.8H1797.5V2896.8H1800.2V2892.5H1802.9V2892.5H1805.6V2885.1H1808.3V2885.1H1811.0V2885.1H1813.7V2895.7H1816.4V2893.3H1819.1V2893.3H1821.8V2893.3H1824.5V2889.4H1827.2V2889.4H1829.9V2889.4H1832.6V2889.4H1835.3V2890.8H1838.0V2890.8H1840.7V2894.6H1843.4V2894.6H1846.1V2889.6H1848.8V2889.6H1851.5V2889.6H1854.2V2889.6H1856.9V2902.0H1859.6V2894.1H1862.3V2894.1H1865.0V2894.1H1867.7V2894.1H1870.4V2907.0H1873.1V2907.0H1875.8V2894.9H1878.5V2891.4H1881.2V2891.4H1883.9V2891.4H1886.6V2891.4H1889.3V2892.5H1892.0V2892.5H1894.7V2897.9H1897.4V2897.9H1900.1V2897.9H1902.8V2897.9H1905.5V2886.9H1908.2V2886.9H1910.9V2886.9H1913.6V2886.9H1916.3V2912.8H1913.6V2931.6H1910.9V2937.3H1908.2V2937.3H1905.5V2937.3H1902.8V2937.3H1900.1V2922.9H1897.4V2931.5H1894.7V2931.5H1892.0V2931.5H1889.3V2914.0H1886.6V2915.5H1883.9V2921.9H1881.2V2924.0H1878.5V2924.0H1875.8V2924.6H1873.1V2929.0H1870.4V2929.0H1867.7V2929.0H1865.0V2929.0H1862.3V2927.2H1859.6V2927.2H1856.9V2927.2H1854.2V2927.2H1851.5V2926.8H1848.8V2937.3H1846.1V2937.3H1843.4V2937.3H1840.7V2926.6H1838.0V2926.6H1835.3V2920.7H1832.6V2916.0H1829.9V2917.2H1827.2V2943.4H1824.5V2943.4H1821.8V2943.4H1819.1V2925.7H1816.4V2925.7H1813.7V2925.7H1811.0V2914.5H1808.3V2911.8H1805.6V2917.6H1802.9V2917.6H1800.2V2920.6H1797.5V2931.5H1794.8V2931.5H1792.1V2931.5H1789.4V2923.6H1786.7V2925.5H1784.0V2925.5H1781.3V2925.5H1778.6V2925.5H1775.9V2923.2H1773.2V2918.4H1770.5V2921.6H1767.8V2921.6H1765.1V2921.6H1762.4V2937.4H1759.7V2937.4H1757.0V2937.4H1754.3V2937.4H1751.6V2933.9H1748.9V2933.9H1746.2V2933.9H1743.5V2939.1H1740.8V2939.1H1738.1V2939.1H1735.4V2939.1H1732.7V2920.7H1730.0V2920.9H1727.3V2920.9H1724.6V2920.9H1721.9V2911.9H1719.2V2908.7H1716.5V2908.7H1713.8V2912.2H1711.1V2912.2H1708.4V2912.2H1705.7V2912.2H1703.0V2889.5H1700.3V2898.2H1697.6V2898.2H1694.9V2898.2H1692.2V2898.2H1689.5V2901.0H1686.8V2901.0H1684.1V2933.8H1681.4V2936.4H1678.7V2936.4H1676.0V2936.4H1673.3V2914.9H1670.6V2913.3H1667.9V2928.2H1665.2V2928.2H1662.5V2928.2H1659.8V2930.9H1657.1V2930.9H1654.4V2930.9H1651.7V2930.9H1649.0V2905.8H1646.3V2926.9H1643.6V2926.9H1640.9V2926.9H1638.2V2926.9H1635.5V2915.7H1632.8V2915.7H1630.1V2924.4H1627.4V2924.4H1624.7V2924.4H1622.0V2920.7H1619.3V2920.7H1616.6V2920.7H1613.9V2920.7H1611.2V2915.2H1608.5V2917.2H1605.8V2917.2H1603.1V2917.2H1600.4V2918.2H1597.7V2918.2H1595.0V2918.2H1592.3V2918.2H1589.6V2902.8H1586.9V2909.1H1584.2V2909.1H1581.5V2914.5H1578.8V2915.3H1576.1V2915.3H1573.4V2915.3H1570.7V2911.6H1568.0V2911.6H1565.3V2915.5H1562.6V2915.5H1559.9V2915.5H1557.2V2915.5H1554.5V2913.3H1551.8V2913.3H1549.1V2922.1H1546.4V2922.1H1543.7V2922.1H1541.0V2909.7H1538.3V2905.6H1535.6V2905.6H1532.9V2899.5H1530.2V2894.9H1527.5V2891.4H1524.8V2900.1H1522.1V2900.1H1519.4V2907.3H1516.7V2907.3H1514.0V2907.3H1511.3V2907.3H1508.6V2897.6H1505.9V2893.0H1503.2V2912.9H1500.5V2912.9H1497.8V2912.9H1495.1V2905.3H1492.4V2905.3H1489.7V2903.2H1487.0V2910.3H1484.3V2910.3H1481.6V2910.3H1478.9V2913.6H1476.2V2926.2H1473.5V2926.2H1470.8V2926.2H1468.1V2913.5H1465.4V2911.1H1462.7V2911.1H1460.0V2911.1H1457.3V2911.1H1454.6V2907.3H1451.9V2907.3H1449.2V2907.3H1446.5V2907.3H1443.8V2904.2H1441.1V2904.2H1438.4V2904.2H1435.7V2895.4H1433.0V2911.6H1430.3V2911.6H1427.6V2911.6H1424.9V2908.1H1422.2V2919.5H1419.5V2919.5H1416.8V2919.5H1414.1V2919.5H1411.4V2928.0H1408.7V2928.0H1406.0V2928.0H1403.3V2905.4H1400.6V2911.2H1397.9V2916.9H1395.2V2916.9H1392.5V2917.5H1389.8V2917.5H1387.1V2917.5H1384.4V2917.5H1381.7V2910.3H1379.0V2912.0H1376.3V2912.0H1373.6V2912.0H1370.9V2907.0H1368.2V2905.0H1365.5V2906.0H1362.8V2906.1H1360.1V2906.1H1357.4V2906.1H1354.7V2906.1H1352.0V2894.2H1349.3V2908.2H1346.6V2912.2H1343.9V2912.2H1341.2V2912.2H1338.5V2912.2H1335.8V2906.6H1333.1V2903.1H1330.4V2912.0H1327.7V2916.6H1325.0V2916.6H1322.3V2917.1H1319.6V2917.1H1316.9V2933.0H1314.2V2933.0H1311.5V2933.0H1308.8V2922.2H1306.1V2922.2H1303.4V2922.2H1300.7V2918.6H1298.0V2913.6H1295.3V2913.6H1292.6V2913.6H1289.9V2917.1H1287.2V2917.1H1284.5V2917.1H1281.8V2917.1H1279.1V2911.1H1276.4V2911.1H1273.7V2922.3H1271.0V2922.3H1268.3V2922.3H1265.6V2922.3H1262.9V2913.1H1260.2V2913.1H1257.5V2913.1H1254.8V2913.1H1252.1V2912.5H1249.4V2903.4H1246.7V2912.4H1244.0V2912.4H1241.3V2912.4H1238.6V2912.4H1235.9V2908.1H1233.2V2908.1H1230.5V2910.9H1227.8V2914.6H1225.1V2914.6H1222.4V2914.6H1219.7V2908.0H1217.0V2925.4H1214.3V2925.4H1211.6V2925.4H1208.9V2907.8H1206.2V2905.0H1203.5V2905.0H1200.8V2909.0H1198.1V2913.9H1195.4V2913.9H1192.7V2913.9H1190.0V2915.4H1187.3V2936.5H1184.6V2936.5H1181.9V2936.5H1179.2V2909.1H1176.5V2901.9H1173.8V2920.8H1171.1V2920.8H1168.4V2920.8H1165.7V2920.8H1163.0V2905.7H1160.3V2905.7H1157.6V2905.8H1154.9V2928.5H1152.2V2928.5H1149.5V2940.7H1146.8V2940.7H1144.1V2940.7H1141.4V2940.7H1138.7V2931.2H1136.0V2937.9H1133.3V2937.9H1130.6V2937.9H1127.9V2932.7H1125.2V2932.7H1122.5V2909.3H1119.8V2894.6H1117.1V2924.2H1114.4V2924.2H1111.7V2924.2H1109.0V2924.2H1106.3V2928.3H1103.6V2928.3H1100.9V2928.3H1098.2V2928.6H1095.5V2928.6H1092.8V2928.6H1090.1V2913.4H1087.4V2937.3H1084.7V2937.3H1082.0V2937.3H1079.3V2937.3H1076.6V2932.4H1073.9V2922.6H1071.2V2922.6H1068.5V2934.6H1065.8V2938.2H1063.1V2938.2H1060.4V2938.2H1057.7V2934.4H1055.0V2922.4H1052.3V2922.4H1049.6V2926.8H1046.9V2948.5H1044.2V2948.5H1041.5V2948.5H1038.8V2948.5H1036.1V2947.6H1033.4V2947.6H1030.7V2944.3H1028.0V2944.3H1025.3V2944.3H1022.6V2929.5H1019.9V2925.4H1017.2V2898.1H1014.5V2907.5H1011.8V2947.8H1009.1V2947.8H1006.4V2947.8H1003.7V2947.8H1001.0V2930.1H998.3V2930.1H995.6V2946.6H992.9V2946.6H990.2V2946.6H987.5V2928.6H984.8V2928.6H982.1V2924.6H979.4V2913.0H976.7V2899.7H974.0V2899.9H971.3V2919.1H968.6V2930.7H965.9V2930.7H963.2V2930.7H960.5V2942.4H957.8V2943.9H955.1V2943.9H952.4V2943.9H949.7V2934.5H947.0V2925.8H944.3V2925.8H941.6V2923.0H938.9V2918.1H936.2V2919.7H933.5V2919.7H930.8V2934.3H928.1V2934.3H925.4V2934.3H922.7V2924.1H920.0V2924.1H917.3V2924.1H914.6V2924.1H911.9V2941.9H909.2V2941.9H906.5V2941.9H903.8V2936.8H901.1V2925.8H898.4V2951.6H895.7V2951.6H893.0V2951.6H890.3V2951.6H887.6V2935.3H884.9V2941.3H882.2V2941.3H879.5V2941.3H876.8V2941.3H874.1V2940.2H871.4V2940.2H868.7V2922.1H866.0V2922.1H863.3V2929.5H860.6V2929.5H857.9V2929.5H855.2V2909.3H852.5V2906.0H849.8V2909.6H847.1V2909.6H844.4V2911.9H841.7V2930.4H839.0V2930.4H836.3V2930.4H833.6V2916.3H830.9V2916.3H828.2V2916.3H825.5V2938.4H822.8V2938.4H820.1V2953.4H817.4V2953.4H814.7V2953.4H812.0V2927.8H809.3V2923.8H806.6V2917.4H803.9V2917.4H801.2V2917.4H798.5V2917.4H795.8V2920.0H793.1V2929.2H790.4V2929.2H787.7V2929.2H785.0V2908.6H782.3V2917.9H779.6V2918.6H776.9V2918.6H774.2V2918.6H771.5V2915.0H768.8V2915.0H766.1V2909.3H763.4V2899.5H760.7V2909.2H758.0V2912.1H755.3V2912.1H752.6V2912.1H749.9V2908.5H747.2V2933.0H744.5V2933.0H741.8V2933.0H739.1V2933.0H736.4V2930.6H733.7V2923.7H731.0V2923.7H728.3V2923.7H725.6V2931.4H722.9V2931.4H720.2V2931.4H717.5V2928.7H714.8V2925.0H712.1V2916.6H709.4V2925.5H706.7V2925.5H704.0V2925.5H701.3V2926.6H698.6V2926.6H695.9V2926.6H693.2V2953.2H690.5V2953.2H687.8V2953.2H685.1V2953.2H682.4V2917.9H679.7V2914.9H677.0V2925.3H674.3V2925.3H671.6V2925.3H668.9V2925.3H666.2V2916.9H663.5V2916.9H660.8V2924.6H658.1V2924.6H655.4V2924.6H652.7V2924.6H650.0V2946.3H647.3V2946.3H644.6V2946.3H641.9V2946.3H639.2V2939.2H636.5V2954.4H633.8V2954.4H631.1V2954.4H628.4V2954.4H625.7V2954.2H623.0V2954.2H620.3V2954.2H617.6V2950.2H614.9V2950.2H612.2V2950.2H609.5V2950.2H606.8V2944.2H604.1V2944.2H601.4V2944.2H598.7V2944.2H596.0V2943.3H593.3V2943.3H590.6V2943.3H587.9V2920.9H585.2V2916.0H582.5V2915.3H579.8V2915.3H577.1V2933.1H574.4V2933.1H571.7V2933.1H569.0V2934.1H566.3V2934.1H563.6V2934.1H560.9V2934.1H558.2V2921.9H555.5V2921.9H552.8V2925.7H550.1V2956.1H547.4V2956.1H544.7V2956.1H542.0V2954.8H539.3V2954.8H536.6V2932.1H533.9V2927.2H531.2V2922.2H528.5V2922.2H525.8V2922.2H523.1V2920.5H520.4V2923.6H517.7V2939.5H515.0V2939.5H512.3V2939.5H509.6V2942.4H506.9V2942.4H504.2V2942.4H501.5V2938.7H498.8V2938.7H496.1V2938.7H493.4V2938.7H490.7V2934.3H488.0V2919.6H485.3V2915.9H482.6V2915.9H479.9V2906.5H477.2V2921.1H474.5V2921.1H471.8V2921.1H469.1V2920.1H466.4V2920.1H463.7V2919.1H461.0V2927.4H458.3V2927.4H455.6V2927.4H452.9V2905.9H450.2V2939.3H447.5V2939.3H444.8V2947.3H442.1V2947.3H439.4V2947.3H436.7V2947.3H434.0V2919.4H431.3V2916.0H428.6V2916.0H425.9V2903.1H423.2V2900.9H420.5V2902.4H417.8V2917.3H415.1V2917.3H412.4V2917.3H409.7V2917.3H407.0V2916.3H404.3V2902.3H401.6V2920.6H398.9V2920.6H396.2V2920.6H393.5V2920.6H390.8V2927.3H388.1V2927.3H385.4V2927.3H382.7V2927.3H380.0V2925.2H377.3V2925.2H374.6V2956.5H371.9V2956.5H369.2V2956.5H366.5V2923.2H363.8V2923.2H361.1V2913.3H358.4V2914.0H355.7V2914.0H353.0V2921.5H350.3V2938.1H347.6V2938.1H344.9V2938.1H342.2V2940.9H339.5V2940.9H336.8V2940.9H334.1V2932.0H331.4V2956.6H328.7V2956.6H326.0V2968.4H323.3V2968.4H320.6V2968.4H317.9V2968.4H315.2V3000.4H312.5V3033.9H309.8V3033.9H307.1Z" fill="#ffbd21"/>
</g>
<rect x="305.5" y="2426.5" width="1610.5" height="643.5" fill="none" stroke="#000" stroke-width="3.6"/>
<text x="268.5" y="3079.0" font-size="75.5" text-anchor="end">0</text>
<text x="271.5" y="2913.0" font-size="75.5" text-anchor="end">0.1</text>
<text x="270.5" y="2754.0" font-size="75.5" text-anchor="end">0.2</text>
<text x="273.0" y="2595.5" font-size="75.5" text-anchor="end">0.3</text>
<text x="269.5" y="2431.5" font-size="75.5" text-anchor="end">0.4</text>
<text x="310.5" y="3140.5" font-size="75.5" text-anchor="middle">0</text>
<text x="630.6" y="3138.5" font-size="75.5" text-anchor="middle">200</text>
<text x="956.2" y="3138.5" font-size="75.5" text-anchor="middle">400</text>
<text x="1272.8" y="3138.5" font-size="75.5" text-anchor="middle">600</text>
<text x="1598.9" y="3138.5" font-size="75.5" text-anchor="middle">800</text>
<text x="1910.0" y="3138.5" font-size="75.5" text-anchor="middle">1000</text>
<text x="0" y="0" font-size="96.7" text-anchor="middle" transform="translate(131.2 2726.3) rotate(-90)">RMSD(nm)</text>
<text x="878.9" y="3234.8" font-size="95.5" text-anchor="start">Time (ns)</text>
<text x="551.5" y="2491.1" font-size="75.5" text-anchor="end">TM I</text>
<text x="551.5" y="2557.3" font-size="75.5" text-anchor="end">TM II</text>
<text x="1001.0" y="2491.1" font-size="75.5" text-anchor="end">TM III</text>
<text x="1001.0" y="2557.3" font-size="75.5" text-anchor="end">TM IV</text>
<text x="1450.0" y="2491.1" font-size="75.5" text-anchor="end">TM V</text>
<path d="M588.0 2472.6H751.0" stroke="#9400d3" stroke-width="5.5"/>
<path d="M588.0 2540.7H751.0" stroke="#009e73" stroke-width="5.5"/>
<path d="M1037.5 2472.6H1200.0" stroke="#40e0d0" stroke-width="5.5"/>
<path d="M1037.5 2540.7H1200.0" stroke="#ffa500" stroke-width="5.5"/>
<path d="M1485.7 2472.6H1647.5" stroke="#ffbd21" stroke-width="5.5"/>
<text x="968.9" y="2320.5" font-size="95.5" text-anchor="start"><tspan font-style="italic">h</tspan>TSPO</text>
<text x="995.4" y="3298.3" font-size="75.5" text-anchor="start">(c)</text>
<path d="M305.5 4311.0V4297.7M305.5 3667.5V3680.8M627.6 4311.0V4297.7M627.6 3667.5V3680.8M949.7 4311.0V4297.7M949.7 3667.5V3680.8M1271.8 4311.0V4297.7M1271.8 3667.5V3680.8M1593.9 4311.0V4297.7M1593.9 3667.5V3680.8M1916.0 4311.0V4297.7M1916.0 3667.5V3680.8M305.5 4311.0H318.8M1916.0 4311.0H1902.7M305.5 4150.1H318.8M1916.0 4150.1H1902.7M305.5 3989.2H318.8M1916.0 3989.2H1902.7M305.5 3828.4H318.8M1916.0 3828.4H1902.7M305.5 3667.5H318.8M1916.0 3667.5H1902.7" stroke="#000" stroke-width="3.6" fill="none"/>
<g clip-path="url(#cd)">
<path d="M306.0 4313.0V4240.2" stroke="#9400d3" stroke-width="5"/>
<path d="M307.1 4199.9V4199.9H309.8V4181.4H312.5V4181.4H315.2V4181.4H317.9V4194.3H320.6V4188.5H323.3V4188.5H326.0V4188.5H328.7V4184.3H331.4V4180.6H334.1V4180.6H336.8V4180.6H339.5V4180.6H342.2V4182.4H344.9V4182.4H347.6V4167.1H350.3V4167.1H353.0V4154.5H355.7V4149.9H358.4V4149.9H361.1V4149.9H363.8V4149.9H366.5V4131.7H369.2V4131.7H371.9V4131.7H374.6V4131.7H377.3V4145.2H380.0V4145.2H382.7V4145.2H385.4V4145.2H388.1V4155.7H390.8V4155.7H393.5V4151.9H396.2V4151.9H398.9V4151.9H401.6V4122.0H404.3V4060.4H407.0V4025.4H409.7V4025.4H412.4V4025.4H415.1V4025.4H417.8V4040.6H420.5V4040.6H423.2V4033.5H425.9V4033.5H428.6V4020.0H431.3V4020.0H434.0V4012.4H436.7V4012.4H439.4V4005.5H442.1V4005.5H444.8V3986.2H447.5V3986.2H450.2V3986.2H452.9V3986.2H455.6V3997.5H458.3V3984.8H461.0V3977.1H463.7V3977.1H466.4V3977.1H469.1V3953.7H471.8V3953.7H474.5V3953.7H477.2V3953.7H479.9V3964.3H482.6V3966.2H485.3V3966.2H488.0V3966.2H490.7V3975.7H493.4V3975.7H496.1V3975.7H498.8V3991.0H501.5V4015.3H504.2V4022.3H506.9V4015.2H509.6V4015.2H512.3V4015.2H515.0V4022.8H517.7V4022.8H520.4V4022.8H523.1V4041.5H525.8V4041.5H528.5V4041.5H531.2V4041.5H533.9V4060.5H536.6V4062.9H539.3V4069.6H542.0V4075.9H544.7V4086.1H547.4V4086.1H550.1V4103.2H552.8V4099.4H555.5V4091.7H558.2V4091.7H560.9V4091.7H563.6V4071.2H566.3V4071.2H569.0V4071.2H571.7V4071.2H574.4V4085.9H577.1V4081.4H579.8V4081.4H582.5V4081.4H585.2V4086.1H587.9V4095.8H590.6V4089.9H593.3V4089.9H596.0V4089.9H598.7V4089.9H601.4V4095.0H604.1V4095.0H606.8V4075.8H609.5V4075.8H612.2V4075.8H614.9V4108.7H617.6V4108.7H620.3V4082.5H623.0V4082.5H625.7V4082.5H628.4V4082.5H631.1V4118.0H633.8V4110.3H636.5V4110.3H639.2V4110.3H641.9V4112.5H644.6V4096.3H647.3V4096.3H650.0V4096.3H652.7V4105.2H655.4V4105.2H658.1V4106.6H660.8V4107.6H663.5V4107.6H666.2V4116.3H668.9V4122.6H671.6V4121.5H674.3V4121.5H677.0V4121.5H679.7V4122.4H682.4V4122.4H685.1V4114.4H687.8V4114.4H690.5V4108.2H693.2V4108.2H695.9V4108.2H698.6V4108.2H701.3V4098.1H704.0V4098.1H706.7V4098.1H709.4V4084.2H712.1V4078.1H714.8V4078.1H717.5V4078.1H720.2V4096.4H722.9V4102.2H725.6V4083.8H728.3V4083.8H731.0V4083.8H733.7V4083.8H736.4V4092.4H739.1V4098.5H741.8V4086.7H744.5V4086.7H747.2V4086.7H749.9V4122.4H752.6V4120.1H755.3V4120.1H758.0V4097.2H760.7V4097.2H763.4V4097.2H766.1V4113.6H768.8V4113.6H771.5V4113.6H774.2V4100.6H776.9V4087.2H779.6V4070.6H782.3V4070.6H785.0V4070.6H787.7V4081.0H790.4V4081.0H793.1V4081.0H795.8V4097.1H798.5V4075.8H801.2V4075.8H803.9V4075.8H806.6V4075.8H809.3V4082.6H812.0V4082.6H814.7V4097.2H817.4V4086.1H820.1V4086.1H822.8V4086.1H825.5V4091.9H828.2V4080.2H830.9V4080.2H833.6V4080.2H836.3V4080.2H839.0V4097.7H841.7V4115.3H844.4V4115.3H847.1V4118.1H849.8V4096.4H852.5V4096.4H855.2V4096.4H857.9V4102.2H860.6V4102.2H863.3V4102.2H866.0V4100.4H868.7V4094.9H871.4V4094.9H874.1V4052.7H876.8V4052.7H879.5V4052.7H882.2V4073.9H884.9V4073.9H887.6V4104.0H890.3V4104.0H893.0V4103.6H895.7V4103.6H898.4V4099.4H901.1V4099.4H903.8V4099.4H906.5V4101.5H909.2V4101.5H911.9V4109.7H914.6V4098.2H917.3V4098.2H920.0V4098.2H922.7V4106.7H925.4V4113.3H928.1V4113.3H930.8V4099.7H933.5V4099.7H936.2V4083.0H938.9V4076.9H941.6V4076.9H944.3V4076.9H947.0V4080.5H949.7V4085.4H952.4V4088.9H955.1V4080.4H957.8V4073.7H960.5V4068.2H963.2V4064.3H965.9V4063.4H968.6V4050.2H971.3V4050.2H974.0V4050.2H976.7V4050.2H979.4V4058.3H982.1V4058.3H984.8V4058.3H987.5V4074.8H990.2V4075.4H992.9V4063.8H995.6V4063.8H998.3V4063.8H1001.0V4078.3H1003.7V4078.3H1006.4V4082.4H1009.1V4078.4H1011.8V4073.3H1014.5V4055.1H1017.2V4055.1H1019.9V4055.1H1022.6V4057.9H1025.3V4034.2H1028.0V4034.2H1030.7V4034.2H1033.4V4034.2H1036.1V4042.3H1038.8V4042.3H1041.5V4042.3H1044.2V4037.5H1046.9V4037.5H1049.6V4037.5H1052.3V4037.5H1055.0V4045.0H1057.7V4033.3H1060.4V4033.3H1063.1V4033.3H1065.8V4051.6H1068.5V4051.6H1071.2V4051.6H1073.9V4061.1H1076.6V4061.1H1079.3V4054.2H1082.0V4054.2H1084.7V4050.0H1087.4V4050.0H1090.1V4050.0H1092.8V4032.8H1095.5V4032.8H1098.2V4032.8H1100.9V4037.8H1103.6V4040.9H1106.3V4055.5H1109.0V4061.0H1111.7V4047.6H1114.4V4042.6H1117.1V4042.6H1119.8V4041.5H1122.5V4041.5H1125.2V4035.8H1127.9V4035.8H1130.6V4035.8H1133.3V4038.0H1136.0V4029.8H1138.7V4029.8H1141.4V4029.8H1144.1V4033.5H1146.8V4033.5H1149.5V4033.5H1152.2V4050.5H1154.9V4036.5H1157.6V4036.5H1160.3V4036.5H1163.0V4036.5H1165.7V4040.8H1168.4V4037.9H1171.1V4037.9H1173.8V4037.9H1176.5V4037.9H1179.2V4050.5H1181.9V4030.1H1184.6V4030.1H1187.3V4030.1H1190.0V4030.1H1192.7V4039.3H1195.4V4039.3H1198.1V4039.3H1200.8V4039.3H1203.5V4052.4H1206.2V4027.8H1208.9V4027.8H1211.6V4027.8H1214.3V4029.7H1217.0V4029.7H1219.7V4029.7H1222.4V4029.7H1225.1V4033.6H1227.8V4033.6H1230.5V4028.1H1233.2V4028.1H1235.9V4028.1H1238.6V4028.1H1241.3V4036.7H1244.0V4036.7H1246.7V4053.7H1249.4V4051.9H1252.1V4051.9H1254.8V4051.9H1257.5V4051.9H1260.2V4062.0H1262.9V4046.8H1265.6V4046.8H1268.3V4046.8H1271.0V4046.8H1273.7V4047.2H1276.4V4058.8H1279.1V4059.0H1281.8V4059.0H1284.5V4058.7H1287.2V4058.7H1289.9V4058.7H1292.6V4058.7H1295.3V4060.2H1298.0V4049.3H1300.7V4049.3H1303.4V4049.3H1306.1V4049.3H1308.8V4065.7H1311.5V4069.1H1314.2V4072.9H1316.9V4074.1H1319.6V4080.5H1322.3V4080.5H1325.0V4076.6H1327.7V4075.4H1330.4V4075.4H1333.1V4075.4H1335.8V4075.4H1338.5V4086.5H1341.2V4089.6H1343.9V4074.6H1346.6V4069.7H1349.3V4069.7H1352.0V4069.7H1354.7V4074.2H1357.4V4062.1H1360.1V4062.1H1362.8V4056.5H1365.5V4051.0H1368.2V4051.0H1370.9V4051.0H1373.6V4051.0H1376.3V4062.0H1379.0V4072.2H1381.7V4072.2H1384.4V4072.2H1387.1V4072.2H1389.8V4067.6H1392.5V4067.6H1395.2V4067.6H1397.9V4072.8H1400.6V4066.6H1403.3V4066.6H1406.0V4049.9H1408.7V4049.9H1411.4V4049.9H1414.1V4049.9H1416.8V4071.0H1419.5V4074.5H1422.2V4074.5H1424.9V4077.9H1427.6V4079.0H1430.3V4066.8H1433.0V4059.4H1435.7V4059.4H1438.4V4059.4H1441.1V4074.6H1443.8V4074.6H1446.5V4085.0H1449.2V4085.0H1451.9V4085.0H1454.6V4085.0H1457.3V4093.6H1460.0V4093.6H1462.7V4093.6H1465.4V4112.0H1468.1V4112.0H1470.8V4126.6H1473.5V4126.2H1476.2V4121.2H1478.9V4121.2H1481.6V4121.2H1484.3V4121.2H1487.0V4119.6H1489.7V4119.6H1492.4V4119.6H1495.1V4126.4H1497.8V4126.4H1500.5V4126.4H1503.2V4133.1H1505.9V4133.1H1508.6V4124.2H1511.3V4110.8H1514.0V4110.8H1516.7V4110.8H1519.4V4114.1H1522.1V4123.2H1524.8V4123.2H1527.5V4123.2H1530.2V4113.1H1532.9V4113.1H1535.6V4113.1H1538.3V4113.1H1541.0V4125.4H1543.7V4127.5H1546.4V4128.3H1549.1V4128.3H1551.8V4128.3H1554.5V4128.7H1557.2V4128.7H1559.9V4113.4H1562.6V4113.4H1565.3V4113.4H1568.0V4113.4H1570.7V4114.8H1573.4V4114.8H1576.1V4126.4H1578.8V4126.4H1581.5V4137.0H1584.2V4137.0H1586.9V4113.4H1589.6V4113.4H1592.3V4102.7H1595.0V4102.7H1597.7V4102.7H1600.4V4106.6H1603.1V4106.7H1605.8V4113.6H1608.5V4120.5H1611.2V4123.2H1613.9V4123.2H1616.6V4123.2H1619.3V4111.0H1622.0V4111.0H1624.7V4111.0H1627.4V4109.9H1630.1V4109.9H1632.8V4109.9H1635.5V4109.9H1638.2V4122.7H1640.9V4122.7H1643.6V4126.8H1646.3V4126.8H1649.0V4126.8H1651.7V4126.8H1654.4V4126.9H1657.1V4126.9H1659.8V4126.9H1662.5V4121.3H1665.2V4121.3H1667.9V4121.3H1670.6V4124.7H1673.3V4124.7H1676.0V4131.6H1678.7V4131.6H1681.4V4131.6H1684.1V4138.5H1686.8V4138.5H1689.5V4135.0H1692.2V4116.1H1694.9V4116.1H1697.6V4116.1H1700.3V4134.9H1703.0V4134.9H1705.7V4123.6H1708.4V4123.6H1711.1V4123.6H1713.8V4129.5H1716.5V4115.5H1719.2V4111.5H1721.9V4111.5H1724.6V4110.8H1727.3V4110.8H1730.0V4110.8H1732.7V4110.8H1735.4V4111.3H1738.1V4111.3H1740.8V4111.3H1743.5V4118.5H1746.2V4122.4H1748.9V4119.7H1751.6V4119.7H1754.3V4117.7H1757.0V4113.6H1759.7V4113.6H1762.4V4113.6H1765.1V4120.9H1767.8V4137.1H1770.5V4137.1H1773.2V4124.7H1775.9V4124.7H1778.6V4124.7H1781.3V4124.7H1784.0V4134.5H1786.7V4134.5H1789.4V4134.5H1792.1V4134.5H1794.8V4135.4H1797.5V4120.5H1800.2V4120.5H1802.9V4115.5H1805.6V4084.1H1808.3V4084.0H1811.0V4084.0H1813.7V4054.3H1816.4V4003.1H1819.1V4003.1H1821.8V4003.1H1824.5V4016.6H1827.2V4016.6H1829.9V4016.6H1832.6V4037.0H1835.3V4027.2H1838.0V4020.3H1840.7V4020.3H1843.4V4020.3H1846.1V4020.3H1848.8V4021.6H1851.5V4021.6H1854.2V4021.6H1856.9V4029.4H1859.6V4040.6H1862.3V4040.6H1865.0V4020.9H1867.7V4020.9H1870.4V4020.9H1873.1V4020.9H1875.8V4058.1H1878.5V4060.8H1881.2V4052.0H1883.9V4052.0H1886.6V4052.0H1889.3V4089.5H1892.0V4089.5H1894.7V4089.5H1897.4V4088.3H1900.1V4088.3H1902.8V4088.3H1905.5V4088.3H1908.2V4098.9H1910.9V4087.8H1913.6V4087.8H1916.3V4132.6H1913.6V4164.4H1910.9V4164.4H1908.2V4164.4H1905.5V4164.4H1902.8V4137.3H1900.1V4137.3H1897.4V4137.3H1894.7V4121.3H1892.0V4121.3H1889.3V4121.3H1886.6V4121.3H1883.9V4101.4H1881.2V4101.4H1878.5V4096.7H1875.8V4077.3H1873.1V4072.2H1870.4V4072.2H1867.7V4057.9H1865.0V4078.8H1862.3V4104.7H1859.6V4104.7H1856.9V4104.7H1854.2V4104.7H1851.5V4076.1H1848.8V4076.1H1846.1V4070.0H1843.4V4062.0H1840.7V4062.0H1838.0V4068.5H1835.3V4068.5H1832.6V4084.3H1829.9V4086.7H1827.2V4086.7H1824.5V4086.7H1821.8V4092.7H1819.1V4106.0H1816.4V4106.0H1813.7V4119.3H1811.0V4144.3H1808.3V4152.5H1805.6V4152.5H1802.9V4172.1H1800.2V4172.1H1797.5V4172.1H1794.8V4172.1H1792.1V4160.1H1789.4V4150.8H1786.7V4167.8H1784.0V4167.8H1781.3V4168.0H1778.6V4168.0H1775.9V4168.0H1773.2V4168.0H1770.5V4162.5H1767.8V4162.5H1765.1V4162.5H1762.4V4157.8H1759.7V4157.8H1757.0V4157.8H1754.3V4152.2H1751.6V4157.7H1748.9V4157.7H1746.2V4157.7H1743.5V4156.3H1740.8V4156.3H1738.1V4147.9H1735.4V4142.4H1732.7V4144.6H1730.0V4148.1H1727.3V4150.6H1724.6V4150.6H1721.9V4150.6H1719.2V4157.5H1716.5V4157.5H1713.8V4163.1H1711.1V4172.5H1708.4V4172.5H1705.7V4172.5H1703.0V4172.5H1700.3V4151.5H1697.6V4148.9H1694.9V4154.7H1692.2V4154.7H1689.5V4154.7H1686.8V4154.7H1684.1V4152.0H1681.4V4157.6H1678.7V4169.1H1676.0V4169.1H1673.3V4169.1H1670.6V4164.4H1667.9V4164.4H1665.2V4164.4H1662.5V4159.5H1659.8V4159.5H1657.1V4159.5H1654.4V4145.1H1651.7V4150.7H1649.0V4158.6H1646.3V4158.6H1643.6V4158.6H1640.9V4152.9H1638.2V4146.1H1635.5V4140.7H1632.8V4140.7H1630.1V4140.6H1627.4V4144.2H1624.7V4152.5H1622.0V4152.5H1619.3V4152.5H1616.6V4152.5H1613.9V4150.5H1611.2V4151.9H1608.5V4151.9H1605.8V4151.9H1603.1V4151.9H1600.4V4129.5H1597.7V4138.8H1595.0V4160.3H1592.3V4161.7H1589.6V4164.1H1586.9V4164.1H1584.2V4164.1H1581.5V4163.1H1578.8V4163.1H1576.1V4150.9H1573.4V4150.9H1570.7V4140.6H1568.0V4153.1H1565.3V4155.4H1562.6V4155.4H1559.9V4155.4H1557.2V4159.9H1554.5V4159.9H1551.8V4159.9H1549.1V4159.9H1546.4V4155.4H1543.7V4155.4H1541.0V4155.4H1538.3V4153.2H1535.6V4152.5H1532.9V4152.5H1530.2V4152.5H1527.5V4144.3H1524.8V4144.3H1522.1V4144.3H1519.4V4137.8H1516.7V4141.2H1514.0V4141.2H1511.3V4159.0H1508.6V4159.0H1505.9V4159.0H1503.2V4159.0H1500.5V4155.2H1497.8V4155.2H1495.1V4152.5H1492.4V4152.5H1489.7V4152.5H1487.0V4135.6H1484.3V4135.6H1481.6V4149.3H1478.9V4150.0H1476.2V4151.8H1473.5V4151.8H1470.8V4151.8H1468.1V4136.0H1465.4V4136.4H1462.7V4136.4H1460.0V4136.4H1457.3V4136.4H1454.6V4118.3H1451.9V4118.3H1449.2V4109.4H1446.5V4109.4H1443.8V4109.4H1441.1V4107.2H1438.4V4091.4H1435.7V4094.8H1433.0V4095.6H1430.3V4095.6H1427.6V4097.4H1424.9V4105.0H1422.2V4105.0H1419.5V4105.0H1416.8V4112.6H1414.1V4112.6H1411.4V4112.6H1408.7V4092.4H1406.0V4092.4H1403.3V4096.2H1400.6V4096.2H1397.9V4107.1H1395.2V4107.1H1392.5V4107.1H1389.8V4107.1H1387.1V4101.9H1384.4V4107.5H1381.7V4107.5H1379.0V4107.5H1376.3V4107.5H1373.6V4086.4H1370.9V4097.2H1368.2V4112.4H1365.5V4112.4H1362.8V4112.4H1360.1V4112.4H1357.4V4116.4H1354.7V4116.4H1352.0V4116.4H1349.3V4111.5H1346.6V4116.7H1343.9V4116.7H1341.2V4121.9H1338.5V4121.9H1335.8V4121.9H1333.1V4121.9H1330.4V4121.4H1327.7V4121.4H1325.0V4121.4H1322.3V4119.1H1319.6V4119.1H1316.9V4119.1H1314.2V4099.4H1311.5V4089.9H1308.8V4089.9H1306.1V4098.3H1303.4V4098.3H1300.7V4098.3H1298.0V4094.8H1295.3V4076.8H1292.6V4083.9H1289.9V4083.9H1287.2V4106.8H1284.5V4106.8H1281.8V4106.8H1279.1V4098.7H1276.4V4098.7H1273.7V4098.7H1271.0V4085.6H1268.3V4090.8H1265.6V4090.8H1262.9V4090.8H1260.2V4086.0H1257.5V4086.0H1254.8V4085.0H1252.1V4085.2H1249.4V4085.2H1246.7V4085.2H1244.0V4079.3H1241.3V4079.3H1238.6V4079.3H1235.9V4071.7H1233.2V4081.2H1230.5V4081.2H1227.8V4081.2H1225.1V4071.0H1222.4V4072.2H1219.7V4083.6H1217.0V4087.0H1214.3V4087.0H1211.6V4087.0H1208.9V4087.0H1206.2V4083.4H1203.5V4083.4H1200.8V4069.7H1198.1V4070.3H1195.4V4071.2H1192.7V4071.2H1190.0V4072.4H1187.3V4082.9H1184.6V4082.9H1181.9V4082.9H1179.2V4082.9H1176.5V4062.6H1173.8V4065.5H1171.1V4065.5H1168.4V4069.3H1165.7V4069.3H1163.0V4074.5H1160.3V4091.2H1157.6V4091.2H1154.9V4091.2H1152.2V4091.2H1149.5V4081.4H1146.8V4086.0H1144.1V4086.0H1141.4V4086.0H1138.7V4086.0H1136.0V4080.1H1133.3V4074.7H1130.6V4071.5H1127.9V4063.7H1125.2V4067.1H1122.5V4067.1H1119.8V4070.4H1117.1V4081.7H1114.4V4081.7H1111.7V4092.8H1109.0V4092.8H1106.3V4092.8H1103.6V4092.8H1100.9V4080.1H1098.2V4080.1H1095.5V4097.3H1092.8V4097.3H1090.1V4097.3H1087.4V4085.1H1084.7V4085.1H1082.0V4079.7H1079.3V4079.7H1076.6V4081.8H1073.9V4084.5H1071.2V4085.0H1068.5V4085.9H1065.8V4101.6H1063.1V4101.6H1060.4V4101.6H1057.7V4101.6H1055.0V4085.3H1052.3V4085.3H1049.6V4078.3H1046.9V4100.0H1044.2V4100.0H1041.5V4100.0H1038.8V4100.0H1036.1V4089.6H1033.4V4089.6H1030.7V4092.1H1028.0V4097.3H1025.3V4097.3H1022.6V4097.3H1019.9V4110.3H1017.2V4110.3H1014.5V4110.3H1011.8V4110.9H1009.1V4110.9H1006.4V4110.9H1003.7V4119.7H1001.0V4123.4H998.3V4123.4H995.6V4123.4H992.9V4123.4H990.2V4107.4H987.5V4107.4H984.8V4099.7H982.1V4100.2H979.4V4100.2H976.7V4100.2H974.0V4100.2H971.3V4098.5H968.6V4098.5H965.9V4088.9H963.2V4103.0H960.5V4103.0H957.8V4103.6H955.1V4103.6H952.4V4103.6H949.7V4116.0H947.0V4116.0H944.3V4126.2H941.6V4126.2H938.9V4126.2H936.2V4146.8H933.5V4147.4H930.8V4151.9H928.1V4165.2H925.4V4165.2H922.7V4165.2H920.0V4147.1H917.3V4147.1H914.6V4147.1H911.9V4142.0H909.2V4142.0H906.5V4141.6H903.8V4141.6H901.1V4141.6H898.4V4128.3H895.7V4120.3H893.0V4120.3H890.3V4122.0H887.6V4157.8H884.9V4157.8H882.2V4157.8H879.5V4133.5H876.8V4121.3H874.1V4128.8H871.4V4143.5H868.7V4143.5H866.0V4143.5H863.3V4150.4H860.6V4150.4H857.9V4150.4H855.2V4150.4H852.5V4146.1H849.8V4163.8H847.1V4163.8H844.4V4163.8H841.7V4154.7H839.0V4154.7H836.3V4141.7H833.6V4141.7H830.9V4119.1H828.2V4119.1H825.5V4116.7H822.8V4124.8H820.1V4124.8H817.4V4127.4H814.7V4131.1H812.0V4131.1H809.3V4131.1H806.6V4131.1H803.9V4153.7H801.2V4153.7H798.5V4153.7H795.8V4148.9H793.1V4140.3H790.4V4140.3H787.7V4140.3H785.0V4140.3H782.3V4150.5H779.6V4150.5H776.9V4150.5H774.2V4150.5H771.5V4167.4H768.8V4167.4H766.1V4167.4H763.4V4160.1H760.7V4141.2H758.0V4141.2H755.3V4141.2H752.6V4141.2H749.9V4140.0H747.2V4138.0H744.5V4138.0H741.8V4136.5H739.1V4136.5H736.4V4136.5H733.7V4136.5H731.0V4121.1H728.3V4134.5H725.6V4134.5H722.9V4134.5H720.2V4134.5H717.5V4130.5H714.8V4130.5H712.1V4131.7H709.4V4131.7H706.7V4132.5H704.0V4147.7H701.3V4147.7H698.6V4147.7H695.9V4139.4H693.2V4151.7H690.5V4170.7H687.8V4170.7H685.1V4170.7H682.4V4154.5H679.7V4147.7H677.0V4160.5H674.3V4160.5H671.6V4160.5H668.9V4160.5H666.2V4154.3H663.5V4147.7H660.8V4132.1H658.1V4132.1H655.4V4138.7H652.7V4138.7H650.0V4150.1H647.3V4150.1H644.6V4150.1H641.9V4152.0H639.2V4152.0H636.5V4152.0H633.8V4152.0H631.1V4129.0H628.4V4129.6H625.7V4129.6H623.0V4134.3H620.3V4134.3H617.6V4134.3H614.9V4134.3H612.2V4117.7H609.5V4117.7H606.8V4115.3H604.1V4123.9H601.4V4123.9H598.7V4123.9H596.0V4123.9H593.3V4116.1H590.6V4116.1H587.9V4114.7H585.2V4114.1H582.5V4107.8H579.8V4113.7H577.1V4117.4H574.4V4123.7H571.7V4123.7H569.0V4127.7H566.3V4127.7H563.6V4127.7H560.9V4127.7H558.2V4113.2H555.5V4113.9H552.8V4116.3H550.1V4116.3H547.4V4116.3H544.7V4116.3H542.0V4113.7H539.3V4093.3H536.6V4089.9H533.9V4089.9H531.2V4080.7H528.5V4081.0H525.8V4095.5H523.1V4095.5H520.4V4095.5H517.7V4067.3H515.0V4065.7H512.3V4050.2H509.6V4050.2H506.9V4050.2H504.2V4046.5H501.5V4046.5H498.8V4034.6H496.1V4023.6H493.4V4023.6H490.7V4023.6H488.0V4023.6H485.3V4005.1H482.6V4005.1H479.9V4005.1H477.2V3999.0H474.5V4036.2H471.8V4036.2H469.1V4036.2H466.4V4034.7H463.7V4046.5H461.0V4046.5H458.3V4046.5H455.6V4039.1H452.9V4039.1H450.2V4039.1H447.5V4074.1H444.8V4074.1H442.1V4074.1H439.4V4074.1H436.7V4048.8H434.0V4072.0H431.3V4072.0H428.6V4084.9H425.9V4084.9H423.2V4084.9H420.5V4074.1H417.8V4074.1H415.1V4074.1H412.4V4125.8H409.7V4156.3H407.0V4200.2H404.3V4208.0H401.6V4208.0H398.9V4208.0H396.2V4192.1H393.5V4214.9H390.8V4214.9H388.1V4214.9H385.4V4214.9H382.7V4186.0H380.0V4170.9H377.3V4182.0H374.6V4182.0H371.9V4199.5H369.2V4202.9H366.5V4202.9H363.8V4202.9H361.1V4199.1H358.4V4189.3H355.7V4193.1H353.0V4193.6H350.3V4193.6H347.6V4202.1H344.9V4213.7H342.2V4224.3H339.5V4224.3H336.8V4230.3H334.1V4230.3H331.4V4234.7H328.7V4234.7H326.0V4234.7H323.3V4234.7H320.6V4221.2H317.9V4221.2H315.2V4221.2H312.5V4224.6H309.8V4224.6H307.1Z" fill="#9400d3"/>
<path d="M306.0 4313.0V4233.8" stroke="#009e73" stroke-width="5"/>
<path d="M307.1 4203.1V4203.1H309.8V4195.5H312.5V4185.7H315.2V4185.7H317.9V4185.7H320.6V4185.7H323.3V4178.4H326.0V4178.4H328.7V4178.4H331.4V4192.3H334.1V4192.3H336.8V4188.3H339.5V4188.3H342.2V4169.5H344.9V4169.5H347.6V4146.0H350.3V4146.0H353.0V4146.0H355.7V4146.0H358.4V4182.6H361.1V4186.6H363.8V4188.8H366.5V4179.7H369.2V4179.7H371.9V4167.6H374.6V4167.6H377.3V4167.6H380.0V4167.6H382.7V4170.4H385.4V4170.4H388.1V4154.6H390.8V4154.6H393.5V4151.8H396.2V4151.8H398.9V4151.8H401.6V4151.8H404.3V4158.1H407.0V4158.1H409.7V4173.8H412.4V4157.8H415.1V4157.8H417.8V4156.4H420.5V4156.4H423.2V4156.4H425.9V4156.4H428.6V4146.5H431.3V4130.1H434.0V4130.1H436.7V4130.1H439.4V4130.1H442.1V4149.2H444.8V4132.3H447.5V4126.3H450.2V4126.3H452.9V4126.3H455.6V4143.6H458.3V4150.6H461.0V4159.3H463.7V4140.5H466.4V4140.5H469.1V4140.5H471.8V4140.5H474.5V4175.6H477.2V4175.6H479.9V4175.6H482.6V4168.8H485.3V4168.8H488.0V4149.2H490.7V4149.2H493.4V4149.2H496.1V4135.5H498.8V4135.5H501.5V4135.5H504.2V4135.5H506.9V4155.1H509.6V4158.5H512.3V4158.5H515.0V4123.6H517.7V4123.6H520.4V4123.6H523.1V4123.6H525.8V4162.9H528.5V4162.9H531.2V4162.9H533.9V4162.9H536.6V4162.2H539.3V4162.2H542.0V4162.2H544.7V4162.2H547.4V4169.6H550.1V4166.7H552.8V4166.7H555.5V4166.7H558.2V4142.7H560.9V4135.8H563.6V4135.8H566.3V4124.9H569.0V4124.9H571.7V4124.9H574.4V4148.9H577.1V4157.4H579.8V4159.3H582.5V4155.3H585.2V4155.3H587.9V4155.3H590.6V4170.3H593.3V4170.3H596.0V4148.0H598.7V4148.0H601.4V4148.0H604.1V4148.0H606.8V4164.9H609.5V4164.9H612.2V4164.9H614.9V4150.9H617.6V4150.9H620.3V4150.9H623.0V4172.7H625.7V4190.2H628.4V4171.8H631.1V4171.8H633.8V4162.7H636.5V4162.7H639.2V4162.7H641.9V4162.7H644.6V4175.4H647.3V4189.7H650.0V4173.8H652.7V4173.8H655.4V4173.8H658.1V4186.1H660.8V4186.1H663.5V4201.8H666.2V4204.0H668.9V4196.0H671.6V4195.4H674.3V4195.4H677.0V4195.4H679.7V4195.4H682.4V4180.4H685.1V4180.4H687.8V4180.4H690.5V4163.2H693.2V4163.2H695.9V4163.2H698.6V4163.2H701.3V4200.9H704.0V4200.9H706.7V4189.9H709.4V4184.4H712.1V4177.0H714.8V4177.0H717.5V4177.0H720.2V4182.2H722.9V4188.6H725.6V4188.6H728.3V4201.4H731.0V4201.4H733.7V4210.0H736.4V4214.3H739.1V4214.3H741.8V4215.6H744.5V4215.6H747.2V4187.6H749.9V4187.6H752.6V4187.6H755.3V4187.6H758.0V4199.8H760.7V4200.9H763.4V4200.9H766.1V4205.5H768.8V4205.5H771.5V4197.1H774.2V4197.1H776.9V4197.1H779.6V4188.5H782.3V4188.5H785.0V4188.5H787.7V4178.8H790.4V4178.8H793.1V4178.8H795.8V4178.8H798.5V4183.1H801.2V4183.1H803.9V4182.7H806.6V4176.7H809.3V4176.7H812.0V4176.7H814.7V4190.1H817.4V4190.1H820.1V4186.1H822.8V4186.1H825.5V4186.1H828.2V4186.1H830.9V4190.4H833.6V4185.2H836.3V4171.6H839.0V4171.6H841.7V4171.6H844.4V4175.2H847.1V4172.3H849.8V4172.3H852.5V4172.3H855.2V4162.5H857.9V4162.5H860.6V4162.5H863.3V4166.7H866.0V4168.2H868.7V4177.8H871.4V4177.8H874.1V4177.8H876.8V4183.5H879.5V4178.9H882.2V4173.9H884.9V4172.4H887.6V4157.7H890.3V4157.7H893.0V4157.7H895.7V4157.7H898.4V4168.0H901.1V4170.2H903.8V4173.9H906.5V4188.2H909.2V4188.2H911.9V4191.6H914.6V4178.6H917.3V4178.6H920.0V4178.6H922.7V4179.9H925.4V4179.9H928.1V4174.8H930.8V4174.8H933.5V4165.2H936.2V4165.2H938.9V4165.2H941.6V4165.2H944.3V4174.4H947.0V4177.6H949.7V4177.6H952.4V4194.9H955.1V4186.9H957.8V4183.5H960.5V4183.5H963.2V4179.4H965.9V4174.4H968.6V4174.4H971.3V4174.4H974.0V4174.4H976.7V4195.5H979.4V4195.5H982.1V4191.7H984.8V4182.4H987.5V4164.1H990.2V4164.1H992.9V4164.1H995.6V4164.1H998.3V4179.7H1001.0V4170.4H1003.7V4170.4H1006.4V4170.4H1009.1V4170.4H1011.8V4168.5H1014.5V4168.5H1017.2V4158.5H1019.9V4158.5H1022.6V4153.4H1025.3V4153.4H1028.0V4153.4H1030.7V4153.4H1033.4V4156.2H1036.1V4156.2H1038.8V4156.2H1041.5V4142.7H1044.2V4142.7H1046.9V4137.4H1049.6V4137.4H1052.3V4137.4H1055.0V4136.7H1057.7V4136.7H1060.4V4136.7H1063.1V4136.7H1065.8V4161.6H1068.5V4164.4H1071.2V4168.3H1073.9V4149.2H1076.6V4149.2H1079.3V4149.2H1082.0V4150.7H1084.7V4150.7H1087.4V4150.7H1090.1V4146.2H1092.8V4139.9H1095.5V4139.9H1098.2V4139.9H1100.9V4144.3H1103.6V4144.3H1106.3V4157.1H1109.0V4149.9H1111.7V4149.9H1114.4V4149.9H1117.1V4149.9H1119.8V4170.3H1122.5V4170.3H1125.2V4170.3H1127.9V4168.9H1130.6V4166.4H1133.3V4159.2H1136.0V4154.8H1138.7V4154.8H1141.4V4137.1H1144.1V4137.1H1146.8V4135.3H1149.5V4135.3H1152.2V4135.3H1154.9V4142.5H1157.6V4142.5H1160.3V4134.4H1163.0V4134.4H1165.7V4134.4H1168.4V4134.4H1171.1V4136.3H1173.8V4136.3H1176.5V4140.1H1179.2V4140.1H1181.9V4140.1H1184.6V4143.1H1187.3V4140.6H1190.0V4138.5H1192.7V4138.5H1195.4V4135.2H1198.1V4135.2H1200.8V4135.2H1203.5V4144.5H1206.2V4154.6H1208.9V4152.5H1211.6V4137.6H1214.3V4137.6H1217.0V4137.6H1219.7V4155.3H1222.4V4155.3H1225.1V4155.3H1227.8V4155.3H1230.5V4171.5H1233.2V4160.6H1235.9V4160.6H1238.6V4160.6H1241.3V4160.6H1244.0V4152.0H1246.7V4136.4H1249.4V4136.4H1252.1V4136.4H1254.8V4136.5H1257.5V4136.5H1260.2V4136.5H1262.9V4142.1H1265.6V4142.1H1268.3V4159.0H1271.0V4162.9H1273.7V4167.6H1276.4V4167.6H1279.1V4167.6H1281.8V4155.5H1284.5V4145.0H1287.2V4145.0H1289.9V4145.0H1292.6V4148.5H1295.3V4148.5H1298.0V4169.5H1300.7V4159.1H1303.4V4150.0H1306.1V4150.0H1308.8V4150.0H1311.5V4150.0H1314.2V4162.5H1316.9V4162.5H1319.6V4153.5H1322.3V4153.5H1325.0V4153.5H1327.7V4148.1H1330.4V4148.1H1333.1V4148.1H1335.8V4148.1H1338.5V4157.9H1341.2V4156.0H1343.9V4154.1H1346.6V4154.1H1349.3V4154.1H1352.0V4163.0H1354.7V4152.1H1357.4V4152.1H1360.1V4152.1H1362.8V4171.4H1365.5V4171.4H1368.2V4176.7H1370.9V4172.6H1373.6V4172.6H1376.3V4172.6H1379.0V4172.6H1381.7V4171.1H1384.4V4171.1H1387.1V4171.1H1389.8V4166.5H1392.5V4166.5H1395.2V4166.5H1397.9V4161.5H1400.6V4161.5H1403.3V4161.5H1406.0V4166.5H1408.7V4166.5H1411.4V4166.5H1414.1V4166.5H1416.8V4199.9H1419.5V4199.9H1422.2V4196.7H1424.9V4193.0H1427.6V4193.0H1430.3V4193.0H1433.0V4200.2H1435.7V4164.3H1438.4V4164.3H1441.1V4151.8H1443.8V4151.8H1446.5V4151.8H1449.2V4167.3H1451.9V4167.3H1454.6V4171.4H1457.3V4171.4H1460.0V4171.4H1462.7V4158.0H1465.4V4158.0H1468.1V4158.0H1470.8V4181.8H1473.5V4160.9H1476.2V4160.9H1478.9V4160.9H1481.6V4160.9H1484.3V4161.6H1487.0V4161.6H1489.7V4161.6H1492.4V4161.6H1495.1V4182.0H1497.8V4168.9H1500.5V4162.9H1503.2V4162.9H1505.9V4162.9H1508.6V4184.4H1511.3V4163.2H1514.0V4163.2H1516.7V4163.2H1519.4V4163.2H1522.1V4167.3H1524.8V4167.3H1527.5V4167.3H1530.2V4166.4H1532.9V4166.4H1535.6V4166.4H1538.3V4166.4H1541.0V4164.0H1543.7V4164.0H1546.4V4164.0H1549.1V4177.4H1551.8V4182.5H1554.5V4182.5H1557.2V4182.5H1559.9V4181.0H1562.6V4173.3H1565.3V4173.3H1568.0V4173.3H1570.7V4179.4H1573.4V4179.4H1576.1V4170.4H1578.8V4160.7H1581.5V4160.7H1584.2V4160.7H1586.9V4160.7H1589.6V4164.2H1592.3V4177.7H1595.0V4177.7H1597.7V4177.9H1600.4V4177.9H1603.1V4173.6H1605.8V4164.8H1608.5V4164.8H1611.2V4164.8H1613.9V4164.8H1616.6V4170.1H1619.3V4189.2H1622.0V4170.4H1624.7V4170.4H1627.4V4170.4H1630.1V4172.1H1632.8V4172.1H1635.5V4172.1H1638.2V4179.7H1640.9V4179.7H1643.6V4184.9H1646.3V4184.9H1649.0V4184.9H1651.7V4193.9H1654.4V4197.8H1657.1V4197.8H1659.8V4188.2H1662.5V4188.2H1665.2V4188.2H1667.9V4187.5H1670.6V4187.5H1673.3V4164.6H1676.0V4164.6H1678.7V4164.6H1681.4V4164.6H1684.1V4170.4H1686.8V4170.4H1689.5V4173.6H1692.2V4173.6H1694.9V4176.6H1697.6V4176.6H1700.3V4188.9H1703.0V4183.7H1705.7V4183.7H1708.4V4183.7H1711.1V4175.0H1713.8V4175.0H1716.5V4175.0H1719.2V4175.0H1721.9V4179.7H1724.6V4179.7H1727.3V4179.7H1730.0V4186.5H1732.7V4186.5H1735.4V4184.3H1738.1V4184.3H1740.8V4184.3H1743.5V4184.9H1746.2V4179.7H1748.9V4179.7H1751.6V4179.7H1754.3V4181.0H1757.0V4187.4H1759.7V4187.4H1762.4V4190.1H1765.1V4190.1H1767.8V4190.1H1770.5V4195.6H1773.2V4195.6H1775.9V4195.0H1778.6V4182.7H1781.3V4182.7H1784.0V4174.4H1786.7V4174.4H1789.4V4174.4H1792.1V4187.6H1794.8V4187.6H1797.5V4187.6H1800.2V4200.9H1802.9V4200.9H1805.6V4200.3H1808.3V4200.3H1811.0V4200.3H1813.7V4202.0H1816.4V4214.9H1819.1V4214.9H1821.8V4201.4H1824.5V4201.4H1827.2V4201.4H1829.9V4205.5H1832.6V4206.9H1835.3V4206.5H1838.0V4206.5H1840.7V4206.5H1843.4V4206.5H1846.1V4221.2H1848.8V4213.1H1851.5V4213.0H1854.2V4212.7H1856.9V4192.7H1859.6V4192.7H1862.3V4187.1H1865.0V4187.1H1867.7V4187.1H1870.4V4202.1H1873.1V4187.1H1875.8V4187.1H1878.5V4187.1H1881.2V4196.2H1883.9V4189.2H1886.6V4189.2H1889.3V4189.2H1892.0V4191.6H1894.7V4191.6H1897.4V4191.6H1900.1V4204.0H1902.8V4197.7H1905.5V4197.0H1908.2V4197.0H1910.9V4197.0H1913.6V4201.8H1916.3V4227.8H1913.6V4227.8H1910.9V4227.8H1908.2V4227.8H1905.5V4230.4H1902.8V4230.4H1900.1V4230.4H1897.4V4220.7H1894.7V4214.5H1892.0V4214.5H1889.3V4209.0H1886.6V4207.6H1883.9V4214.0H1881.2V4214.0H1878.5V4219.1H1875.8V4219.1H1873.1V4219.1H1870.4V4215.9H1867.7V4215.5H1865.0V4216.5H1862.3V4219.7H1859.6V4219.7H1856.9V4227.1H1854.2V4228.4H1851.5V4232.8H1848.8V4232.8H1846.1V4232.8H1843.4V4232.8H1840.7V4229.2H1838.0V4229.2H1835.3V4229.2H1832.6V4229.2H1829.9V4219.6H1827.2V4241.6H1824.5V4241.6H1821.8V4242.6H1819.1V4242.6H1816.4V4242.6H1813.7V4242.6H1811.0V4225.2H1808.3V4224.6H1805.6V4233.2H1802.9V4233.2H1800.2V4233.2H1797.5V4223.0H1794.8V4223.0H1792.1V4223.0H1789.4V4211.2H1786.7V4211.4H1784.0V4211.4H1781.3V4211.4H1778.6V4226.7H1775.9V4226.7H1773.2V4226.7H1770.5V4226.7H1767.8V4218.7H1765.1V4226.0H1762.4V4226.0H1759.7V4226.0H1757.0V4212.4H1754.3V4212.4H1751.6V4199.4H1748.9V4201.2H1746.2V4201.2H1743.5V4212.3H1740.8V4212.3H1738.1V4212.3H1735.4V4212.3H1732.7V4211.4H1730.0V4211.4H1727.3V4206.3H1724.6V4204.7H1721.9V4195.3H1719.2V4200.0H1716.5V4225.4H1713.8V4225.4H1711.1V4225.4H1708.4V4225.4H1705.7V4208.8H1703.0V4210.5H1700.3V4210.5H1697.6V4210.5H1694.9V4208.2H1692.2V4203.4H1689.5V4197.2H1686.8V4198.9H1684.1V4198.9H1681.4V4200.8H1678.7V4201.3H1676.0V4224.0H1673.3V4224.0H1670.6V4224.0H1667.9V4224.0H1665.2V4222.7H1662.5V4222.7H1659.8V4222.7H1657.1V4219.8H1654.4V4220.1H1651.7V4220.1H1649.0V4231.7H1646.3V4231.7H1643.6V4231.7H1640.9V4231.7H1638.2V4210.1H1635.5V4210.1H1632.8V4199.9H1630.1V4199.9H1627.4V4219.1H1624.7V4219.1H1622.0V4219.1H1619.3V4212.3H1616.6V4212.3H1613.9V4212.3H1611.2V4209.6H1608.5V4209.6H1605.8V4209.6H1603.1V4209.6H1600.4V4215.7H1597.7V4215.7H1595.0V4215.7H1592.3V4215.7H1589.6V4204.5H1586.9V4204.5H1584.2V4221.2H1581.5V4221.2H1578.8V4221.2H1576.1V4219.9H1573.4V4219.9H1570.7V4217.8H1568.0V4217.8H1565.3V4209.8H1562.6V4209.8H1559.9V4217.7H1557.2V4233.2H1554.5V4233.2H1551.8V4233.2H1549.1V4207.8H1546.4V4207.8H1543.7V4207.8H1541.0V4207.8H1538.3V4207.1H1535.6V4207.1H1532.9V4207.1H1530.2V4207.1H1527.5V4185.9H1524.8V4185.4H1522.1V4220.0H1519.4V4220.0H1516.7V4220.0H1514.0V4204.1H1511.3V4206.7H1508.6V4206.7H1505.9V4207.2H1503.2V4207.2H1500.5V4207.2H1497.8V4207.2H1495.1V4199.4H1492.4V4207.1H1489.7V4207.1H1487.0V4207.1H1484.3V4196.7H1481.6V4196.7H1478.9V4195.5H1476.2V4192.9H1473.5V4226.3H1470.8V4226.3H1468.1V4226.3H1465.4V4226.3H1462.7V4218.7H1460.0V4220.1H1457.3V4220.1H1454.6V4220.1H1451.9V4220.1H1449.2V4209.1H1446.5V4209.2H1443.8V4218.5H1441.1V4218.5H1438.4V4218.5H1435.7V4235.8H1433.0V4235.8H1430.3V4235.8H1427.6V4224.7H1424.9V4224.7H1422.2V4224.7H1419.5V4224.4H1416.8V4216.4H1414.1V4216.4H1411.4V4209.4H1408.7V4209.4H1406.0V4209.4H1403.3V4210.8H1400.6V4210.8H1397.9V4210.8H1395.2V4214.5H1392.5V4214.5H1389.8V4214.5H1387.1V4226.3H1384.4V4226.3H1381.7V4226.3H1379.0V4216.6H1376.3V4216.6H1373.6V4192.6H1370.9V4192.6H1368.2V4192.6H1365.5V4213.8H1362.8V4213.8H1360.1V4213.8H1357.4V4213.8H1354.7V4209.1H1352.0V4209.1H1349.3V4209.1H1346.6V4209.1H1343.9V4189.5H1341.2V4190.8H1338.5V4190.8H1335.8V4190.8H1333.1V4190.8H1330.4V4200.5H1327.7V4200.5H1325.0V4200.5H1322.3V4194.8H1319.6V4194.8H1316.9V4194.8H1314.2V4194.8H1311.5V4186.0H1308.8V4190.6H1306.1V4192.9H1303.4V4199.5H1300.7V4199.5H1298.0V4199.5H1295.3V4199.5H1292.6V4174.7H1289.9V4185.7H1287.2V4185.7H1284.5V4199.2H1281.8V4199.2H1279.1V4199.2H1276.4V4199.2H1273.7V4179.5H1271.0V4177.1H1268.3V4177.1H1265.6V4169.6H1262.9V4169.6H1260.2V4166.8H1257.5V4166.2H1254.8V4194.2H1252.1V4194.2H1249.4V4194.2H1246.7V4194.2H1244.0V4187.3H1241.3V4190.4H1238.6V4192.5H1235.9V4192.5H1233.2V4194.6H1230.5V4199.2H1227.8V4199.2H1225.1V4199.2H1222.4V4188.0H1219.7V4188.0H1217.0V4184.9H1214.3V4184.9H1211.6V4184.5H1208.9V4184.5H1206.2V4178.0H1203.5V4178.0H1200.8V4178.0H1198.1V4174.2H1195.4V4166.4H1192.7V4175.8H1190.0V4175.8H1187.3V4175.8H1184.6V4175.8H1181.9V4171.4H1179.2V4165.1H1176.5V4198.2H1173.8V4198.2H1171.1V4198.2H1168.4V4198.2H1165.7V4164.9H1163.0V4164.9H1160.3V4170.2H1157.6V4170.2H1154.9V4170.2H1152.2V4183.7H1149.5V4183.7H1146.8V4183.7H1144.1V4175.4H1141.4V4175.4H1138.7V4195.1H1136.0V4195.5H1133.3V4195.5H1130.6V4215.5H1127.9V4215.5H1125.2V4215.5H1122.5V4213.8H1119.8V4213.8H1117.1V4213.8H1114.4V4195.5H1111.7V4195.5H1109.0V4195.5H1106.3V4194.2H1103.6V4194.2H1100.9V4194.2H1098.2V4177.4H1095.5V4175.8H1092.8V4194.1H1090.1V4194.1H1087.4V4194.1H1084.7V4184.2H1082.0V4184.2H1079.3V4187.3H1076.6V4187.3H1073.9V4187.9H1071.2V4187.9H1068.5V4187.9H1065.8V4183.1H1063.1V4178.4H1060.4V4179.0H1057.7V4179.0H1055.0V4179.0H1052.3V4179.0H1049.6V4171.3H1046.9V4179.7H1044.2V4179.7H1041.5V4191.3H1038.8V4191.3H1036.1V4191.3H1033.4V4191.3H1030.7V4189.2H1028.0V4189.2H1025.3V4195.0H1022.6V4195.0H1019.9V4198.9H1017.2V4199.3H1014.5V4199.3H1011.8V4199.3H1009.1V4190.9H1006.4V4202.0H1003.7V4206.7H1001.0V4206.7H998.3V4206.7H995.6V4208.3H992.9V4213.0H990.2V4213.1H987.5V4213.9H984.8V4213.9H982.1V4213.9H979.4V4209.9H976.7V4202.8H974.0V4202.8H971.3V4202.8H968.6V4195.6H965.9V4221.7H963.2V4221.7H960.5V4221.7H957.8V4233.2H955.1V4233.2H952.4V4233.2H949.7V4220.0H947.0V4220.0H944.3V4189.5H941.6V4191.4H938.9V4195.6H936.2V4195.6H933.5V4195.6H930.8V4198.1H928.1V4215.6H925.4V4215.6H922.7V4215.6H920.0V4217.3H917.3V4217.3H914.6V4225.9H911.9V4225.9H909.2V4225.9H906.5V4215.6H903.8V4215.6H901.1V4215.6H898.4V4215.6H895.7V4190.5H893.0V4197.2H890.3V4197.2H887.6V4197.2H884.9V4195.9H882.2V4195.9H879.5V4201.9H876.8V4202.3H874.1V4202.3H871.4V4202.3H868.7V4201.3H866.0V4201.3H863.3V4197.0H860.6V4191.2H857.9V4190.6H855.2V4208.2H852.5V4224.8H849.8V4224.8H847.1V4224.8H844.4V4224.8H841.7V4214.5H839.0V4214.5H836.3V4214.5H833.6V4214.5H830.9V4212.2H828.2V4240.2H825.5V4240.2H822.8V4240.2H820.1V4238.1H817.4V4213.5H814.7V4213.5H812.0V4208.7H809.3V4208.7H806.6V4214.3H803.9V4214.4H801.2V4214.4H798.5V4214.4H795.8V4214.4H793.1V4209.7H790.4V4208.0H787.7V4208.0H785.0V4212.9H782.3V4212.9H779.6V4240.1H776.9V4240.1H774.2V4240.1H771.5V4240.1H768.8V4237.8H766.1V4223.9H763.4V4224.6H760.7V4224.6H758.0V4224.6H755.3V4224.6H752.6V4241.0H749.9V4241.0H747.2V4241.0H744.5V4239.5H741.8V4234.8H739.1V4236.6H736.4V4236.6H733.7V4236.6H731.0V4235.9H728.3V4240.5H725.6V4240.5H722.9V4240.5H720.2V4240.5H717.5V4223.4H714.8V4223.4H712.1V4223.4H709.4V4218.7H706.7V4218.7H704.0V4218.7H701.3V4220.8H698.6V4221.4H695.9V4243.8H693.2V4243.8H690.5V4243.8H687.8V4215.5H685.1V4215.5H682.4V4215.5H679.7V4215.5H677.0V4219.2H674.3V4219.2H671.6V4229.6H668.9V4229.6H666.2V4229.6H663.5V4228.8H660.8V4215.0H658.1V4215.0H655.4V4214.0H652.7V4214.0H650.0V4237.1H647.3V4237.1H644.6V4237.1H641.9V4237.1H639.2V4212.6H636.5V4226.6H633.8V4228.5H631.1V4228.5H628.4V4228.5H625.7V4228.5H623.0V4222.5H620.3V4216.0H617.6V4208.2H614.9V4208.2H612.2V4208.2H609.5V4207.7H606.8V4207.7H604.1V4201.7H601.4V4203.9H598.7V4203.9H596.0V4219.6H593.3V4219.6H590.6V4219.6H587.9V4218.0H585.2V4204.4H582.5V4204.7H579.8V4204.7H577.1V4204.7H574.4V4171.8H571.7V4171.8H569.0V4171.8H566.3V4177.3H563.6V4178.9H560.9V4197.0H558.2V4213.7H555.5V4213.7H552.8V4213.7H550.1V4234.8H547.4V4234.8H544.7V4234.8H542.0V4243.3H539.3V4243.3H536.6V4243.3H533.9V4243.3H531.2V4243.3H528.5V4243.3H525.8V4243.3H523.1V4243.3H520.4V4239.2H517.7V4219.1H515.0V4203.8H512.3V4228.8H509.6V4228.8H506.9V4228.8H504.2V4228.8H501.5V4177.1H498.8V4187.4H496.1V4195.3H493.4V4212.2H490.7V4212.2H488.0V4227.2H485.3V4227.2H482.6V4227.2H479.9V4201.2H477.2V4225.1H474.5V4225.1H471.8V4225.1H469.1V4197.2H466.4V4218.8H463.7V4218.8H461.0V4218.8H458.3V4218.8H455.6V4172.8H452.9V4205.0H450.2V4205.0H447.5V4205.0H444.8V4205.0H442.1V4171.6H439.4V4171.6H436.7V4171.6H434.0V4186.5H431.3V4191.5H428.6V4191.5H425.9V4210.1H423.2V4218.7H420.5V4218.7H417.8V4218.7H415.1V4218.7H412.4V4215.9H409.7V4204.2H407.0V4240.9H404.3V4240.9H401.6V4240.9H398.9V4196.4H396.2V4208.9H393.5V4208.9H390.8V4208.9H388.1V4208.9H385.4V4200.0H382.7V4225.9H380.0V4225.9H377.3V4225.9H374.6V4218.6H371.9V4218.6H369.2V4215.8H366.5V4215.8H363.8V4215.8H361.1V4207.3H358.4V4207.3H355.7V4197.2H353.0V4197.2H350.3V4206.4H347.6V4206.7H344.9V4206.7H342.2V4216.5H339.5V4216.5H336.8V4216.5H334.1V4217.2H331.4V4217.2H328.7V4217.2H326.0V4214.6H323.3V4214.6H320.6V4214.6H317.9V4229.7H315.2V4229.7H312.5V4229.7H309.8V4229.7H307.1Z" fill="#009e73"/>
<path d="M306.0 4313.0V4204.8" stroke="#40e0d0" stroke-width="5"/>
<path d="M307.1 4168.5V4168.5H309.8V4168.5H312.5V4168.5H315.2V4160.5H317.9V4125.9H320.6V4105.2H323.3V4105.2H326.0V4105.2H328.7V4105.2H331.4V4141.2H334.1V4122.0H336.8V4122.0H339.5V4122.0H342.2V4124.3H344.9V4135.8H347.6V4135.8H350.3V4137.5H353.0V4137.5H355.7V4137.5H358.4V4137.5H361.1V4157.0H363.8V4131.3H366.5V4131.3H369.2V4131.3H371.9V4131.3H374.6V4122.2H377.3V4122.2H380.0V4110.6H382.7V4110.6H385.4V4110.6H388.1V4110.6H390.8V4130.7H393.5V4130.7H396.2V4130.7H398.9V4142.4H401.6V4142.4H404.3V4151.8H407.0V4136.3H409.7V4116.8H412.4V4116.8H415.1V4116.8H417.8V4116.2H420.5V4116.2H423.2V4116.2H425.9V4122.3H428.6V4117.9H431.3V4117.9H434.0V4117.9H436.7V4102.4H439.4V4086.8H442.1V4086.8H444.8V4086.8H447.5V4098.5H450.2V4098.5H452.9V4103.7H455.6V4104.2H458.3V4077.3H461.0V4077.3H463.7V4077.3H466.4V4077.3H469.1V4094.2H471.8V4094.2H474.5V4100.8H477.2V4087.0H479.9V4077.6H482.6V4077.6H485.3V4077.6H488.0V4098.0H490.7V4098.0H493.4V4109.1H496.1V4109.1H498.8V4109.1H501.5V4103.2H504.2V4103.2H506.9V4102.8H509.6V4102.8H512.3V4102.8H515.0V4109.5H517.7V4109.5H520.4V4109.5H523.1V4116.5H525.8V4116.5H528.5V4116.5H531.2V4117.9H533.9V4106.1H536.6V4106.1H539.3V4094.7H542.0V4094.7H544.7V4094.7H547.4V4094.7H550.1V4100.8H552.8V4100.8H555.5V4100.8H558.2V4100.8H560.9V4097.5H563.6V4097.5H566.3V4097.5H569.0V4097.5H571.7V4104.0H574.4V4109.7H577.1V4109.3H579.8V4109.3H582.5V4109.3H585.2V4109.3H587.9V4092.8H590.6V4092.8H593.3V4082.8H596.0V4082.8H598.7V4082.8H601.4V4082.8H604.1V4105.0H606.8V4093.4H609.5V4093.4H612.2V4093.4H614.9V4093.4H617.6V4104.0H620.3V4104.0H623.0V4104.0H625.7V4104.0H628.4V4112.2H631.1V4112.2H633.8V4113.9H636.5V4113.9H639.2V4113.9H641.9V4113.9H644.6V4117.4H647.3V4093.2H650.0V4093.2H652.7V4085.8H655.4V4085.8H658.1V4085.8H660.8V4095.5H663.5V4105.3H666.2V4104.2H668.9V4103.5H671.6V4103.5H674.3V4103.5H677.0V4105.8H679.7V4105.8H682.4V4105.8H685.1V4105.8H687.8V4119.8H690.5V4118.0H693.2V4118.0H695.9V4112.6H698.6V4112.6H701.3V4096.9H704.0V4096.9H706.7V4096.9H709.4V4096.9H712.1V4096.9H714.8V4096.9H717.5V4101.5H720.2V4114.0H722.9V4125.1H725.6V4108.6H728.3V4107.0H731.0V4107.0H733.7V4107.0H736.4V4107.0H739.1V4117.4H741.8V4116.6H744.5V4116.6H747.2V4116.6H749.9V4116.6H752.6V4128.2H755.3V4122.8H758.0V4122.8H760.7V4122.8H763.4V4122.8H766.1V4128.6H768.8V4128.6H771.5V4128.6H774.2V4135.4H776.9V4126.5H779.6V4126.5H782.3V4119.5H785.0V4119.5H787.7V4116.8H790.4V4116.8H793.1V4116.8H795.8V4116.8H798.5V4116.8H801.2V4107.7H803.9V4101.8H806.6V4101.8H809.3V4101.8H812.0V4117.5H814.7V4115.8H817.4V4115.8H820.1V4115.8H822.8V4115.8H825.5V4114.0H828.2V4114.0H830.9V4104.9H833.6V4104.9H836.3V4104.9H839.0V4104.9H841.7V4125.6H844.4V4118.4H847.1V4118.4H849.8V4118.4H852.5V4123.9H855.2V4123.9H857.9V4123.9H860.6V4123.9H863.3V4124.9H866.0V4125.9H868.7V4121.3H871.4V4121.3H874.1V4112.3H876.8V4111.6H879.5V4111.6H882.2V4111.6H884.9V4113.0H887.6V4113.0H890.3V4116.7H893.0V4116.7H895.7V4116.7H898.4V4132.2H901.1V4132.2H903.8V4130.0H906.5V4130.0H909.2V4130.0H911.9V4128.3H914.6V4128.3H917.3V4120.7H920.0V4112.4H922.7V4108.8H925.4V4108.8H928.1V4108.8H930.8V4108.8H933.5V4118.0H936.2V4118.0H938.9V4118.0H941.6V4118.0H944.3V4126.8H947.0V4126.8H949.7V4135.6H952.4V4134.6H955.1V4125.8H957.8V4113.0H960.5V4113.0H963.2V4103.9H965.9V4103.9H968.6V4103.9H971.3V4123.3H974.0V4123.3H976.7V4123.3H979.4V4109.4H982.1V4109.4H984.8V4109.4H987.5V4130.7H990.2V4107.2H992.9V4107.2H995.6V4107.2H998.3V4104.0H1001.0V4104.0H1003.7V4104.0H1006.4V4054.6H1009.1V4054.6H1011.8V4054.6H1014.5V4054.6H1017.2V4077.8H1019.9V4041.5H1022.6V4041.5H1025.3V4041.5H1028.0V4041.5H1030.7V4047.5H1033.4V4047.5H1036.1V4047.5H1038.8V4051.8H1041.5V4051.8H1044.2V4051.8H1046.9V4003.4H1049.6V4003.4H1052.3V4003.4H1055.0V4035.2H1057.7V4031.0H1060.4V4031.0H1063.1V4031.0H1065.8V4031.0H1068.5V4047.9H1071.2V4047.9H1073.9V4047.9H1076.6V4053.2H1079.3V4039.7H1082.0V4039.7H1084.7V4039.7H1087.4V4049.8H1090.1V4061.3H1092.8V4051.1H1095.5V4040.5H1098.2V4040.5H1100.9V4040.5H1103.6V4046.8H1106.3V4046.8H1109.0V4036.1H1111.7V4036.1H1114.4V4030.3H1117.1V4030.3H1119.8V4030.3H1122.5V4030.3H1125.2V4057.4H1127.9V4066.6H1130.6V4071.3H1133.3V4067.4H1136.0V4067.4H1138.7V4067.4H1141.4V4067.4H1144.1V4065.8H1146.8V4065.8H1149.5V4065.8H1152.2V4065.8H1154.9V4072.3H1157.6V4072.3H1160.3V4072.3H1163.0V4072.3H1165.7V4102.9H1168.4V4102.9H1171.1V4103.9H1173.8V4101.1H1176.5V4069.6H1179.2V4069.6H1181.9V4069.6H1184.6V4073.2H1187.3V4073.2H1190.0V4072.7H1192.7V4072.7H1195.4V4072.7H1198.1V4074.7H1200.8V4074.7H1203.5V4081.8H1206.2V4070.3H1208.9V4070.3H1211.6V4070.3H1214.3V4072.8H1217.0V4072.8H1219.7V4075.5H1222.4V4077.1H1225.1V4080.8H1227.8V4080.8H1230.5V4080.8H1233.2V4085.9H1235.9V4085.9H1238.6V4082.6H1241.3V4082.6H1244.0V4082.6H1246.7V4082.6H1249.4V4089.0H1252.1V4089.0H1254.8V4089.0H1257.5V4093.0H1260.2V4085.5H1262.9V4085.5H1265.6V4083.8H1268.3V4078.2H1271.0V4078.2H1273.7V4078.2H1276.4V4086.4H1279.1V4086.4H1281.8V4076.4H1284.5V4076.4H1287.2V4076.4H1289.9V4092.0H1292.6V4092.0H1295.3V4092.0H1298.0V4096.1H1300.7V4096.1H1303.4V4096.1H1306.1V4093.4H1308.8V4093.4H1311.5V4092.0H1314.2V4092.0H1316.9V4092.0H1319.6V4098.9H1322.3V4098.9H1325.0V4098.9H1327.7V4098.9H1330.4V4094.8H1333.1V4088.2H1335.8V4088.2H1338.5V4088.2H1341.2V4094.1H1343.9V4094.1H1346.6V4093.5H1349.3V4093.5H1352.0V4093.5H1354.7V4093.5H1357.4V4091.6H1360.1V4081.8H1362.8V4081.8H1365.5V4081.8H1368.2V4081.8H1370.9V4089.9H1373.6V4100.9H1376.3V4100.9H1379.0V4100.9H1381.7V4096.7H1384.4V4096.7H1387.1V4096.7H1389.8V4099.6H1392.5V4099.6H1395.2V4099.6H1397.9V4102.1H1400.6V4102.0H1403.3V4098.4H1406.0V4098.4H1408.7V4098.4H1411.4V4098.2H1414.1V4098.2H1416.8V4098.2H1419.5V4098.2H1422.2V4098.6H1424.9V4095.5H1427.6V4095.5H1430.3V4095.5H1433.0V4100.3H1435.7V4098.1H1438.4V4098.1H1441.1V4098.1H1443.8V4093.9H1446.5V4093.2H1449.2V4079.2H1451.9V4079.2H1454.6V4079.2H1457.3V4081.6H1460.0V4089.4H1462.7V4098.6H1465.4V4099.0H1468.1V4099.0H1470.8V4097.4H1473.5V4097.4H1476.2V4097.4H1478.9V4097.4H1481.6V4098.1H1484.3V4090.3H1487.0V4090.3H1489.7V4090.3H1492.4V4102.3H1495.1V4102.6H1497.8V4103.4H1500.5V4105.0H1503.2V4108.4H1505.9V4110.8H1508.6V4106.1H1511.3V4106.1H1514.0V4106.1H1516.7V4114.4H1519.4V4104.2H1522.1V4096.6H1524.8V4096.6H1527.5V4096.6H1530.2V4099.3H1532.9V4099.3H1535.6V4094.6H1538.3V4094.6H1541.0V4091.8H1543.7V4091.2H1546.4V4077.5H1549.1V4077.5H1551.8V4077.5H1554.5V4085.7H1557.2V4085.7H1559.9V4085.7H1562.6V4090.7H1565.3V4098.0H1568.0V4098.0H1570.7V4090.3H1573.4V4090.3H1576.1V4090.3H1578.8V4090.3H1581.5V4093.2H1584.2V4103.5H1586.9V4103.5H1589.6V4120.0H1592.3V4110.5H1595.0V4104.2H1597.7V4083.4H1600.4V4083.4H1603.1V4083.4H1605.8V4083.4H1608.5V4099.4H1611.2V4099.4H1613.9V4076.5H1616.6V4076.5H1619.3V4076.5H1622.0V4076.5H1624.7V4097.0H1627.4V4095.3H1630.1V4095.3H1632.8V4095.3H1635.5V4095.7H1638.2V4098.2H1640.9V4102.7H1643.6V4099.7H1646.3V4099.7H1649.0V4099.7H1651.7V4099.7H1654.4V4089.8H1657.1V4089.8H1659.8V4089.8H1662.5V4089.8H1665.2V4096.0H1667.9V4093.9H1670.6V4093.9H1673.3V4082.5H1676.0V4076.2H1678.7V4076.2H1681.4V4075.5H1684.1V4075.5H1686.8V4075.5H1689.5V4081.0H1692.2V4090.6H1694.9V4090.2H1697.6V4090.2H1700.3V4090.2H1703.0V4108.6H1705.7V4108.6H1708.4V4100.6H1711.1V4100.6H1713.8V4093.7H1716.5V4093.7H1719.2V4093.7H1721.9V4093.7H1724.6V4106.7H1727.3V4106.7H1730.0V4118.9H1732.7V4105.0H1735.4V4099.5H1738.1V4099.5H1740.8V4099.5H1743.5V4092.0H1746.2V4092.0H1748.9V4092.0H1751.6V4107.7H1754.3V4107.3H1757.0V4097.5H1759.7V4082.8H1762.4V4082.8H1765.1V4082.8H1767.8V4093.7H1770.5V4092.4H1773.2V4092.4H1775.9V4092.4H1778.6V4072.5H1781.3V4072.5H1784.0V4072.5H1786.7V4072.1H1789.4V4072.1H1792.1V4072.1H1794.8V4072.1H1797.5V4080.5H1800.2V4092.0H1802.9V4092.0H1805.6V4084.8H1808.3V4084.8H1811.0V4084.8H1813.7V4084.1H1816.4V4084.1H1819.1V4084.1H1821.8V4094.0H1824.5V4094.0H1827.2V4088.1H1829.9V4088.1H1832.6V4088.1H1835.3V4088.1H1838.0V4087.2H1840.7V4087.2H1843.4V4087.2H1846.1V4087.2H1848.8V4077.9H1851.5V4077.9H1854.2V4077.9H1856.9V4093.3H1859.6V4094.1H1862.3V4091.6H1865.0V4089.5H1867.7V4089.5H1870.4V4089.5H1873.1V4079.3H1875.8V4079.3H1878.5V4079.3H1881.2V4079.3H1883.9V4086.0H1886.6V4065.1H1889.3V4065.1H1892.0V4065.1H1894.7V4087.6H1897.4V4089.4H1900.1V4078.6H1902.8V4078.6H1905.5V4077.1H1908.2V4077.1H1910.9V4077.1H1913.6V4077.1H1916.3V4122.9H1913.6V4122.9H1910.9V4110.0H1908.2V4119.3H1905.5V4119.3H1902.8V4128.0H1900.1V4128.2H1897.4V4128.2H1894.7V4130.1H1892.0V4130.1H1889.3V4130.1H1886.6V4130.1H1883.9V4113.7H1881.2V4111.8H1878.5V4111.8H1875.8V4111.8H1873.1V4111.8H1870.4V4109.6H1867.7V4115.9H1865.0V4115.9H1862.3V4115.9H1859.6V4115.9H1856.9V4107.0H1854.2V4103.0H1851.5V4109.1H1848.8V4111.9H1846.1V4111.9H1843.4V4111.9H1840.7V4120.0H1838.0V4120.0H1835.3V4125.5H1832.6V4125.5H1829.9V4125.5H1827.2V4116.9H1824.5V4124.2H1821.8V4124.4H1819.1V4124.4H1816.4V4124.4H1813.7V4124.4H1811.0V4114.8H1808.3V4114.2H1805.6V4114.2H1802.9V4123.5H1800.2V4123.5H1797.5V4123.5H1794.8V4123.5H1792.1V4114.2H1789.4V4114.2H1786.7V4128.6H1784.0V4128.6H1781.3V4139.5H1778.6V4139.5H1775.9V4139.5H1773.2V4133.8H1770.5V4133.8H1767.8V4126.2H1765.1V4126.2H1762.4V4136.6H1759.7V4136.6H1757.0V4136.6H1754.3V4136.6H1751.6V4123.9H1748.9V4149.7H1746.2V4149.7H1743.5V4149.7H1740.8V4142.5H1738.1V4136.2H1735.4V4138.2H1732.7V4151.9H1730.0V4151.9H1727.3V4151.9H1724.6V4136.8H1721.9V4135.3H1719.2V4135.3H1716.5V4133.3H1713.8V4144.0H1711.1V4151.0H1708.4V4151.0H1705.7V4151.0H1703.0V4151.0H1700.3V4130.1H1697.6V4116.2H1694.9V4113.0H1692.2V4113.0H1689.5V4105.0H1686.8V4108.5H1684.1V4108.5H1681.4V4116.4H1678.7V4122.2H1676.0V4122.2H1673.3V4132.5H1670.6V4132.5H1667.9V4132.5H1665.2V4129.1H1662.5V4133.4H1659.8V4143.2H1657.1V4143.2H1654.4V4143.2H1651.7V4143.2H1649.0V4137.5H1646.3V4137.5H1643.6V4134.9H1640.9V4122.6H1638.2V4121.7H1635.5V4121.7H1632.8V4111.9H1630.1V4121.4H1627.4V4121.4H1624.7V4121.4H1622.0V4121.4H1619.3V4117.5H1616.6V4117.5H1613.9V4146.1H1611.2V4146.1H1608.5V4146.1H1605.8V4146.1H1603.1V4127.6H1600.4V4127.6H1597.7V4139.4H1595.0V4139.4H1592.3V4140.1H1589.6V4140.1H1586.9V4140.1H1584.2V4137.4H1581.5V4129.8H1578.8V4126.1H1576.1V4126.1H1573.4V4123.9H1570.7V4121.4H1568.0V4121.4H1565.3V4121.4H1562.6V4121.4H1559.9V4117.9H1557.2V4117.9H1554.5V4117.9H1551.8V4117.9H1549.1V4113.9H1546.4V4118.6H1543.7V4119.8H1541.0V4119.8H1538.3V4119.8H1535.6V4127.8H1532.9V4135.8H1530.2V4135.8H1527.5V4135.8H1524.8V4130.5H1522.1V4130.9H1519.4V4130.9H1516.7V4130.9H1514.0V4132.2H1511.3V4132.2H1508.6V4132.2H1505.9V4132.2H1503.2V4131.2H1500.5V4118.5H1497.8V4117.5H1495.1V4124.1H1492.4V4124.1H1489.7V4124.1H1487.0V4110.4H1484.3V4115.6H1481.6V4115.6H1478.9V4118.4H1476.2V4137.6H1473.5V4137.6H1470.8V4137.6H1468.1V4120.2H1465.4V4116.2H1462.7V4114.5H1460.0V4106.3H1457.3V4103.3H1454.6V4118.0H1451.9V4118.0H1449.2V4118.0H1446.5V4115.0H1443.8V4122.4H1441.1V4122.4H1438.4V4122.4H1435.7V4122.4H1433.0V4119.1H1430.3V4119.1H1427.6V4117.5H1424.9V4117.9H1422.2V4118.1H1419.5V4118.1H1416.8V4118.1H1414.1V4118.2H1411.4V4118.2H1408.7V4118.2H1406.0V4117.1H1403.3V4119.8H1400.6V4126.2H1397.9V4126.2H1395.2V4126.2H1392.5V4126.2H1389.8V4136.4H1387.1V4136.4H1384.4V4136.4H1381.7V4136.4H1379.0V4121.9H1376.3V4127.8H1373.6V4127.8H1370.9V4127.8H1368.2V4127.8H1365.5V4116.9H1362.8V4121.2H1360.1V4131.0H1357.4V4131.0H1354.7V4131.0H1352.0V4118.8H1349.3V4118.8H1346.6V4118.8H1343.9V4116.4H1341.2V4116.4H1338.5V4121.9H1335.8V4121.9H1333.1V4121.9H1330.4V4121.9H1327.7V4116.3H1325.0V4116.3H1322.3V4123.9H1319.6V4123.9H1316.9V4123.9H1314.2V4123.9H1311.5V4120.9H1308.8V4138.7H1306.1V4138.7H1303.4V4138.7H1300.7V4137.8H1298.0V4137.8H1295.3V4137.8H1292.6V4118.2H1289.9V4118.2H1287.2V4137.2H1284.5V4137.2H1281.8V4137.2H1279.1V4116.2H1276.4V4116.2H1273.7V4108.8H1271.0V4115.0H1268.3V4115.1H1265.6V4115.1H1262.9V4115.1H1260.2V4109.4H1257.5V4116.0H1254.8V4116.0H1252.1V4128.9H1249.4V4128.9H1246.7V4128.9H1244.0V4126.1H1241.3V4126.1H1238.6V4127.6H1235.9V4127.6H1233.2V4127.6H1230.5V4118.9H1227.8V4118.9H1225.1V4118.9H1222.4V4118.9H1219.7V4094.1H1217.0V4110.4H1214.3V4110.4H1211.6V4110.4H1208.9V4107.7H1206.2V4107.7H1203.5V4107.7H1200.8V4106.1H1198.1V4101.9H1195.4V4101.0H1192.7V4110.7H1190.0V4116.6H1187.3V4116.6H1184.6V4130.6H1181.9V4130.6H1179.2V4138.5H1176.5V4138.5H1173.8V4138.5H1171.1V4138.5H1168.4V4123.1H1165.7V4123.1H1163.0V4123.1H1160.3V4123.1H1157.6V4111.3H1154.9V4111.3H1152.2V4125.2H1149.5V4125.2H1146.8V4125.2H1144.1V4125.2H1141.4V4124.6H1138.7V4114.8H1136.0V4123.7H1133.3V4123.7H1130.6V4123.7H1127.9V4109.2H1125.2V4087.5H1122.5V4090.3H1119.8V4090.3H1117.1V4090.3H1114.4V4096.8H1111.7V4096.8H1109.0V4096.8H1106.3V4096.8H1103.6V4099.6H1100.9V4099.6H1098.2V4105.3H1095.5V4105.3H1092.8V4105.3H1090.1V4106.2H1087.4V4108.1H1084.7V4108.1H1082.0V4108.1H1079.3V4108.1H1076.6V4087.7H1073.9V4116.0H1071.2V4116.0H1068.5V4116.0H1065.8V4102.0H1063.1V4097.9H1060.4V4097.9H1057.7V4091.9H1055.0V4099.1H1052.3V4099.1H1049.6V4099.1H1046.9V4099.1H1044.2V4099.1H1041.5V4099.1H1038.8V4099.1H1036.1V4102.0H1033.4V4102.0H1030.7V4102.0H1028.0V4099.7H1025.3V4095.8H1022.6V4097.2H1019.9V4097.2H1017.2V4097.2H1014.5V4124.2H1011.8V4155.1H1009.1V4155.1H1006.4V4166.5H1003.7V4166.5H1001.0V4166.5H998.3V4166.5H995.6V4153.0H992.9V4153.0H990.2V4153.5H987.5V4153.5H984.8V4156.0H982.1V4163.2H979.4V4163.2H976.7V4163.2H974.0V4160.9H971.3V4160.9H968.6V4160.9H965.9V4150.9H963.2V4150.9H960.5V4150.9H957.8V4148.0H955.1V4159.0H952.4V4167.7H949.7V4167.7H947.0V4167.7H944.3V4167.7H941.6V4153.0H938.9V4179.2H936.2V4179.2H933.5V4179.2H930.8V4179.2H928.1V4166.7H925.4V4149.3H922.7V4149.3H920.0V4149.3H917.3V4144.9H914.6V4160.3H911.9V4160.3H909.2V4160.3H906.5V4160.3H903.8V4171.8H901.1V4171.8H898.4V4171.8H895.7V4170.2H893.0V4170.2H890.3V4145.0H887.6V4158.9H884.9V4158.9H882.2V4158.9H879.5V4152.0H876.8V4153.2H874.1V4153.2H871.4V4153.2H868.7V4153.2H866.0V4161.0H863.3V4161.0H860.6V4161.0H857.9V4161.0H855.2V4150.3H852.5V4150.3H849.8V4148.9H847.1V4148.7H844.4V4148.7H841.7V4148.7H839.0V4154.1H836.3V4154.1H833.6V4167.9H830.9V4167.9H828.2V4167.9H825.5V4141.9H822.8V4138.4H820.1V4138.9H817.4V4138.9H814.7V4171.6H812.0V4171.6H809.3V4171.6H806.6V4143.3H803.9V4135.3H801.2V4153.1H798.5V4153.1H795.8V4164.1H793.1V4164.1H790.4V4164.1H787.7V4156.3H785.0V4157.1H782.3V4157.1H779.6V4157.1H776.9V4157.5H774.2V4157.5H771.5V4157.5H768.8V4152.6H766.1V4152.6H763.4V4156.8H760.7V4156.8H758.0V4156.8H755.3V4152.0H752.6V4143.0H749.9V4142.9H747.2V4142.9H744.5V4167.8H741.8V4167.8H739.1V4167.8H736.4V4167.8H733.7V4135.5H731.0V4143.2H728.3V4148.6H725.6V4148.6H722.9V4148.6H720.2V4148.6H717.5V4143.5H714.8V4137.5H712.1V4117.4H709.4V4143.8H706.7V4143.8H704.0V4143.8H701.3V4143.1H698.6V4149.1H695.9V4151.2H693.2V4156.5H690.5V4156.5H687.8V4156.5H685.1V4156.5H682.4V4138.2H679.7V4138.2H677.0V4138.2H674.3V4139.1H671.6V4139.1H668.9V4139.1H666.2V4139.1H663.5V4133.2H660.8V4130.8H658.1V4130.6H655.4V4151.5H652.7V4151.5H650.0V4151.5H647.3V4151.8H644.6V4151.8H641.9V4151.8H639.2V4158.3H636.5V4158.3H633.8V4158.3H631.1V4158.0H628.4V4158.0H625.7V4158.0H623.0V4143.6H620.3V4143.6H617.6V4143.6H614.9V4143.6H612.2V4141.7H609.5V4154.4H606.8V4154.4H604.1V4154.4H601.4V4154.4H598.7V4142.2H596.0V4147.0H593.3V4147.0H590.6V4153.2H587.9V4153.2H585.2V4153.2H582.5V4143.2H579.8V4139.8H577.1V4139.8H574.4V4153.2H571.7V4153.2H569.0V4153.2H566.3V4145.2H563.6V4145.2H560.9V4145.2H558.2V4146.7H555.5V4146.7H552.8V4146.7H550.1V4159.0H547.4V4159.0H544.7V4159.0H542.0V4145.0H539.3V4168.7H536.6V4168.7H533.9V4168.7H531.2V4168.7H528.5V4167.7H525.8V4167.7H523.1V4167.7H520.4V4176.4H517.7V4176.7H515.0V4176.7H512.3V4176.7H509.6V4176.7H506.9V4147.1H504.2V4158.4H501.5V4158.4H498.8V4178.3H496.1V4178.3H493.4V4178.3H490.7V4137.8H488.0V4135.1H485.3V4119.0H482.6V4148.6H479.9V4148.6H477.2V4148.6H474.5V4135.0H471.8V4137.0H469.1V4137.0H466.4V4161.5H463.7V4161.5H461.0V4161.5H458.3V4161.5H455.6V4164.5H452.9V4164.5H450.2V4164.5H447.5V4128.9H444.8V4178.9H442.1V4183.9H439.4V4183.9H436.7V4183.9H434.0V4183.9H431.3V4163.9H428.6V4187.5H425.9V4187.5H423.2V4187.5H420.5V4158.7H417.8V4158.7H415.1V4166.3H412.4V4187.4H409.7V4187.4H407.0V4187.4H404.3V4193.8H401.6V4193.8H398.9V4193.8H396.2V4193.8H393.5V4172.3H390.8V4163.3H388.1V4188.8H385.4V4188.8H382.7V4188.8H380.0V4188.8H377.3V4186.6H374.6V4186.6H371.9V4186.5H369.2V4186.5H366.5V4190.4H363.8V4190.4H361.1V4190.4H358.4V4187.5H355.7V4193.7H353.0V4193.7H350.3V4193.7H347.6V4174.6H344.9V4174.6H342.2V4165.8H339.5V4170.2H336.8V4170.2H334.1V4192.6H331.4V4192.6H328.7V4192.6H326.0V4192.6H323.3V4187.8H320.6V4194.2H317.9V4214.5H315.2V4214.5H312.5V4219.1H309.8V4219.1H307.1Z" fill="#40e0d0"/>
<path d="M306.0 4313.0V4262.7" stroke="#ffa500" stroke-width="5"/>
<path d="M307.1 4244.0V4244.0H309.8V4235.2H312.5V4233.8H315.2V4229.1H317.9V4229.1H320.6V4229.1H323.3V4238.0H326.0V4235.2H328.7V4235.2H331.4V4235.2H334.1V4233.6H336.8V4232.9H339.5V4221.0H342.2V4221.0H344.9V4221.0H347.6V4219.1H350.3V4219.1H353.0V4219.1H355.7V4231.3H358.4V4231.3H361.1V4231.3H363.8V4237.1H366.5V4237.1H369.2V4236.0H371.9V4236.0H374.6V4236.0H377.3V4243.6H380.0V4247.7H382.7V4241.2H385.4V4241.2H388.1V4241.2H390.8V4247.3H393.5V4223.9H396.2V4219.5H398.9V4198.7H401.6V4198.7H404.3V4198.7H407.0V4198.7H409.7V4215.0H412.4V4200.6H415.1V4200.6H417.8V4200.6H420.5V4200.6H423.2V4211.4H425.9V4205.5H428.6V4199.4H431.3V4195.0H434.0V4195.0H436.7V4193.0H439.4V4193.0H442.1V4193.0H444.8V4193.0H447.5V4190.1H450.2V4185.3H452.9V4185.3H455.6V4185.3H458.3V4203.3H461.0V4203.3H463.7V4203.3H466.4V4209.0H469.1V4208.8H471.8V4208.8H474.5V4208.8H477.2V4208.8H479.9V4213.6H482.6V4203.7H485.3V4203.7H488.0V4203.7H490.7V4208.9H493.4V4195.6H496.1V4195.6H498.8V4195.6H501.5V4184.8H504.2V4184.8H506.9V4184.8H509.6V4184.8H512.3V4215.6H515.0V4200.4H517.7V4200.4H520.4V4200.4H523.1V4200.4H525.8V4209.8H528.5V4212.0H531.2V4193.9H533.9V4193.8H536.6V4193.8H539.3V4193.8H542.0V4203.6H544.7V4203.6H547.4V4219.3H550.1V4221.0H552.8V4221.0H555.5V4224.7H558.2V4224.7H560.9V4219.9H563.6V4219.9H566.3V4219.9H569.0V4221.3H571.7V4216.5H574.4V4216.5H577.1V4216.5H579.8V4223.6H582.5V4237.1H585.2V4240.1H587.9V4233.1H590.6V4226.1H593.3V4226.1H596.0V4226.1H598.7V4223.4H601.4V4222.4H604.1V4222.4H606.8V4222.4H609.5V4222.4H612.2V4231.7H614.9V4235.8H617.6V4235.8H620.3V4235.8H623.0V4228.9H625.7V4228.9H628.4V4228.9H631.1V4229.0H633.8V4216.7H636.5V4216.7H639.2V4216.7H641.9V4216.7H644.6V4233.9H647.3V4233.9H650.0V4234.1H652.7V4234.1H655.4V4228.8H658.1V4225.2H660.8V4219.8H663.5V4214.0H666.2V4214.0H668.9V4210.3H671.6V4210.3H674.3V4208.8H677.0V4208.8H679.7V4208.8H682.4V4215.7H685.1V4215.7H687.8V4215.7H690.5V4215.7H693.2V4234.5H695.9V4234.5H698.6V4231.5H701.3V4222.6H704.0V4222.6H706.7V4222.6H709.4V4215.6H712.1V4215.6H714.8V4215.6H717.5V4215.6H720.2V4214.5H722.9V4214.5H725.6V4214.5H728.3V4214.5H731.0V4215.3H733.7V4215.3H736.4V4215.3H739.1V4209.8H741.8V4207.2H744.5V4207.2H747.2V4207.2H749.9V4207.2H752.6V4207.5H755.3V4207.5H758.0V4219.8H760.7V4219.8H763.4V4219.8H766.1V4221.0H768.8V4207.7H771.5V4207.7H774.2V4207.7H776.9V4225.0H779.6V4227.8H782.3V4226.4H785.0V4215.2H787.7V4215.2H790.4V4215.2H793.1V4215.2H795.8V4233.0H798.5V4233.0H801.2V4229.3H803.9V4229.3H806.6V4229.3H809.3V4229.3H812.0V4243.4H814.7V4243.4H817.4V4222.0H820.1V4222.0H822.8V4222.0H825.5V4222.0H828.2V4223.3H830.9V4224.3H833.6V4219.7H836.3V4219.7H839.0V4219.7H841.7V4220.0H844.4V4215.7H847.1V4215.7H849.8V4211.2H852.5V4211.2H855.2V4211.2H857.9V4211.2H860.6V4225.8H863.3V4224.8H866.0V4220.7H868.7V4220.7H871.4V4220.7H874.1V4222.1H876.8V4223.9H879.5V4229.6H882.2V4232.4H884.9V4226.1H887.6V4226.1H890.3V4226.1H893.0V4242.0H895.7V4243.0H898.4V4243.8H901.1V4207.5H903.8V4207.5H906.5V4207.5H909.2V4207.5H911.9V4220.5H914.6V4226.6H917.3V4211.9H920.0V4211.9H922.7V4204.1H925.4V4204.1H928.1V4204.1H930.8V4217.0H933.5V4199.3H936.2V4199.3H938.9V4199.3H941.6V4199.3H944.3V4215.6H947.0V4215.6H949.7V4232.2H952.4V4235.9H955.1V4235.9H957.8V4232.5H960.5V4232.5H963.2V4212.8H965.9V4212.8H968.6V4212.8H971.3V4212.8H974.0V4222.4H976.7V4220.3H979.4V4220.3H982.1V4220.3H984.8V4220.3H987.5V4226.3H990.2V4210.9H992.9V4210.9H995.6V4210.9H998.3V4212.1H1001.0V4212.5H1003.7V4203.7H1006.4V4203.7H1009.1V4203.7H1011.8V4203.7H1014.5V4210.5H1017.2V4210.5H1019.9V4210.5H1022.6V4227.4H1025.3V4224.2H1028.0V4220.1H1030.7V4220.1H1033.4V4220.1H1036.1V4220.1H1038.8V4230.0H1041.5V4230.0H1044.2V4225.2H1046.9V4225.2H1049.6V4216.4H1052.3V4216.4H1055.0V4211.2H1057.7V4211.2H1060.4V4211.2H1063.1V4196.9H1065.8V4196.9H1068.5V4196.9H1071.2V4196.9H1073.9V4214.5H1076.6V4195.3H1079.3V4195.3H1082.0V4195.3H1084.7V4217.3H1087.4V4225.6H1090.1V4234.0H1092.8V4222.5H1095.5V4222.5H1098.2V4210.6H1100.9V4210.6H1103.6V4210.6H1106.3V4210.6H1109.0V4229.4H1111.7V4229.4H1114.4V4214.8H1117.1V4214.8H1119.8V4214.8H1122.5V4208.3H1125.2V4208.3H1127.9V4208.3H1130.6V4208.3H1133.3V4213.4H1136.0V4213.4H1138.7V4213.4H1141.4V4210.2H1144.1V4210.2H1146.8V4210.2H1149.5V4210.2H1152.2V4217.1H1154.9V4216.1H1157.6V4216.1H1160.3V4215.4H1163.0V4215.4H1165.7V4215.3H1168.4V4215.3H1171.1V4215.3H1173.8V4215.3H1176.5V4216.8H1179.2V4205.3H1181.9V4205.3H1184.6V4205.3H1187.3V4205.3H1190.0V4212.9H1192.7V4212.9H1195.4V4212.9H1198.1V4217.8H1200.8V4215.7H1203.5V4211.0H1206.2V4211.0H1208.9V4211.0H1211.6V4223.9H1214.3V4223.9H1217.0V4223.0H1219.7V4223.0H1222.4V4219.6H1225.1V4215.4H1227.8V4197.0H1230.5V4197.0H1233.2V4197.0H1235.9V4215.1H1238.6V4215.1H1241.3V4216.4H1244.0V4221.8H1246.7V4204.6H1249.4V4204.6H1252.1V4204.6H1254.8V4222.2H1257.5V4222.2H1260.2V4222.2H1262.9V4223.0H1265.6V4223.0H1268.3V4215.1H1271.0V4208.6H1273.7V4208.6H1276.4V4199.5H1279.1V4199.5H1281.8V4199.5H1284.5V4199.5H1287.2V4201.4H1289.9V4193.9H1292.6V4193.9H1295.3V4193.9H1298.0V4193.9H1300.7V4198.5H1303.4V4198.5H1306.1V4198.9H1308.8V4198.9H1311.5V4198.4H1314.2V4198.4H1316.9V4198.4H1319.6V4215.7H1322.3V4220.6H1325.0V4220.6H1327.7V4226.1H1330.4V4226.1H1333.1V4226.1H1335.8V4222.9H1338.5V4216.8H1341.2V4216.7H1343.9V4216.7H1346.6V4216.7H1349.3V4210.9H1352.0V4210.9H1354.7V4209.0H1357.4V4209.0H1360.1V4206.5H1362.8V4206.5H1365.5V4193.4H1368.2V4193.4H1370.9V4193.4H1373.6V4193.4H1376.3V4216.1H1379.0V4219.2H1381.7V4223.4H1384.4V4223.4H1387.1V4223.4H1389.8V4224.6H1392.5V4216.5H1395.2V4216.5H1397.9V4213.6H1400.6V4213.6H1403.3V4213.6H1406.0V4213.6H1408.7V4216.0H1411.4V4216.0H1414.1V4212.2H1416.8V4197.4H1419.5V4197.4H1422.2V4197.4H1424.9V4197.4H1427.6V4217.5H1430.3V4226.1H1433.0V4226.1H1435.7V4226.1H1438.4V4235.4H1441.1V4235.4H1443.8V4225.5H1446.5V4216.1H1449.2V4216.1H1451.9V4216.1H1454.6V4225.3H1457.3V4225.3H1460.0V4216.3H1462.7V4216.3H1465.4V4216.3H1468.1V4216.3H1470.8V4222.2H1473.5V4222.2H1476.2V4236.3H1478.9V4232.2H1481.6V4232.2H1484.3V4226.4H1487.0V4214.1H1489.7V4214.1H1492.4V4213.9H1495.1V4213.9H1497.8V4213.9H1500.5V4218.3H1503.2V4222.3H1505.9V4222.3H1508.6V4220.0H1511.3V4213.3H1514.0V4213.3H1516.7V4213.3H1519.4V4231.3H1522.1V4231.3H1524.8V4226.4H1527.5V4225.4H1530.2V4225.4H1532.9V4206.1H1535.6V4206.1H1538.3V4206.1H1541.0V4228.7H1543.7V4224.1H1546.4V4224.1H1549.1V4224.1H1551.8V4224.1H1554.5V4232.4H1557.2V4232.4H1559.9V4229.0H1562.6V4211.1H1565.3V4211.1H1568.0V4210.9H1570.7V4210.9H1573.4V4205.1H1576.1V4205.1H1578.8V4205.1H1581.5V4205.1H1584.2V4202.5H1586.9V4202.5H1589.6V4202.5H1592.3V4202.5H1595.0V4199.2H1597.7V4198.5H1600.4V4198.5H1603.1V4198.5H1605.8V4198.5H1608.5V4221.9H1611.2V4221.9H1613.9V4212.1H1616.6V4212.1H1619.3V4212.1H1622.0V4212.3H1624.7V4229.8H1627.4V4219.7H1630.1V4219.7H1632.8V4219.7H1635.5V4211.7H1638.2V4211.7H1640.9V4211.7H1643.6V4230.2H1646.3V4230.4H1649.0V4230.4H1651.7V4230.4H1654.4V4222.2H1657.1V4222.2H1659.8V4222.2H1662.5V4222.2H1665.2V4224.2H1667.9V4224.2H1670.6V4209.0H1673.3V4204.7H1676.0V4204.7H1678.7V4204.7H1681.4V4224.8H1684.1V4214.9H1686.8V4214.9H1689.5V4214.9H1692.2V4214.9H1694.9V4227.6H1697.6V4219.1H1700.3V4219.1H1703.0V4219.1H1705.7V4219.1H1708.4V4219.4H1711.1V4217.1H1713.8V4212.0H1716.5V4212.0H1719.2V4212.0H1721.9V4212.0H1724.6V4215.0H1727.3V4215.0H1730.0V4215.0H1732.7V4211.9H1735.4V4211.9H1738.1V4197.8H1740.8V4197.8H1743.5V4197.8H1746.2V4200.1H1748.9V4219.0H1751.6V4219.0H1754.3V4219.0H1757.0V4222.1H1759.7V4229.6H1762.4V4229.6H1765.1V4228.8H1767.8V4228.8H1770.5V4228.8H1773.2V4230.7H1775.9V4230.7H1778.6V4219.9H1781.3V4219.9H1784.0V4219.9H1786.7V4219.9H1789.4V4216.6H1792.1V4216.6H1794.8V4216.6H1797.5V4216.6H1800.2V4223.7H1802.9V4223.7H1805.6V4223.7H1808.3V4234.4H1811.0V4234.4H1813.7V4234.4H1816.4V4234.4H1819.1V4219.7H1821.8V4219.4H1824.5V4215.0H1827.2V4215.0H1829.9V4215.0H1832.6V4215.0H1835.3V4223.6H1838.0V4234.1H1840.7V4231.9H1843.4V4231.9H1846.1V4225.9H1848.8V4225.9H1851.5V4219.9H1854.2V4219.9H1856.9V4219.9H1859.6V4221.9H1862.3V4221.9H1865.0V4215.3H1867.7V4215.3H1870.4V4209.9H1873.1V4209.9H1875.8V4209.9H1878.5V4210.6H1881.2V4218.1H1883.9V4218.1H1886.6V4222.0H1889.3V4225.8H1892.0V4218.9H1894.7V4207.5H1897.4V4207.5H1900.1V4207.5H1902.8V4207.5H1905.5V4209.4H1908.2V4209.4H1910.9V4222.6H1913.6V4224.9H1916.3V4243.8H1913.6V4243.8H1910.9V4243.8H1908.2V4238.2H1905.5V4248.4H1902.8V4248.4H1900.1V4248.4H1897.4V4249.0H1894.7V4249.0H1892.0V4249.0H1889.3V4249.0H1886.6V4242.3H1883.9V4237.1H1881.2V4231.9H1878.5V4231.9H1875.8V4240.3H1873.1V4240.3H1870.4V4240.3H1867.7V4266.2H1865.0V4266.2H1862.3V4266.2H1859.6V4266.2H1856.9V4248.0H1854.2V4248.0H1851.5V4248.0H1848.8V4251.9H1846.1V4251.9H1843.4V4251.9H1840.7V4251.9H1838.0V4251.0H1835.3V4251.0H1832.6V4251.0H1829.9V4244.2H1827.2V4248.3H1824.5V4248.3H1821.8V4264.7H1819.1V4264.7H1816.4V4264.7H1813.7V4264.7H1811.0V4264.1H1808.3V4256.6H1805.6V4256.6H1802.9V4256.6H1800.2V4244.1H1797.5V4245.3H1794.8V4265.9H1792.1V4265.9H1789.4V4265.9H1786.7V4265.9H1784.0V4255.7H1781.3V4255.7H1778.6V4266.2H1775.9V4266.2H1773.2V4266.2H1770.5V4266.2H1767.8V4250.3H1765.1V4250.3H1762.4V4247.1H1759.7V4249.3H1757.0V4249.3H1754.3V4249.3H1751.6V4249.3H1748.9V4247.7H1746.2V4247.7H1743.5V4247.7H1740.8V4267.0H1738.1V4267.0H1735.4V4267.0H1732.7V4256.8H1730.0V4252.4H1727.3V4252.4H1724.6V4252.5H1721.9V4252.5H1719.2V4252.5H1716.5V4245.2H1713.8V4251.9H1711.1V4251.9H1708.4V4251.9H1705.7V4244.8H1703.0V4250.6H1700.3V4250.6H1697.6V4251.3H1694.9V4251.3H1692.2V4251.3H1689.5V4251.3H1686.8V4267.4H1684.1V4267.4H1681.4V4267.4H1678.7V4267.4H1676.0V4246.5H1673.3V4246.5H1670.6V4248.6H1667.9V4248.6H1665.2V4248.6H1662.5V4250.4H1659.8V4250.4H1657.1V4250.4H1654.4V4257.2H1651.7V4257.2H1649.0V4257.2H1646.3V4257.2H1643.6V4254.0H1640.9V4247.2H1638.2V4249.6H1635.5V4249.6H1632.8V4251.9H1630.1V4251.9H1627.4V4251.9H1624.7V4251.9H1622.0V4245.7H1619.3V4245.7H1616.6V4245.7H1613.9V4245.7H1611.2V4238.3H1608.5V4234.9H1605.8V4235.2H1603.1V4235.2H1600.4V4235.2H1597.7V4224.3H1595.0V4224.3H1592.3V4231.1H1589.6V4231.1H1586.9V4231.1H1584.2V4231.1H1581.5V4229.2H1578.8V4228.8H1576.1V4228.8H1573.4V4228.8H1570.7V4232.8H1568.0V4251.1H1565.3V4251.1H1562.6V4251.1H1559.9V4253.4H1557.2V4259.6H1554.5V4259.6H1551.8V4259.6H1549.1V4259.6H1546.4V4252.9H1543.7V4252.9H1541.0V4250.7H1538.3V4260.5H1535.6V4260.5H1532.9V4260.5H1530.2V4258.5H1527.5V4258.5H1524.8V4251.0H1522.1V4251.0H1519.4V4247.1H1516.7V4247.1H1514.0V4251.4H1511.3V4251.4H1508.6V4253.6H1505.9V4253.6H1503.2V4253.6H1500.5V4243.9H1497.8V4243.9H1495.1V4230.7H1492.4V4267.3H1489.7V4267.3H1487.0V4267.3H1484.3V4260.2H1481.6V4269.1H1478.9V4269.1H1476.2V4269.1H1473.5V4269.1H1470.8V4253.1H1468.1V4260.6H1465.4V4260.6H1462.7V4260.6H1460.0V4260.6H1457.3V4247.7H1454.6V4247.7H1451.9V4247.7H1449.2V4252.7H1446.5V4252.7H1443.8V4252.7H1441.1V4260.9H1438.4V4260.9H1435.7V4260.9H1433.0V4260.9H1430.3V4257.6H1427.6V4257.6H1424.9V4250.6H1422.2V4229.9H1419.5V4235.1H1416.8V4235.1H1414.1V4235.1H1411.4V4270.1H1408.7V4270.1H1406.0V4270.1H1403.3V4244.4H1400.6V4255.2H1397.9V4270.3H1395.2V4270.3H1392.5V4270.3H1389.8V4255.1H1387.1V4255.1H1384.4V4255.1H1381.7V4255.1H1379.0V4247.0H1376.3V4245.7H1373.6V4244.0H1370.9V4244.0H1368.2V4244.0H1365.5V4247.3H1362.8V4247.3H1360.1V4247.3H1357.4V4247.3H1354.7V4246.4H1352.0V4246.4H1349.3V4246.4H1346.6V4268.0H1343.9V4268.0H1341.2V4268.0H1338.5V4268.0H1335.8V4262.7H1333.1V4262.7H1330.4V4262.7H1327.7V4262.7H1325.0V4260.9H1322.3V4260.9H1319.6V4236.8H1316.9V4236.8H1314.2V4231.0H1311.5V4231.0H1308.8V4221.3H1306.1V4221.3H1303.4V4221.3H1300.7V4221.3H1298.0V4221.3H1295.3V4249.4H1292.6V4249.4H1289.9V4249.4H1287.2V4249.4H1284.5V4236.1H1281.8V4243.2H1279.1V4243.2H1276.4V4253.2H1273.7V4253.2H1271.0V4253.2H1268.3V4253.2H1265.6V4239.9H1262.9V4263.1H1260.2V4263.1H1257.5V4263.1H1254.8V4232.8H1252.1V4253.8H1249.4V4253.8H1246.7V4253.8H1244.0V4237.0H1241.3V4237.0H1238.6V4238.7H1235.9V4238.7H1233.2V4238.7H1230.5V4236.8H1227.8V4240.3H1225.1V4244.3H1222.4V4244.3H1219.7V4272.7H1217.0V4272.7H1214.3V4272.7H1211.6V4272.7H1208.9V4244.4H1206.2V4244.4H1203.5V4244.4H1200.8V4244.4H1198.1V4253.4H1195.4V4253.4H1192.7V4253.4H1190.0V4238.5H1187.3V4238.5H1184.6V4235.4H1181.9V4250.6H1179.2V4250.6H1176.5V4250.6H1173.8V4250.6H1171.1V4246.2H1168.4V4246.2H1165.7V4227.1H1163.0V4233.6H1160.3V4233.6H1157.6V4238.7H1154.9V4249.9H1152.2V4249.9H1149.5V4249.9H1146.8V4249.9H1144.1V4241.1H1141.4V4241.1H1138.7V4241.1H1136.0V4247.4H1133.3V4247.4H1130.6V4247.4H1127.9V4253.4H1125.2V4253.4H1122.5V4253.4H1119.8V4255.7H1117.1V4255.7H1114.4V4255.7H1111.7V4259.7H1109.0V4259.7H1106.3V4267.7H1103.6V4267.7H1100.9V4267.7H1098.2V4267.7H1095.5V4264.5H1092.8V4258.6H1090.1V4258.6H1087.4V4258.6H1084.7V4242.9H1082.0V4241.6H1079.3V4241.6H1076.6V4241.6H1073.9V4240.3H1071.2V4240.3H1068.5V4245.1H1065.8V4245.1H1063.1V4245.1H1060.4V4241.6H1057.7V4245.0H1055.0V4249.7H1052.3V4249.7H1049.6V4259.7H1046.9V4259.7H1044.2V4259.7H1041.5V4254.4H1038.8V4248.5H1036.1V4243.6H1033.4V4250.6H1030.7V4250.6H1028.0V4250.6H1025.3V4250.6H1022.6V4244.4H1019.9V4251.6H1017.2V4251.6H1014.5V4251.6H1011.8V4251.6H1009.1V4243.9H1006.4V4243.9H1003.7V4227.0H1001.0V4239.4H998.3V4239.4H995.6V4260.1H992.9V4260.1H990.2V4260.1H987.5V4260.1H984.8V4240.0H982.1V4264.9H979.4V4264.9H976.7V4264.9H974.0V4240.6H971.3V4242.5H968.6V4263.0H965.9V4263.0H963.2V4263.0H960.5V4262.3H957.8V4262.3H955.1V4262.3H952.4V4251.5H949.7V4251.5H947.0V4259.2H944.3V4259.2H941.6V4259.2H938.9V4259.2H936.2V4248.3H933.5V4241.2H930.8V4241.2H928.1V4250.1H925.4V4250.1H922.7V4250.1H920.0V4252.3H917.3V4252.3H914.6V4252.3H911.9V4259.0H909.2V4259.0H906.5V4271.9H903.8V4273.1H901.1V4273.1H898.4V4273.1H895.7V4273.1H893.0V4261.7H890.3V4261.7H887.6V4261.7H884.9V4261.7H882.2V4255.1H879.5V4249.3H876.8V4249.3H874.1V4246.1H871.4V4248.6H868.7V4250.8H866.0V4250.8H863.3V4250.8H860.6V4249.4H857.9V4249.4H855.2V4239.2H852.5V4239.2H849.8V4258.8H847.1V4258.8H844.4V4267.7H841.7V4267.7H839.0V4267.7H836.3V4267.7H833.6V4259.7H830.9V4259.7H828.2V4259.7H825.5V4256.8H822.8V4257.8H820.1V4268.0H817.4V4268.0H814.7V4268.0H812.0V4257.5H809.3V4257.1H806.6V4257.1H803.9V4255.7H801.2V4255.7H798.5V4253.4H795.8V4253.4H793.1V4253.0H790.4V4253.0H787.7V4254.4H785.0V4269.9H782.3V4269.9H779.6V4269.9H776.9V4262.2H774.2V4262.2H771.5V4262.2H768.8V4262.7H766.1V4262.7H763.4V4262.7H760.7V4258.6H758.0V4245.5H755.3V4245.5H752.6V4245.5H749.9V4241.1H747.2V4245.8H744.5V4264.1H741.8V4264.1H739.1V4264.1H736.4V4246.7H733.7V4246.7H731.0V4253.6H728.3V4253.6H725.6V4253.6H722.9V4246.9H720.2V4246.9H717.5V4250.0H714.8V4261.5H712.1V4261.5H709.4V4261.5H706.7V4256.4H704.0V4274.7H701.3V4274.7H698.6V4274.7H695.9V4274.7H693.2V4274.6H690.5V4270.7H687.8V4249.1H685.1V4247.5H682.4V4239.0H679.7V4239.0H677.0V4238.4H674.3V4238.4H671.6V4246.0H668.9V4246.0H666.2V4250.9H663.5V4253.8H660.8V4258.3H658.1V4266.9H655.4V4266.9H652.7V4266.9H650.0V4271.2H647.3V4271.2H644.6V4271.2H641.9V4249.4H639.2V4250.4H636.5V4250.4H633.8V4250.4H631.1V4250.4H628.4V4251.2H625.7V4251.7H623.0V4251.7H620.3V4251.7H617.6V4262.9H614.9V4262.9H612.2V4262.9H609.5V4255.1H606.8V4246.3H604.1V4257.6H601.4V4257.6H598.7V4257.6H596.0V4262.9H593.3V4262.9H590.6V4262.9H587.9V4257.8H585.2V4257.8H582.5V4254.3H579.8V4248.3H577.1V4260.4H574.4V4260.4H571.7V4260.4H569.0V4245.0H566.3V4250.6H563.6V4250.6H560.9V4250.6H558.2V4244.8H555.5V4244.8H552.8V4245.1H550.1V4245.1H547.4V4245.1H544.7V4234.5H542.0V4249.5H539.3V4249.5H536.6V4249.5H533.9V4249.5H531.2V4245.1H528.5V4245.1H525.8V4245.1H523.1V4245.1H520.4V4245.1H517.7V4245.1H515.0V4242.5H512.3V4229.0H509.6V4229.0H506.9V4229.0H504.2V4217.8H501.5V4217.8H498.8V4244.2H496.1V4251.7H493.4V4251.7H490.7V4251.7H488.0V4251.7H485.3V4245.3H482.6V4245.3H479.9V4245.3H477.2V4245.3H474.5V4233.2H471.8V4253.6H469.1V4253.6H466.4V4253.6H463.7V4253.6H461.0V4232.2H458.3V4229.0H455.6V4229.0H452.9V4229.0H450.2V4225.0H447.5V4225.0H444.8V4224.0H442.1V4227.4H439.4V4227.4H436.7V4227.4H434.0V4227.4H431.3V4242.2H428.6V4242.2H425.9V4242.2H423.2V4239.3H420.5V4231.1H417.8V4227.8H415.1V4252.2H412.4V4252.2H409.7V4252.2H407.0V4238.9H404.3V4238.9H401.6V4260.8H398.9V4260.8H396.2V4268.6H393.5V4268.6H390.8V4268.6H388.1V4268.6H385.4V4265.7H382.7V4265.6H380.0V4265.6H377.3V4265.6H374.6V4258.2H371.9V4263.9H369.2V4263.9H366.5V4267.0H363.8V4267.0H361.1V4267.0H358.4V4267.0H355.7V4248.9H353.0V4248.9H350.3V4248.9H347.6V4248.9H344.9V4243.4H342.2V4249.8H339.5V4257.1H336.8V4257.1H334.1V4257.1H331.4V4257.1H328.7V4268.5H326.0V4268.5H323.3V4268.5H320.6V4268.5H317.9V4250.5H315.2V4251.9H312.5V4275.1H309.8V4275.1H307.1Z" fill="#ffa500"/>
<path d="M306.0 4313.0V4214.4" stroke="#ffbd21" stroke-width="5"/>
<path d="M307.1 4183.3V4183.3H309.8V4167.5H312.5V4167.5H315.2V4167.5H317.9V4167.5H320.6V4173.4H323.3V4179.2H326.0V4179.2H328.7V4179.2H331.4V4186.2H334.1V4183.8H336.8V4183.8H339.5V4176.1H342.2V4176.1H344.9V4165.8H347.6V4145.2H350.3V4145.2H353.0V4145.2H355.7V4156.4H358.4V4156.4H361.1V4162.0H363.8V4163.9H366.5V4163.9H369.2V4163.9H371.9V4168.2H374.6V4168.2H377.3V4168.2H380.0V4168.2H382.7V4181.3H385.4V4182.9H388.1V4182.9H390.8V4170.9H393.5V4161.6H396.2V4161.6H398.9V4161.6H401.6V4168.3H404.3V4168.3H407.0V4168.3H409.7V4173.1H412.4V4173.0H415.1V4173.0H417.8V4173.0H420.5V4167.7H423.2V4167.7H425.9V4167.7H428.6V4172.4H431.3V4172.4H434.0V4165.5H436.7V4149.5H439.4V4149.5H442.1V4149.5H444.8V4159.2H447.5V4159.2H450.2V4165.1H452.9V4169.4H455.6V4169.4H458.3V4183.3H461.0V4179.3H463.7V4176.1H466.4V4175.4H469.1V4175.4H471.8V4175.4H474.5V4173.0H477.2V4173.0H479.9V4169.9H482.6V4169.9H485.3V4169.9H488.0V4178.2H490.7V4172.4H493.4V4163.1H496.1V4163.1H498.8V4163.1H501.5V4155.2H504.2V4155.2H506.9V4155.2H509.6V4165.4H512.3V4166.9H515.0V4169.3H517.7V4139.1H520.4V4139.1H523.1V4139.1H525.8V4139.1H528.5V4144.9H531.2V4144.9H533.9V4165.5H536.6V4161.4H539.3V4161.4H542.0V4161.4H544.7V4157.6H547.4V4143.7H550.1V4143.7H552.8V4143.7H555.5V4143.7H558.2V4153.9H560.9V4150.4H563.6V4150.4H566.3V4150.4H569.0V4150.4H571.7V4153.9H574.4V4155.9H577.1V4162.8H579.8V4162.8H582.5V4162.8H585.2V4152.7H587.9V4152.7H590.6V4152.7H593.3V4152.7H596.0V4156.0H598.7V4165.9H601.4V4165.9H604.1V4169.6H606.8V4169.6H609.5V4154.5H612.2V4154.5H614.9V4154.5H617.6V4154.5H620.3V4160.3H623.0V4160.3H625.7V4155.1H628.4V4155.1H631.1V4155.1H633.8V4157.6H636.5V4157.6H639.2V4157.6H641.9V4166.8H644.6V4169.5H647.3V4168.3H650.0V4147.7H652.7V4147.7H655.4V4147.1H658.1V4139.2H660.8V4124.2H663.5V4123.6H666.2V4123.6H668.9V4123.6H671.6V4123.6H674.3V4134.7H677.0V4142.5H679.7V4142.5H682.4V4132.2H685.1V4129.3H687.8V4120.6H690.5V4120.6H693.2V4120.6H695.9V4133.2H698.6V4133.2H701.3V4145.0H704.0V4145.0H706.7V4148.2H709.4V4146.5H712.1V4146.5H714.8V4139.7H717.5V4139.7H720.2V4139.7H722.9V4143.2H725.6V4148.9H728.3V4148.9H731.0V4151.8H733.7V4157.0H736.4V4157.0H739.1V4144.4H741.8V4144.4H744.5V4144.4H747.2V4144.4H749.9V4149.8H752.6V4136.4H755.3V4136.4H758.0V4136.4H760.7V4136.4H763.4V4160.7H766.1V4160.8H768.8V4153.5H771.5V4153.5H774.2V4153.5H776.9V4158.5H779.6V4158.5H782.3V4158.5H785.0V4171.9H787.7V4127.4H790.4V4127.4H793.1V4127.4H795.8V4127.4H798.5V4143.1H801.2V4143.1H803.9V4143.1H806.6V4152.2H809.3V4163.1H812.0V4163.1H814.7V4163.1H817.4V4173.4H820.1V4165.0H822.8V4165.0H825.5V4165.0H828.2V4153.8H830.9V4153.8H833.6V4153.8H836.3V4159.2H839.0V4152.0H841.7V4152.0H844.4V4152.0H847.1V4161.7H849.8V4161.7H852.5V4167.1H855.2V4167.1H857.9V4157.9H860.6V4153.0H863.3V4153.0H866.0V4153.0H868.7V4160.0H871.4V4160.0H874.1V4163.0H876.8V4163.0H879.5V4163.4H882.2V4163.4H884.9V4168.3H887.6V4159.5H890.3V4159.5H893.0V4154.8H895.7V4154.8H898.4V4154.8H901.1V4173.5H903.8V4155.2H906.5V4155.2H909.2V4155.2H911.9V4155.2H914.6V4156.4H917.3V4158.4H920.0V4158.4H922.7V4157.2H925.4V4157.2H928.1V4157.2H930.8V4152.5H933.5V4152.5H936.2V4140.3H938.9V4140.3H941.6V4140.3H944.3V4148.2H947.0V4148.2H949.7V4148.2H952.4V4161.1H955.1V4151.6H957.8V4151.6H960.5V4151.6H963.2V4151.6H965.9V4165.5H968.6V4165.5H971.3V4164.6H974.0V4164.6H976.7V4153.0H979.4V4153.0H982.1V4153.0H984.8V4153.0H987.5V4161.9H990.2V4161.9H992.9V4154.4H995.6V4154.4H998.3V4154.4H1001.0V4154.4H1003.7V4159.4H1006.4V4160.9H1009.1V4160.9H1011.8V4168.5H1014.5V4168.5H1017.2V4168.5H1019.9V4157.4H1022.6V4157.4H1025.3V4157.4H1028.0V4158.8H1030.7V4158.8H1033.4V4175.9H1036.1V4177.7H1038.8V4174.1H1041.5V4174.1H1044.2V4167.7H1046.9V4163.8H1049.6V4163.8H1052.3V4158.3H1055.0V4158.3H1057.7V4158.3H1060.4V4165.7H1063.1V4153.1H1065.8V4138.6H1068.5V4138.6H1071.2V4138.6H1073.9V4138.6H1076.6V4139.6H1079.3V4139.6H1082.0V4139.6H1084.7V4139.6H1087.4V4127.7H1090.1V4127.7H1092.8V4127.7H1095.5V4127.7H1098.2V4106.7H1100.9V4106.7H1103.6V4106.7H1106.3V4122.7H1109.0V4127.5H1111.7V4127.5H1114.4V4127.5H1117.1V4143.6H1119.8V4143.6H1122.5V4133.3H1125.2V4133.3H1127.9V4133.3H1130.6V4130.9H1133.3V4130.9H1136.0V4130.9H1138.7V4130.9H1141.4V4146.4H1144.1V4159.8H1146.8V4159.8H1149.5V4160.3H1152.2V4155.5H1154.9V4155.5H1157.6V4155.5H1160.3V4144.8H1163.0V4144.8H1165.7V4144.8H1168.4V4136.1H1171.1V4136.1H1173.8V4136.1H1176.5V4136.1H1179.2V4145.2H1181.9V4145.2H1184.6V4145.2H1187.3V4145.1H1190.0V4145.1H1192.7V4145.1H1195.4V4144.2H1198.1V4141.3H1200.8V4141.3H1203.5V4141.3H1206.2V4141.3H1208.9V4145.3H1211.6V4139.8H1214.3V4139.8H1217.0V4139.8H1219.7V4142.3H1222.4V4148.1H1225.1V4144.1H1227.8V4137.8H1230.5V4137.8H1233.2V4137.8H1235.9V4137.8H1238.6V4136.5H1241.3V4136.5H1244.0V4136.5H1246.7V4152.9H1249.4V4159.0H1252.1V4141.8H1254.8V4141.8H1257.5V4141.8H1260.2V4150.0H1262.9V4151.9H1265.6V4149.0H1268.3V4145.3H1271.0V4145.3H1273.7V4128.0H1276.4V4128.0H1279.1V4128.0H1281.8V4145.1H1284.5V4145.1H1287.2V4132.0H1289.9V4132.0H1292.6V4132.0H1295.3V4132.4H1298.0V4132.4H1300.7V4132.4H1303.4V4136.5H1306.1V4136.5H1308.8V4157.9H1311.5V4146.3H1314.2V4146.3H1316.9V4146.3H1319.6V4146.3H1322.3V4118.7H1325.0V4118.7H1327.7V4118.7H1330.4V4118.7H1333.1V4124.9H1335.8V4124.9H1338.5V4126.5H1341.2V4126.5H1343.9V4165.7H1346.6V4165.7H1349.3V4165.7H1352.0V4191.0H1354.7V4170.2H1357.4V4170.2H1360.1V4123.5H1362.8V4123.5H1365.5V4123.5H1368.2V4123.5H1370.9V4129.6H1373.6V4130.0H1376.3V4137.9H1379.0V4142.1H1381.7V4142.1H1384.4V4142.1H1387.1V4142.4H1389.8V4142.4H1392.5V4131.7H1395.2V4131.7H1397.9V4131.7H1400.6V4131.7H1403.3V4143.0H1406.0V4118.2H1408.7V4118.2H1411.4V4118.2H1414.1V4118.2H1416.8V4124.9H1419.5V4124.9H1422.2V4124.9H1424.9V4124.9H1427.6V4130.2H1430.3V4130.2H1433.0V4130.2H1435.7V4130.2H1438.4V4135.2H1441.1V4150.6H1443.8V4150.5H1446.5V4134.4H1449.2V4134.4H1451.9V4134.4H1454.6V4140.0H1457.3V4149.3H1460.0V4151.8H1462.7V4142.7H1465.4V4142.7H1468.1V4142.7H1470.8V4148.4H1473.5V4148.4H1476.2V4154.3H1478.9V4154.3H1481.6V4154.3H1484.3V4151.1H1487.0V4151.1H1489.7V4151.1H1492.4V4151.1H1495.1V4152.5H1497.8V4145.5H1500.5V4145.5H1503.2V4145.5H1505.9V4145.5H1508.6V4143.2H1511.3V4143.0H1514.0V4143.0H1516.7V4143.0H1519.4V4146.1H1522.1V4146.0H1524.8V4145.2H1527.5V4145.2H1530.2V4145.2H1532.9V4145.2H1535.6V4148.5H1538.3V4141.7H1541.0V4141.7H1543.7V4141.7H1546.4V4145.3H1549.1V4145.3H1551.8V4145.3H1554.5V4144.3H1557.2V4144.3H1559.9V4142.5H1562.6V4142.5H1565.3V4131.7H1568.0V4131.7H1570.7V4131.7H1573.4V4135.2H1576.1V4158.5H1578.8V4158.5H1581.5V4158.5H1584.2V4140.3H1586.9V4140.3H1589.6V4140.3H1592.3V4140.3H1595.0V4172.2H1597.7V4179.9H1600.4V4168.1H1603.1V4143.2H1605.8V4143.2H1608.5V4143.2H1611.2V4167.7H1613.9V4167.7H1616.6V4153.6H1619.3V4153.6H1622.0V4153.6H1624.7V4153.6H1627.4V4151.5H1630.1V4147.9H1632.8V4147.9H1635.5V4147.9H1638.2V4147.9H1640.9V4160.2H1643.6V4140.3H1646.3V4140.3H1649.0V4140.3H1651.7V4165.0H1654.4V4153.6H1657.1V4153.6H1659.8V4148.4H1662.5V4148.4H1665.2V4148.4H1667.9V4148.4H1670.6V4143.8H1673.3V4143.8H1676.0V4143.8H1678.7V4147.5H1681.4V4149.0H1684.1V4149.5H1686.8V4153.3H1689.5V4149.7H1692.2V4149.7H1694.9V4149.7H1697.6V4149.7H1700.3V4163.7H1703.0V4163.7H1705.7V4163.8H1708.4V4175.2H1711.1V4173.1H1713.8V4171.2H1716.5V4171.2H1719.2V4169.5H1721.9V4162.3H1724.6V4162.3H1727.3V4162.3H1730.0V4162.3H1732.7V4162.7H1735.4V4162.7H1738.1V4157.5H1740.8V4157.5H1743.5V4151.8H1746.2V4151.8H1748.9V4151.8H1751.6V4152.8H1754.3V4152.8H1757.0V4139.3H1759.7V4139.1H1762.4V4139.1H1765.1V4137.4H1767.8V4137.4H1770.5V4137.4H1773.2V4138.8H1775.9V4138.8H1778.6V4160.6H1781.3V4160.6H1784.0V4146.5H1786.7V4146.5H1789.4V4146.5H1792.1V4146.5H1794.8V4149.8H1797.5V4148.1H1800.2V4129.3H1802.9V4129.3H1805.6V4129.3H1808.3V4147.2H1811.0V4147.2H1813.7V4141.3H1816.4V4141.3H1819.1V4141.3H1821.8V4145.9H1824.5V4142.8H1827.2V4142.8H1829.9V4116.0H1832.6V4116.0H1835.3V4116.0H1838.0V4116.0H1840.7V4138.7H1843.4V4131.2H1846.1V4131.2H1848.8V4131.2H1851.5V4131.4H1854.2V4123.9H1856.9V4119.3H1859.6V4119.3H1862.3V4119.3H1865.0V4125.3H1867.7V4125.3H1870.4V4113.7H1873.1V4113.7H1875.8V4113.4H1878.5V4113.4H1881.2V4113.4H1883.9V4132.0H1886.6V4132.0H1889.3V4132.0H1892.0V4135.4H1894.7V4140.3H1897.4V4146.7H1900.1V4135.3H1902.8V4135.3H1905.5V4135.3H1908.2V4135.3H1910.9V4135.8H1913.6V4135.8H1916.3V4191.0H1913.6V4191.0H1910.9V4164.3H1908.2V4175.3H1905.5V4175.3H1902.8V4175.3H1900.1V4163.1H1897.4V4163.1H1894.7V4161.6H1892.0V4161.6H1889.3V4182.2H1886.6V4182.2H1883.9V4182.2H1881.2V4165.4H1878.5V4180.9H1875.8V4180.9H1873.1V4180.9H1870.4V4180.9H1867.7V4156.7H1865.0V4156.7H1862.3V4177.1H1859.6V4177.1H1856.9V4177.1H1854.2V4177.1H1851.5V4168.9H1848.8V4179.2H1846.1V4179.2H1843.4V4179.2H1840.7V4179.2H1838.0V4174.7H1835.3V4167.6H1832.6V4167.6H1829.9V4185.5H1827.2V4185.5H1824.5V4185.5H1821.8V4174.7H1819.1V4173.0H1816.4V4169.7H1813.7V4175.4H1811.0V4200.7H1808.3V4200.7H1805.6V4200.7H1802.9V4200.7H1800.2V4198.1H1797.5V4185.4H1794.8V4185.4H1792.1V4202.7H1789.4V4202.7H1786.7V4202.7H1784.0V4204.1H1781.3V4204.1H1778.6V4204.1H1775.9V4204.1H1773.2V4172.8H1770.5V4172.8H1767.8V4164.2H1765.1V4182.6H1762.4V4182.6H1759.7V4182.6H1757.0V4202.6H1754.3V4202.6H1751.6V4202.6H1748.9V4202.6H1746.2V4191.0H1743.5V4190.2H1740.8V4189.4H1738.1V4191.1H1735.4V4198.2H1732.7V4198.2H1730.0V4198.2H1727.3V4190.9H1724.6V4190.9H1721.9V4190.9H1719.2V4190.9H1716.5V4188.9H1713.8V4191.7H1711.1V4195.1H1708.4V4195.1H1705.7V4195.1H1703.0V4195.1H1700.3V4190.8H1697.6V4190.8H1694.9V4190.8H1692.2V4177.8H1689.5V4177.8H1686.8V4177.8H1684.1V4167.0H1681.4V4169.3H1678.7V4169.3H1676.0V4174.5H1673.3V4174.5H1670.6V4174.5H1667.9V4182.2H1665.2V4189.2H1662.5V4195.0H1659.8V4195.0H1657.1V4195.0H1654.4V4195.0H1651.7V4183.9H1649.0V4184.3H1646.3V4188.1H1643.6V4188.1H1640.9V4211.1H1638.2V4211.1H1635.5V4211.1H1632.8V4209.2H1630.1V4211.5H1627.4V4211.5H1624.7V4211.5H1622.0V4202.5H1619.3V4202.5H1616.6V4202.5H1613.9V4204.7H1611.2V4204.7H1608.5V4204.7H1605.8V4212.3H1603.1V4212.3H1600.4V4212.3H1597.7V4209.6H1595.0V4200.6H1592.3V4200.6H1589.6V4193.9H1586.9V4193.9H1584.2V4193.9H1581.5V4193.9H1578.8V4177.6H1576.1V4177.6H1573.4V4177.6H1570.7V4163.5H1568.0V4179.4H1565.3V4179.4H1562.6V4179.4H1559.9V4182.2H1557.2V4182.2H1554.5V4182.2H1551.8V4196.4H1549.1V4196.4H1546.4V4196.4H1543.7V4186.0H1541.0V4186.0H1538.3V4186.0H1535.6V4179.5H1532.9V4184.7H1530.2V4184.7H1527.5V4188.1H1524.8V4194.6H1522.1V4194.6H1519.4V4194.6H1516.7V4172.3H1514.0V4169.0H1511.3V4169.0H1508.6V4173.5H1505.9V4174.6H1503.2V4174.6H1500.5V4215.5H1497.8V4215.5H1495.1V4215.5H1492.4V4188.4H1489.7V4181.6H1487.0V4177.6H1484.3V4185.1H1481.6V4191.2H1478.9V4191.2H1476.2V4191.2H1473.5V4178.5H1470.8V4181.6H1468.1V4181.6H1465.4V4181.6H1462.7V4181.6H1460.0V4175.7H1457.3V4175.7H1454.6V4175.7H1451.9V4186.6H1449.2V4186.6H1446.5V4192.8H1443.8V4192.8H1441.1V4192.8H1438.4V4192.8H1435.7V4191.4H1433.0V4191.4H1430.3V4191.4H1427.6V4191.4H1424.9V4170.0H1422.2V4170.0H1419.5V4175.6H1416.8V4175.6H1414.1V4175.6H1411.4V4185.2H1408.7V4202.6H1406.0V4202.6H1403.3V4202.6H1400.6V4202.6H1397.9V4206.0H1395.2V4206.0H1392.5V4206.0H1389.8V4175.9H1387.1V4175.9H1384.4V4174.2H1381.7V4174.2H1379.0V4171.0H1376.3V4171.0H1373.6V4169.5H1370.9V4195.4H1368.2V4199.1H1365.5V4215.5H1362.8V4215.9H1360.1V4215.9H1357.4V4215.9H1354.7V4216.0H1352.0V4216.0H1349.3V4216.0H1346.6V4209.4H1343.9V4185.3H1341.2V4185.3H1338.5V4185.3H1335.8V4181.3H1333.1V4183.7H1330.4V4183.7H1327.7V4183.7H1325.0V4182.4H1322.3V4195.4H1319.6V4195.4H1316.9V4195.4H1314.2V4188.5H1311.5V4188.5H1308.8V4188.5H1306.1V4184.0H1303.4V4172.3H1300.7V4181.8H1298.0V4207.4H1295.3V4207.4H1292.6V4207.4H1289.9V4187.5H1287.2V4187.5H1284.5V4189.8H1281.8V4189.8H1279.1V4189.8H1276.4V4186.2H1273.7V4181.9H1271.0V4181.9H1268.3V4216.3H1265.6V4216.3H1262.9V4216.3H1260.2V4179.1H1257.5V4188.4H1254.8V4192.3H1252.1V4207.2H1249.4V4207.2H1246.7V4207.2H1244.0V4192.6H1241.3V4188.1H1238.6V4188.1H1235.9V4174.5H1233.2V4174.5H1230.5V4167.4H1227.8V4181.8H1225.1V4191.5H1222.4V4191.5H1219.7V4191.5H1217.0V4188.4H1214.3V4188.4H1211.6V4204.1H1208.9V4204.1H1206.2V4204.1H1203.5V4204.1H1200.8V4196.6H1198.1V4196.6H1195.4V4196.6H1192.7V4193.3H1190.0V4193.3H1187.3V4193.3H1184.6V4182.1H1181.9V4182.1H1179.2V4182.1H1176.5V4209.8H1173.8V4209.9H1171.1V4209.9H1168.4V4209.9H1165.7V4192.8H1163.0V4212.3H1160.3V4212.3H1157.6V4212.3H1154.9V4190.7H1152.2V4199.7H1149.5V4199.7H1146.8V4199.7H1144.1V4190.3H1141.4V4190.3H1138.7V4178.0H1136.0V4173.4H1133.3V4173.4H1130.6V4193.2H1127.9V4193.2H1125.2V4193.2H1122.5V4193.2H1119.8V4180.3H1117.1V4180.3H1114.4V4182.3H1111.7V4182.3H1109.0V4182.3H1106.3V4165.0H1103.6V4154.3H1100.9V4150.5H1098.2V4150.5H1095.5V4160.8H1092.8V4176.7H1090.1V4176.7H1087.4V4176.7H1084.7V4176.7H1082.0V4166.6H1079.3V4175.8H1076.6V4175.8H1073.9V4175.8H1071.2V4175.8H1068.5V4199.0H1065.8V4199.0H1063.1V4199.0H1060.4V4199.0H1057.7V4183.6H1055.0V4174.4H1052.3V4191.5H1049.6V4191.5H1046.9V4194.1H1044.2V4194.4H1041.5V4205.3H1038.8V4205.3H1036.1V4205.3H1033.4V4205.3H1030.7V4202.9H1028.0V4202.9H1025.3V4202.9H1022.6V4202.0H1019.9V4202.0H1017.2V4202.0H1014.5V4199.1H1011.8V4199.1H1009.1V4198.3H1006.4V4196.2H1003.7V4173.0H1001.0V4185.8H998.3V4197.7H995.6V4197.7H992.9V4197.7H990.2V4186.1H987.5V4182.0H984.8V4182.0H982.1V4180.0H979.4V4183.0H976.7V4191.7H974.0V4191.7H971.3V4204.4H968.6V4204.4H965.9V4204.4H963.2V4200.0H960.5V4192.1H957.8V4201.9H955.1V4201.9H952.4V4201.9H949.7V4189.7H947.0V4187.1H944.3V4187.1H941.6V4187.1H938.9V4180.1H936.2V4200.5H933.5V4200.5H930.8V4200.5H928.1V4200.5H925.4V4191.8H922.7V4191.8H920.0V4191.8H917.3V4191.8H914.6V4190.4H911.9V4198.9H909.2V4198.9H906.5V4198.9H903.8V4198.9H901.1V4195.7H898.4V4195.7H895.7V4193.0H893.0V4185.4H890.3V4187.7H887.6V4187.7H884.9V4187.7H882.2V4187.7H879.5V4181.4H876.8V4181.4H874.1V4184.9H871.4V4184.9H868.7V4184.9H866.0V4222.1H863.3V4222.1H860.6V4222.1H857.9V4222.1H855.2V4204.3H852.5V4204.3H849.8V4204.3H847.1V4194.3H844.4V4197.8H841.7V4197.8H839.0V4197.8H836.3V4197.8H833.6V4194.0H830.9V4197.4H828.2V4197.4H825.5V4197.4H822.8V4197.4H820.1V4193.3H817.4V4193.3H814.7V4193.3H812.0V4193.3H809.3V4191.5H806.6V4182.7H803.9V4176.6H801.2V4173.7H798.5V4173.7H795.8V4177.8H793.1V4192.3H790.4V4192.3H787.7V4196.4H785.0V4196.4H782.3V4196.4H779.6V4176.6H776.9V4174.9H774.2V4174.9H771.5V4173.9H768.8V4173.9H766.1V4188.4H763.4V4188.4H760.7V4192.3H758.0V4192.3H755.3V4192.3H752.6V4186.7H749.9V4176.9H747.2V4176.9H744.5V4193.0H741.8V4193.0H739.1V4193.0H736.4V4193.0H733.7V4190.9H731.0V4190.9H728.3V4190.9H725.6V4173.2H722.9V4173.2H720.2V4168.6H717.5V4185.6H714.8V4185.6H712.1V4185.6H709.4V4174.2H706.7V4174.2H704.0V4172.5H701.3V4172.5H698.6V4157.1H695.9V4157.1H693.2V4158.4H690.5V4163.2H687.8V4163.2H685.1V4169.9H682.4V4169.9H679.7V4169.9H677.0V4166.5H674.3V4166.5H671.6V4177.6H668.9V4177.6H666.2V4192.2H663.5V4192.2H660.8V4192.2H658.1V4192.2H655.4V4200.3H652.7V4200.3H650.0V4200.3H647.3V4191.7H644.6V4188.5H641.9V4188.5H639.2V4184.3H636.5V4200.5H633.8V4200.5H631.1V4200.5H628.4V4200.5H625.7V4211.4H623.0V4211.4H620.3V4211.4H617.6V4203.7H614.9V4183.5H612.2V4195.6H609.5V4195.6H606.8V4195.6H604.1V4195.6H601.4V4212.2H598.7V4212.2H596.0V4212.2H593.3V4189.7H590.6V4189.7H587.9V4191.5H585.2V4191.5H582.5V4193.0H579.8V4193.0H577.1V4193.0H574.4V4193.0H571.7V4185.2H569.0V4185.2H566.3V4185.2H563.6V4205.9H560.9V4205.9H558.2V4205.9H555.5V4184.5H552.8V4195.2H550.1V4222.0H547.4V4222.0H544.7V4222.0H542.0V4211.9H539.3V4203.8H536.6V4203.8H533.9V4203.8H531.2V4191.0H528.5V4191.0H525.8V4175.9H523.1V4196.4H520.4V4196.4H517.7V4196.4H515.0V4196.4H512.3V4191.4H509.6V4191.4H506.9V4211.0H504.2V4211.0H501.5V4211.0H498.8V4197.8H496.1V4205.3H493.4V4211.8H490.7V4211.8H488.0V4211.8H485.3V4210.4H482.6V4210.4H479.9V4214.5H477.2V4214.5H474.5V4214.5H471.8V4215.9H469.1V4215.9H466.4V4228.7H463.7V4228.7H461.0V4228.7H458.3V4228.7H455.6V4209.0H452.9V4202.5H450.2V4202.5H447.5V4216.7H444.8V4216.7H442.1V4216.7H439.4V4199.3H436.7V4198.6H434.0V4198.6H431.3V4198.6H428.6V4201.5H425.9V4214.0H423.2V4214.0H420.5V4214.0H417.8V4214.0H415.1V4197.4H412.4V4198.2H409.7V4198.2H407.0V4198.2H404.3V4198.1H401.6V4198.1H398.9V4202.3H396.2V4202.3H393.5V4209.5H390.8V4209.5H388.1V4209.5H385.4V4209.5H382.7V4209.4H380.0V4209.0H377.3V4209.0H374.6V4209.0H371.9V4194.1H369.2V4207.5H366.5V4207.5H363.8V4207.5H361.1V4199.8H358.4V4199.8H355.7V4199.8H353.0V4199.8H350.3V4197.3H347.6V4194.5H344.9V4220.7H342.2V4220.7H339.5V4232.5H336.8V4232.5H334.1V4232.5H331.4V4215.8H328.7V4200.3H326.0V4200.3H323.3V4198.8H320.6V4198.8H317.9V4191.6H315.2V4211.2H312.5V4255.0H309.8V4255.0H307.1Z" fill="#ffbd21"/>
</g>
<rect x="305.5" y="3667.5" width="1610.5" height="643.5" fill="none" stroke="#000" stroke-width="3.6"/>
<text x="268.5" y="4320.0" font-size="75.5" text-anchor="end">0</text>
<text x="271.5" y="4154.0" font-size="75.5" text-anchor="end">0.1</text>
<text x="270.5" y="3995.0" font-size="75.5" text-anchor="end">0.2</text>
<text x="273.0" y="3836.5" font-size="75.5" text-anchor="end">0.3</text>
<text x="269.5" y="3672.5" font-size="75.5" text-anchor="end">0.4</text>
<text x="310.5" y="4381.5" font-size="75.5" text-anchor="middle">0</text>
<text x="630.6" y="4379.5" font-size="75.5" text-anchor="middle">200</text>
<text x="956.2" y="4379.5" font-size="75.5" text-anchor="middle">400</text>
<text x="1272.8" y="4379.5" font-size="75.5" text-anchor="middle">600</text>
<text x="1598.9" y="4379.5" font-size="75.5" text-anchor="middle">800</text>
<text x="1910.0" y="4379.5" font-size="75.5" text-anchor="middle">1000</text>
<text x="0" y="0" font-size="96.7" text-anchor="middle" transform="translate(131.2 3967.3) rotate(-90)">RMSD(nm)</text>
<text x="878.9" y="4475.8" font-size="95.5" text-anchor="start">Time (ns)</text>
<text x="551.5" y="3732.1" font-size="75.5" text-anchor="end">TM I</text>
<text x="551.5" y="3798.3" font-size="75.5" text-anchor="end">TM II</text>
<text x="1001.0" y="3732.1" font-size="75.5" text-anchor="end">TM III</text>
<text x="1001.0" y="3798.3" font-size="75.5" text-anchor="end">TM IV</text>
<text x="1450.0" y="3732.1" font-size="75.5" text-anchor="end">TM V</text>
<path d="M588.0 3713.6H751.0" stroke="#9400d3" stroke-width="5.5"/>
<path d="M588.0 3781.7H751.0" stroke="#009e73" stroke-width="5.5"/>
<path d="M1037.5 3713.6H1200.0" stroke="#40e0d0" stroke-width="5.5"/>
<path d="M1037.5 3781.7H1200.0" stroke="#ffa500" stroke-width="5.5"/>
<path d="M1485.7 3713.6H1647.5" stroke="#ffbd21" stroke-width="5.5"/>
<text x="741.6" y="3562.4" font-size="95.5" text-anchor="start"><tspan font-style="italic">h</tspan>TSPO-PK11195</text>
<text x="993.8" y="4539.5" font-size="75.5" text-anchor="start">(d)</text>
<ellipse cx="1249" cy="4481.3" rx="3.2" ry="1.8" transform="rotate(-15 1249 4481.3)" fill="#000"/>
</svg></body></html>
